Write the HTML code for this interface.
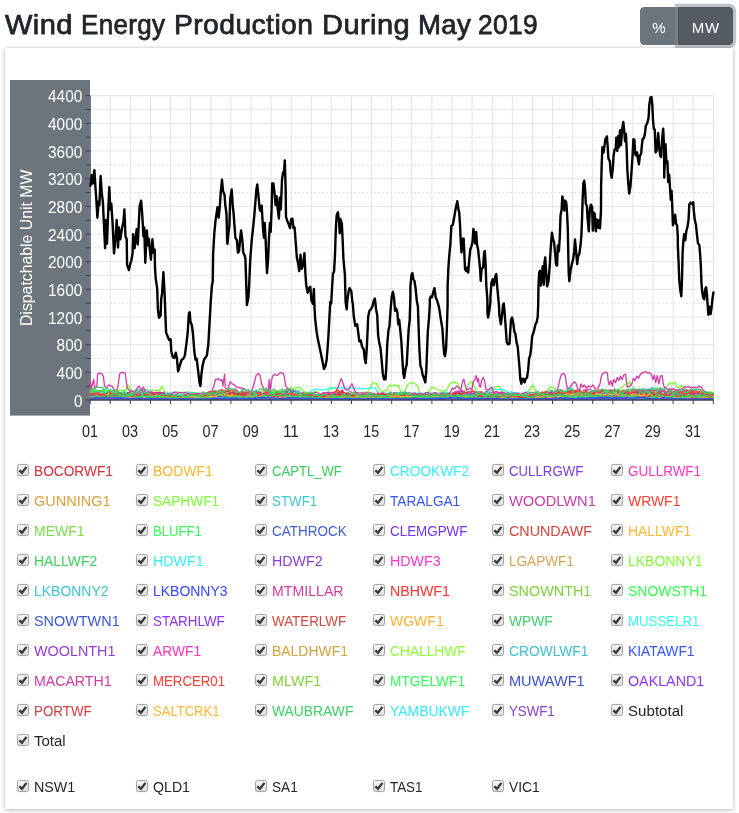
<!DOCTYPE html>
<html lang="en"><head><meta charset="utf-8"><title>Wind Energy Production During May 2019</title>
<style>
html,body{margin:0;padding:0;background:#fff;}
body{width:739px;height:813px;overflow:hidden;position:relative;font-family:"Liberation Sans",sans-serif;color:#212529;}
h3{position:absolute;left:0;top:7px;margin:0;width:600px;height:36px;font-size:27.8px;line-height:36px;font-weight:400;white-space:nowrap;letter-spacing:0.4px;-webkit-text-stroke:0.75px #212529;}
h3 span{position:absolute;top:0;transform-origin:0 0;display:block;}
.btns{position:absolute;left:640px;top:7px;height:38px;display:flex;}
.btn{box-sizing:border-box;height:38px;line-height:39px;color:#fff;font-size:15px;text-align:center;border:1px solid #6c757d;background:#6c757d;}
.b1{width:38px;border-radius:4px 0 0 4px;}
.b2{width:55px;letter-spacing:.8px;text-indent:.8px;border-radius:0 4px 4px 0;background:#545b62;border-color:#4e555b;box-shadow:0 0 0 3.2px rgba(130,138,145,.5);}
.card{position:absolute;left:5px;top:48px;width:728px;height:761px;background:#fff;box-shadow:0 1px 5px rgba(0,0,0,.25),0 0 2px rgba(0,0,0,.12);}
.legend{position:absolute;left:10.2px;top:408px;width:712.2px;display:flex;flex-wrap:wrap;}
.regions{position:absolute;left:10.2px;top:724px;width:712.2px;display:flex;flex-wrap:wrap;}
.it{box-sizing:border-box;width:16.6666%;height:30px;display:flex;align-items:center;padding-left:2px;white-space:nowrap;}
.cb{box-sizing:border-box;display:inline-block;width:12px;height:11.4px;border:1px solid #a3a3a3;border-radius:2.5px;background:linear-gradient(#f6f6f6,#dedede);box-shadow:0 0 1px rgba(0,0,0,.25);margin-right:5px;flex:none;position:relative;top:-0.9px;}
.cb svg{position:absolute;left:-1px;top:-1px;}
.tx{position:relative;top:0.2px;font-size:15.3px;line-height:30px;display:inline-block;transform-origin:0 50%;}
</style></head><body>
<h3><span style="left:5.14px;transform:scaleX(1.0432)">Wind</span> <span style="left:80.50px;transform:scaleX(0.9322)">Energy</span> <span style="left:174.11px;transform:scaleX(1.0181)">Production</span> <span style="left:322.05px;transform:scaleX(1.0445)">During</span> <span style="left:418.17px;transform:scaleX(0.9922)">May</span> <span style="left:477.98px;transform:scaleX(0.9461)">2019</span></h3>
<div class="btns"><div class="btn b1">%</div><div class="btn b2">MW</div></div>
<div class="card">
<svg width="728" height="410" viewBox="5 48 728 410" style="position:absolute;left:0;top:0"><rect x="10" y="80" width="80" height="335.6" fill="#6c757d"/><g stroke="#e1e4e8" stroke-width="1" fill="none"><line x1="90.2" y1="95.7" x2="90.2" y2="400.0"/><line x1="110.3" y1="95.7" x2="110.3" y2="400.0"/><line x1="130.4" y1="95.7" x2="130.4" y2="400.0"/><line x1="150.5" y1="95.7" x2="150.5" y2="400.0"/><line x1="170.6" y1="95.7" x2="170.6" y2="400.0"/><line x1="190.7" y1="95.7" x2="190.7" y2="400.0"/><line x1="210.8" y1="95.7" x2="210.8" y2="400.0"/><line x1="230.9" y1="95.7" x2="230.9" y2="400.0"/><line x1="251.0" y1="95.7" x2="251.0" y2="400.0"/><line x1="271.1" y1="95.7" x2="271.1" y2="400.0"/><line x1="291.2" y1="95.7" x2="291.2" y2="400.0"/><line x1="311.3" y1="95.7" x2="311.3" y2="400.0"/><line x1="331.4" y1="95.7" x2="331.4" y2="400.0"/><line x1="351.5" y1="95.7" x2="351.5" y2="400.0"/><line x1="371.6" y1="95.7" x2="371.6" y2="400.0"/><line x1="391.7" y1="95.7" x2="391.7" y2="400.0"/><line x1="411.8" y1="95.7" x2="411.8" y2="400.0"/><line x1="431.9" y1="95.7" x2="431.9" y2="400.0"/><line x1="452.0" y1="95.7" x2="452.0" y2="400.0"/><line x1="472.1" y1="95.7" x2="472.1" y2="400.0"/><line x1="492.2" y1="95.7" x2="492.2" y2="400.0"/><line x1="512.3" y1="95.7" x2="512.3" y2="400.0"/><line x1="532.4" y1="95.7" x2="532.4" y2="400.0"/><line x1="552.5" y1="95.7" x2="552.5" y2="400.0"/><line x1="572.6" y1="95.7" x2="572.6" y2="400.0"/><line x1="592.7" y1="95.7" x2="592.7" y2="400.0"/><line x1="612.8" y1="95.7" x2="612.8" y2="400.0"/><line x1="632.9" y1="95.7" x2="632.9" y2="400.0"/><line x1="653.0" y1="95.7" x2="653.0" y2="400.0"/><line x1="673.1" y1="95.7" x2="673.1" y2="400.0"/><line x1="693.2" y1="95.7" x2="693.2" y2="400.0"/><line x1="713.3" y1="95.7" x2="713.3" y2="400.0"/><line x1="90.2" y1="400.0" x2="713.3" y2="400.0"/><line x1="90.2" y1="372.3" x2="713.3" y2="372.3"/><line x1="90.2" y1="344.7" x2="713.3" y2="344.7"/><line x1="90.2" y1="317.0" x2="713.3" y2="317.0"/><line x1="90.2" y1="289.3" x2="713.3" y2="289.3"/><line x1="90.2" y1="261.7" x2="713.3" y2="261.7"/><line x1="90.2" y1="234.0" x2="713.3" y2="234.0"/><line x1="90.2" y1="206.4" x2="713.3" y2="206.4"/><line x1="90.2" y1="178.7" x2="713.3" y2="178.7"/><line x1="90.2" y1="151.0" x2="713.3" y2="151.0"/><line x1="90.2" y1="123.4" x2="713.3" y2="123.4"/><line x1="90.2" y1="95.7" x2="713.3" y2="95.7"/></g><g stroke="#dadde1" stroke-width="1" stroke-dasharray="2,2" fill="none"><line x1="90.2" y1="386.2" x2="713.3" y2="386.2"/><line x1="90.2" y1="358.5" x2="713.3" y2="358.5"/><line x1="90.2" y1="330.8" x2="713.3" y2="330.8"/><line x1="90.2" y1="303.2" x2="713.3" y2="303.2"/><line x1="90.2" y1="275.5" x2="713.3" y2="275.5"/><line x1="90.2" y1="247.8" x2="713.3" y2="247.8"/><line x1="90.2" y1="220.2" x2="713.3" y2="220.2"/><line x1="90.2" y1="192.5" x2="713.3" y2="192.5"/><line x1="90.2" y1="164.9" x2="713.3" y2="164.9"/><line x1="90.2" y1="137.2" x2="713.3" y2="137.2"/><line x1="90.2" y1="109.5" x2="713.3" y2="109.5"/></g><g stroke="#3a3f44" stroke-width="1" fill="none"><line x1="85.7" y1="400.0" x2="90.2" y2="400.0"/><line x1="85.7" y1="386.2" x2="90.2" y2="386.2"/><line x1="85.7" y1="372.3" x2="90.2" y2="372.3"/><line x1="85.7" y1="358.5" x2="90.2" y2="358.5"/><line x1="85.7" y1="344.7" x2="90.2" y2="344.7"/><line x1="85.7" y1="330.8" x2="90.2" y2="330.8"/><line x1="85.7" y1="317.0" x2="90.2" y2="317.0"/><line x1="85.7" y1="303.2" x2="90.2" y2="303.2"/><line x1="85.7" y1="289.3" x2="90.2" y2="289.3"/><line x1="85.7" y1="275.5" x2="90.2" y2="275.5"/><line x1="85.7" y1="261.7" x2="90.2" y2="261.7"/><line x1="85.7" y1="247.8" x2="90.2" y2="247.8"/><line x1="85.7" y1="234.0" x2="90.2" y2="234.0"/><line x1="85.7" y1="220.2" x2="90.2" y2="220.2"/><line x1="85.7" y1="206.4" x2="90.2" y2="206.4"/><line x1="85.7" y1="192.5" x2="90.2" y2="192.5"/><line x1="85.7" y1="178.7" x2="90.2" y2="178.7"/><line x1="85.7" y1="164.9" x2="90.2" y2="164.9"/><line x1="85.7" y1="151.0" x2="90.2" y2="151.0"/><line x1="85.7" y1="137.2" x2="90.2" y2="137.2"/><line x1="85.7" y1="123.4" x2="90.2" y2="123.4"/><line x1="85.7" y1="109.5" x2="90.2" y2="109.5"/><line x1="85.7" y1="95.7" x2="90.2" y2="95.7"/><line x1="90.2" y1="400.0" x2="90.2" y2="404.0"/><line x1="110.3" y1="400.0" x2="110.3" y2="404.0"/><line x1="130.4" y1="400.0" x2="130.4" y2="404.0"/><line x1="150.5" y1="400.0" x2="150.5" y2="404.0"/><line x1="170.6" y1="400.0" x2="170.6" y2="404.0"/><line x1="190.7" y1="400.0" x2="190.7" y2="404.0"/><line x1="210.8" y1="400.0" x2="210.8" y2="404.0"/><line x1="230.9" y1="400.0" x2="230.9" y2="404.0"/><line x1="251.0" y1="400.0" x2="251.0" y2="404.0"/><line x1="271.1" y1="400.0" x2="271.1" y2="404.0"/><line x1="291.2" y1="400.0" x2="291.2" y2="404.0"/><line x1="311.3" y1="400.0" x2="311.3" y2="404.0"/><line x1="331.4" y1="400.0" x2="331.4" y2="404.0"/><line x1="351.5" y1="400.0" x2="351.5" y2="404.0"/><line x1="371.6" y1="400.0" x2="371.6" y2="404.0"/><line x1="391.7" y1="400.0" x2="391.7" y2="404.0"/><line x1="411.8" y1="400.0" x2="411.8" y2="404.0"/><line x1="431.9" y1="400.0" x2="431.9" y2="404.0"/><line x1="452.0" y1="400.0" x2="452.0" y2="404.0"/><line x1="472.1" y1="400.0" x2="472.1" y2="404.0"/><line x1="492.2" y1="400.0" x2="492.2" y2="404.0"/><line x1="512.3" y1="400.0" x2="512.3" y2="404.0"/><line x1="532.4" y1="400.0" x2="532.4" y2="404.0"/><line x1="552.5" y1="400.0" x2="552.5" y2="404.0"/><line x1="572.6" y1="400.0" x2="572.6" y2="404.0"/><line x1="592.7" y1="400.0" x2="592.7" y2="404.0"/><line x1="612.8" y1="400.0" x2="612.8" y2="404.0"/><line x1="632.9" y1="400.0" x2="632.9" y2="404.0"/><line x1="653.0" y1="400.0" x2="653.0" y2="404.0"/><line x1="673.1" y1="400.0" x2="673.1" y2="404.0"/><line x1="693.2" y1="400.0" x2="693.2" y2="404.0"/><line x1="713.3" y1="400.0" x2="713.3" y2="404.0"/><line x1="90.2" y1="95.7" x2="90.2" y2="400.5"/></g><g fill="#fff" font-family="'Liberation Sans',sans-serif" font-size="15.6" text-anchor="end"><text x="82.3" y="406.6" textLength="8.4" lengthAdjust="spacingAndGlyphs">0</text><text x="82.3" y="378.9" textLength="25.7" lengthAdjust="spacingAndGlyphs">400</text><text x="82.3" y="351.3" textLength="25.7" lengthAdjust="spacingAndGlyphs">800</text><text x="82.3" y="323.6" textLength="34.3" lengthAdjust="spacingAndGlyphs">1200</text><text x="82.3" y="295.9" textLength="34.3" lengthAdjust="spacingAndGlyphs">1600</text><text x="82.3" y="268.3" textLength="34.3" lengthAdjust="spacingAndGlyphs">2000</text><text x="82.3" y="240.6" textLength="34.3" lengthAdjust="spacingAndGlyphs">2400</text><text x="82.3" y="213.0" textLength="34.3" lengthAdjust="spacingAndGlyphs">2800</text><text x="82.3" y="185.3" textLength="34.3" lengthAdjust="spacingAndGlyphs">3200</text><text x="82.3" y="157.6" textLength="34.3" lengthAdjust="spacingAndGlyphs">3600</text><text x="82.3" y="130.0" textLength="34.3" lengthAdjust="spacingAndGlyphs">4000</text><text x="82.3" y="102.3" textLength="34.3" lengthAdjust="spacingAndGlyphs">4400</text></g><text transform="translate(31.9,247.8) rotate(-90)" fill="#fff" font-family="'Liberation Sans',sans-serif" font-size="15.6" text-anchor="middle" textLength="156.5" lengthAdjust="spacingAndGlyphs">Dispatchable Unit MW</text><g fill="#212529" font-family="'Liberation Sans',sans-serif" font-size="15.6" text-anchor="middle"><text x="89.9" y="436.8" textLength="16" lengthAdjust="spacingAndGlyphs">01</text><text x="130.1" y="436.8" textLength="16" lengthAdjust="spacingAndGlyphs">03</text><text x="170.3" y="436.8" textLength="16" lengthAdjust="spacingAndGlyphs">05</text><text x="210.5" y="436.8" textLength="16" lengthAdjust="spacingAndGlyphs">07</text><text x="250.7" y="436.8" textLength="16" lengthAdjust="spacingAndGlyphs">09</text><text x="290.9" y="436.8" textLength="16" lengthAdjust="spacingAndGlyphs">11</text><text x="331.1" y="436.8" textLength="16" lengthAdjust="spacingAndGlyphs">13</text><text x="371.3" y="436.8" textLength="16" lengthAdjust="spacingAndGlyphs">15</text><text x="411.5" y="436.8" textLength="16" lengthAdjust="spacingAndGlyphs">17</text><text x="451.7" y="436.8" textLength="16" lengthAdjust="spacingAndGlyphs">19</text><text x="491.9" y="436.8" textLength="16" lengthAdjust="spacingAndGlyphs">21</text><text x="532.1" y="436.8" textLength="16" lengthAdjust="spacingAndGlyphs">23</text><text x="572.3" y="436.8" textLength="16" lengthAdjust="spacingAndGlyphs">25</text><text x="612.5" y="436.8" textLength="16" lengthAdjust="spacingAndGlyphs">27</text><text x="652.7" y="436.8" textLength="16" lengthAdjust="spacingAndGlyphs">29</text><text x="692.9" y="436.8" textLength="16" lengthAdjust="spacingAndGlyphs">31</text></g><g fill="none" stroke-width="1.3" stroke-linejoin="round"><path d="M90.2,393.1l2,.8l2,1.1l2,-1.9l2,.9l2,-1.6l2,0l2,2.1l2,.8l2,-1l2,1.9l2,.2l2,.3l2,.2l2,0l2,-.4l2,2.4l2,-2.6l2,.7l2,-1.5l2,.2l2,2.1l2,-1.2l2,1.5l2,.1l2,-1.6l2,-1.3l2,.8l2,1.8l2,-1.2l2,.3l2,1.9l2,-.9l2,-.9l2,-.8l2,1.8l2,-.8l2,-.8l2,.5l2,-.6l2,-.5l2,.4l2,.5l2,-.2l2,.3l2,.3l2,-.9l2,.5l2,-.2l2,-.4l2,.2l2,.3l2,.4l2,.5l2,-1.1l2,-.3l2,.1l2,-.3l2,.2l2,-.2l2,-.6l2,.5l2,-1.8l2,-.7l2,2.5l2,-1l2,1l2,2.4l2,.3l2,-2l2,1.1l2,-.1l2,-.6l2,.2l2,-.3l2,.2l2,.1l2,.4l2,-.4l2,.1l2,-.5l2,-.1l2,1.6l2,-.8l2,-2l2,1.7l2,-.7l2,.6l2,.1l2,.3l2,-1l2,-1.5l2,.8l2,-2.7l2,-.3l2,2.8l2,-.6l2,-.6l2,0l2,-.4l2,-1.2l2,2.3l2,1l2,-2l2,1.7l2,-.6l2,-.1l2,.3l2,0l2,.9l2,-.6l2,.7l2,.1l2,-.3l2,-.3l2,-.5l2,1l2,-.3l2,1.3l2,.2l2,-1.1l2,1.1l2,-1.9l2,2.1l2,.9l2,.2l2,-.3l2,-2.2l2,-.5l2,.9l2,1l2,.8l2,0l2,-.4l2,-.8l2,-.1l2,-.4l2,.3l2,1.2l2,-.3l2,.5l2,-.7l2,.6l2,-1.7l2,1.6l2,-1.1l2,.5l2,-1l2,.7l2,-1.8l2,1l2,-1.6l2,.2l2,.7l2,.9l2,-.2l2,-.2l2,.2l2,.1l2,-1.1l2,.8l2,.8l2,-.8l2,-.3l2,.6l2,-1.1l2,.1l2,1l2,0l2,-.9l2,.3l2,.5l2,-.4l2,.2l2,.1l2,.3l2,2.1l2,.2l2,-1.1l2,.7l2,-.5l2,.2l2,.2l2,-1.5l2,1.4l2,-2l2,-1.7l2,2.1l2,-1.6l2,1l2,1.8l2,-1.9l2,.6l2,.7l2,-1.6l2,2.2l2,-1.6l2,.2l2,1.8l2,-2.4l2,-.4l2,-.9l2,1.1l2,-1.1l2,.1l2,1.1l2,.6l2,-.1l2,-1.1l2,0l2,1.2l2,-.4l2,1.5l2,-.4l2,-.1l2,.3l2,.1l2,-1.1l2,.1l2,.4l2,.6l2,-1.2l2,-1.4l2,-.2l2,0l2,1.7l2,-.7l2,1.3l2,-1.7l2,2.7l2,-.6l2,-1.7l2,2.5l2,0l2,.4l2,-1.8l2,.1l2,-1.3l2,1.6l2,.1l2,-.5l2,-.8l2,.5l2,-1.1l2,.3l2,1.6l2,-.6l2,.9l2,.4l2,-1l2,.6l2,-1.6l2,1.5l2,-3.5l2,2.1l2,-2.2l2,-.5l2,2.2l2,-2.8l2,-.6l2,.8l2,-.8l2,0l2,.8l2,1.2l2,.1l2,-.6l2,0l2,-.1l2,-1.4l2,0l2,2.8l2,.6l2,-1.7l2,-1.7l2,.7l2,-.7l2,1.8l2,-.5l2,1.1l2,-1.8l2,1l2,-1.3l2,2l2,1.7l2,2.6l2,-2.5l2,2.9l2,-2.1l2,-2.2l2,.7l2,1.7l2,-1.5l2,2.1l2,-1.3l2,-.5l2,-.9l2,1.1l2,0l2,.8l2,-1.3l2,.7l2,1l2,-1.5l2,.3l2,1.2l2,-.4l2,1.1l2,-.5l2,-.3l2,-.7l2,-1.7l1.1,-.7" stroke="#d92b38"/><path d="M90.2,398.3l2,.1l2,.2l2,-1.3l2,1l2,-3.6l2,2.1l2,-.8l2,.4l2,-2.1l2,1l2,-1l2,-.2l2,-1.2l2,1.1l2,1.3l2,-.3l2,.2l2,.3l2,-2.2l2,.8l2,.7l2,-.3l2,1.2l2,-.5l2,-.6l2,0l2,-.4l2,2.4l2,-1.4l2,-.5l2,.4l2,1l2,-1.1l2,2.5l2,-.8l2,1.1l2,.3l2,-.1l2,.7l2,.5l2,-.6l2,0l2,.3l2,-.5l2,.2l2,.1l2,-.5l2,.6l2,-1.4l2,-.1l2,-.2l2,1.2l2,-.1l2,.1l2,-.7l2,-1.2l2,-.2l2,-.2l2,1.4l2,-1.4l2,-.7l2,-.9l2,-.5l2,1.9l2,.2l2,-1.8l2,-.3l2,-1.2l2,.8l2,-1.1l2,2.5l2,-2.1l2,.2l2,1.3l2,.6l2,-1.1l2,.3l2,1.7l2,1.3l2,-.5l2,-1.7l2,2.4l2,-1.9l2,3l2,.8l2,.2l2,-3.2l2,-.1l2,1.9l2,1l2,-1.5l2,-1.2l2,1.9l2,-2.9l2,-1.1l2,1.6l2,0l2,-.7l2,1.3l2,-.6l2,-1.2l2,.9l2,.7l2,.9l2,-1.9l2,1.3l2,-1.2l2,-.4l2,1.6l2,1l2,-.6l2,-.1l2,-.5l2,.1l2,-.1l2,.1l2,-.2l2,-.8l2,-.6l2,-.4l2,.9l2,-.3l2,.7l2,1.2l2,-1.2l2,.8l2,-.3l2,.7l2,1.8l2,-.4l2,-.3l2,.1l2,.6l2,.2l2,-1.5l2,.3l2,.2l2,-.9l2,.6l2,-.6l2,-.1l2,.4l2,.5l2,-1.1l2,.1l2,1.7l2,-.3l2,.1l2,.1l2,-1.1l2,.5l2,-1.3l2,-.1l2,1.6l2,-1.5l2,.3l2,-1.3l2,-.4l2,-.5l2,.5l2,.9l2,-1l2,.9l2,-.9l2,1l2,.9l2,.5l2,.1l2,-1.2l2,1.2l2,.1l2,.5l2,.4l2,-1.2l2,-.1l2,-.5l2,-.7l2,1.3l2,1.2l2,-.5l2,-1.5l2,-1.1l2,-.8l2,1.7l2,1.6l2,-.7l2,-1.2l2,1.5l2,-1.8l2,.5l2,1.5l2,.5l2,.7l2,-.7l2,-.4l2,-1.6l2,-.2l2,-.6l2,.5l2,-1.6l2,.8l2,.5l2,.3l2,-.2l2,-.4l2,-1l2,1.2l2,.3l2,-.4l2,1.2l2,.2l2,.9l2,-1.1l2,-.1l2,.6l2,.1l2,1l2,.4l2,-.7l2,-1.3l2,.4l2,.6l2,.3l2,-.1l2,-.9l2,-1.6l2,0l2,.7l2,.7l2,2l2,-1.7l2,1.3l2,-1l2,1.8l2,-2l2,2.3l2,-1.4l2,-1l2,-.7l2,-.4l2,1l2,-1.3l2,-.9l2,0l2,-2.1l2,-.1l2,2.5l2,-1.6l2,1.9l2,-2.2l2,.5l2,-1.2l2,2.6l2,-2.3l2,3.5l2,-.2l2,-.3l2,-.9l2,-2.4l2,.3l2,.1l2,2.5l2,-2.6l2,-.3l2,0l2,1.8l2,-1.8l2,1.1l2,0l2,1.3l2,-.1l2,-.4l2,2.1l2,.9l2,-1.6l2,1.6l2,-1.8l2,3.7l2,-1.2l2,-.3l2,1.7l2,-3.2l2,.7l2,-1.8l2,.2l2,2l2,-3.5l2,1.7l2,-.5l2,-1.2l2,1.7l2,.5l2,-1.7l2,1.8l2,-1.7l2,-1.2l2,1.6l2,-.5l2,.3l2,1.7l2,-.4l2,-2.5l2,-.1l2,.5l2,.9l2,.5l2,-1.4l2,.3l2,.1l2,.2l2,2.4l1.1,-1.3" stroke="#ffb52e"/><path d="M90.2,395.4l2,.7l2,-1.1l2,-1.3l2,0l2,2.1l2,.4l2,0l2,-1.3l2,2l2,-.6l2,.1l2,-.2l2,-1l2,1l2,-.2l2,-.5l2,.2l2,.7l2,-1.1l2,.1l2,-1l2,1.2l2,-.4l2,-.4l2,-.6l2,1.1l2,.7l2,.7l2,0l2,.2l2,-1.5l2,.5l2,.4l2,1.2l2,.2l2,1.2l2,0l2,.5l2,-.4l2,.1l2,.1l2,-1l2,1l2,-.8l2,.1l2,.7l2,-.6l2,-.9l2,-.3l2,.3l2,-.5l2,0l2,.5l2,-.1l2,0l2,.3l2,-.7l2,.2l2,-.9l2,.7l2,-1.1l2,.6l2,-1.3l2,-.5l2,1l2,-.1l2,-.3l2,.8l2,-.8l2,-.8l2,-.3l2,.7l2,0l2,.6l2,-.2l2,-.1l2,.8l2,-1l2,-.6l2,.6l2,-1l2,1.9l2,-.9l2,2.3l2,.1l2,-.8l2,2.2l2,-1.5l2,-.7l2,-.2l2,.8l2,1.1l2,.3l2,-.6l2,1.2l2,0l2,-2.4l2,.1l2,.7l2,-1l2,.1l2,-1.3l2,1.5l2,-.9l2,0l2,.8l2,0l2,-.8l2,.2l2,-.3l2,.7l2,-.4l2,1l2,.7l2,-.8l2,-.2l2,.1l2,-.1l2,-1l2,-.5l2,1.5l2,-1.1l2,1l2,-.7l2,.1l2,-.7l2,-.7l2,-.4l2,1.3l2,.8l2,-1.3l2,.9l2,.8l2,1l2,.3l2,-1.2l2,.6l2,-.5l2,.2l2,.3l2,.2l2,1.1l2,.2l2,-.1l2,-.5l2,-.2l2,-.2l2,0l2,0l2,.3l2,-.7l2,0l2,.2l2,-.4l2,-.6l2,-.1l2,.9l2,-.5l2,-.6l2,-.1l2,.8l2,-.8l2,.9l2,-.4l2,.9l2,-.4l2,.2l2,-1.2l2,.4l2,-.7l2,.5l2,.5l2,-.1l2,-.2l2,0l2,-.2l2,-1.4l2,.3l2,-.4l2,-.6l2,1.1l2,-.3l2,.3l2,.1l2,-.8l2,1.4l2,-.6l2,1l2,-.8l2,1.5l2,-.9l2,1.5l2,-.2l2,.3l2,-.7l2,.1l2,0l2,1.3l2,-.2l2,-1l2,.7l2,-1l2,.4l2,-.6l2,-.2l2,-.6l2,.3l2,-.4l2,1l2,.4l2,.4l2,-.1l2,-.8l2,.3l2,.6l2,0l2,-.5l2,0l2,.2l2,.4l2,-.3l2,-1.1l2,-.2l2,-.6l2,.5l2,-1.2l2,.6l2,-.3l2,-1.4l2,1.7l2,-.2l2,.1l2,-1.8l2,.1l2,.1l2,-.5l2,1.3l2,-.6l2,.9l2,1.7l2,.6l2,-.4l2,.3l2,-.9l2,.3l2,-.1l2,.5l2,1.2l2,-.9l2,-.5l2,.9l2,-.5l2,.8l2,-.3l2,-1.4l2,-.7l2,-.5l2,.7l2,-.1l2,1.4l2,-.1l2,-.5l2,-1l2,-.2l2,.2l2,-.6l2,.3l2,-1.1l2,0l2,0l2,.7l2,1.9l2,-1.2l2,-2.3l2,0l2,0l2,1.3l2,-.1l2,.5l2,-1.5l2,.2l2,-.4l2,.2l2,.1l2,-.3l2,0l2,0l2,.5l2,2.1l2,-.6l2,.6l2,-.5l2,.7l2,-.7l2,1.6l2,-.6l2,2.2l2,.1l2,-1.3l2,-.1l2,1.2l2,-.1l2,-2.1l2,.7l2,1.1l2,-1.8l2,1l2,.6l2,-.4l2,.1l2,-.6l1.1,.1" stroke="#33f3ff"/><path d="M90.2,395.8l2,3.6l2,-1.1l2,-4.2l2,4l2,-2l2,2l2,-1.9l2,-2.1l2,.4l2,.7l2,.9l2,-.9l2,-.2l2,.3l2,-.8l2,-.1l2,2.1l2,1.2l2,-1.3l2,1.5l2,-2.6l2,-.8l2,.5l2,3.2l2,-.7l2,-3l2,1.4l2,-3.3l2,3.6l2,-2.3l2,3.1l2,-3.2l2,-1.5l2,.6l2,.1l2,-.1l2,.3l2,2.2l2,-1.3l2,1.3l2,-.2l2,1.4l2,.3l2,-1l2,.8l2,-.4l2,.5l2,-1.4l2,1.5l2,.2l2,-1.6l2,-.6l2,.3l2,.5l2,.3l2,-.7l2,.1l2,-2.4l2,-.3l2,-.8l2,-.3l2,-.4l2,.3l2,-.6l2,-.7l2,1.8l2,3.9l2,-3.7l2,3.2l2,-1.5l2,.6l2,2.7l2,-1.2l2,.1l2,-1.4l2,.2l2,1l2,-.6l2,-1.3l2,1.2l2,-1.6l2,2.6l2,-3.3l2,2.7l2,1.2l2,-.4l2,.4l2,0l2,-.5l2,.8l2,1.2l2,-1.9l2,3l2,-1.2l2,.4l2,-1.7l2,2.1l2,-1.2l2,.6l2,-1.1l2,-2.1l2,1.8l2,-3.1l2,1.4l2,.1l2,-1.5l2,-2l2,1.9l2,1.1l2,1.2l2,-.5l2,-1.3l2,.5l2,1.3l2,-.8l2,2.3l2,-.6l2,-1.7l2,-1.3l2,.9l2,1.6l2,-2l2,-.1l2,.5l2,-2.3l2,-2.6l2,3.7l2,.1l2,.1l2,-2.4l2,1.5l2,-.8l2,.8l2,2.6l2,-.7l2,.7l2,-2l2,.9l2,.8l2,-.4l2,.3l2,1.9l2,-.3l2,-.6l2,.4l2,.2l2,.1l2,-1.7l2,0l2,-1.1l2,.9l2,1.4l2,-.6l2,1l2,-1.5l2,1.1l2,-1.8l2,2.3l2,-1.1l2,2l2,-.2l2,-.1l2,-1.1l2,.8l2,.8l2,.4l2,.7l2,-.5l2,.5l2,-2.1l2,2.4l2,-2.1l2,1.4l2,-1.6l2,-1.2l2,1.5l2,.6l2,-3.1l2,1.3l2,.3l2,-2.9l2,-.7l2,2.5l2,2.5l2,-2.1l2,-1.3l2,1.6l2,0l2,-.6l2,.4l2,-1.4l2,-1.4l2,1.1l2,-1.7l2,3.8l2,-1.7l2,-1.4l2,-1.8l2,1.1l2,.3l2,-.9l2,1.7l2,1l2,-1.8l2,.6l2,-.5l2,.4l2,2.8l2,-.7l2,-1.7l2,.5l2,.7l2,1.6l2,-.9l2,.3l2,-.2l2,.3l2,-.2l2,1.1l2,.2l2,-.5l2,-1l2,-2.2l2,-1.7l2,1.5l2,-.4l2,-.2l2,-1.3l2,2.2l2,-.4l2,-.7l2,3.4l2,-1.2l2,.9l2,.9l2,.2l2,.3l2,2.3l2,-3.5l2,1.6l2,-.3l2,-2.6l2,3.7l2,-2.7l2,1.1l2,.7l2,-2.4l2,-3.1l2,4.9l2,-.3l2,.9l2,-2.3l2,1.2l2,-3.3l2,3.3l2,-1.8l2,4.9l2,-.9l2,.3l2,-.5l2,-.3l2,-1.4l2,.3l2,-2l2,1.2l2,-3.2l2,-2.4l2,4.1l2,.4l2,-.7l2,-5l2,0l2,.8l2,.7l2,2.8l2,-1.2l2,-3.1l2,1.4l2,-1l2,-.4l2,4.6l2,-1.7l2,-2.5l2,-.4l2,0l2,.1l2,2.6l2,1.5l2,-2.5l2,-1.7l2,2.3l2,.2l2,1.1l2,-3l2,2.6l2,-1l2,-2l2,.2l2,2.3l2,-1.1l2,-.1l2,1.3l2,1.9l2,-1.4l2,1.7l2,-.4l2,1l2,2l2,-.5l2,.2l2,-.7l1.1,1.5" stroke="#7a3ddb"/><path d="M90.2,396.1l2,.2l2,-.7l2,-1.6l2,2.7l2,-3.6l2,.3l2,.6l2,-.6l2,1l2,-.3l2,-2.4l2,-1l2,3.1l2,-2.6l2,2.6l2,-1.4l2,-.2l2,.5l2,.9l2,-2.3l2,0l2,1.2l2,1.1l2,-4l2,0l2,.1l2,.1l2,-.1l2,.6l2,1.4l2,.3l2,1.4l2,.1l2,1.1l2,-.5l2,1.3l2,.7l2,0l2,1.3l2,-.2l2,.5l2,1.2l2,-.4l2,.6l2,.2l2,0l2,-.6l2,-1.4l2,-.8l2,0l2,-.2l2,.5l2,.6l2,-.6l2,.4l2,-1.4l2,1.1l2,-1.7l2,-.3l2,-1.2l2,-1.1l2,.9l2,2.4l2,-3.2l2,.2l2,-3.6l2,3.7l2,.9l2,-3.1l2,1.6l2,.6l2,-3.5l2,0l2,2.7l2,1.8l2,-3.1l2,1.5l2,.5l2,1.6l2,-2.4l2,3.3l2,.4l2,-1.3l2,-1l2,0l2,4.9l2,-1.3l2,1.2l2,-3.2l2,1.9l2,-.2l2,-.2l2,1l2,-.9l2,.9l2,-1.2l2,-2.3l2,-.2l2,.2l2,1.3l2,-4.1l2,-.4l2,.6l2,1l2,.4l2,.7l2,-.4l2,1l2,-.6l2,1.8l2,-1.4l2,1.6l2,-.2l2,.9l2,0l2,-.9l2,-.4l2,-1.1l2,1.6l2,-2.4l2,.5l2,.7l2,-2.8l2,.2l2,1.2l2,-1.4l2,2.7l2,1l2,.3l2,0l2,1.8l2,-1.5l2,2.5l2,.2l2,.7l2,-1.3l2,1.1l2,.4l2,0l2,-1.8l2,0l2,-.9l2,1.2l2,-.9l2,-.5l2,-.2l2,0l2,.2l2,-1.2l2,-1.5l2,.3l2,.7l2,.3l2,-1l2,.2l2,.8l2,-.6l2,.9l2,.8l2,-2.2l2,.2l2,2.1l2,-.7l2,-1.1l2,.5l2,-.4l2,.5l2,.5l2,-1.2l2,1.7l2,-1.1l2,.5l2,-1.1l2,.4l2,.5l2,-.7l2,1.9l2,0l2,-.2l2,1.1l2,-1.4l2,3l2,-1.6l2,-2.7l2,2.8l2,.5l2,.6l2,-.1l2,-1.2l2,-3.1l2,3l2,0l2,-3.1l2,-.5l2,0l2,-.9l2,.1l2,1.3l2,-.3l2,0l2,-1.3l2,.8l2,-.3l2,2.6l2,-2.4l2,3l2,-1.6l2,.3l2,1.2l2,-1.5l2,1.8l2,.6l2,-.6l2,.2l2,-.4l2,-.4l2,.3l2,1.1l2,-1.4l2,-.1l2,-.4l2,1.9l2,.5l2,-.4l2,-3l2,3l2,.8l2,-.6l2,1.9l2,-.6l2,-3.6l2,3l2,-1.9l2,.2l2,1.5l2,-1l2,-.2l2,-1.2l2,-.8l2,-.1l2,-.4l2,-.5l2,-3.5l2,1.1l2,.6l2,-.2l2,-2l2,.1l2,-.8l2,0l2,2.5l2,-.8l2,3.1l2,-2.5l2,-.4l2,.7l2,2.3l2,-2.5l2,2.3l2,-1.4l2,.8l2,-4l2,1l2,4.6l2,-1.5l2,-.4l2,-.1l2,-3l2,2.5l2,-.6l2,1.3l2,1.4l2,-2.6l2,4.6l2,-1.2l2,1.5l2,2.4l2,-2l2,-1.8l2,2.9l2,1.2l2,-2.9l2,-3.1l2,.6l2,-3.4l2,2.8l2,2.3l2,-.6l2,-2.8l2,-3.2l2,0l2,0l2,1.9l2,-.5l2,.3l2,.9l2,-1.7l2,1.9l2,-1.3l2,.4l2,2.4l2,.2l2,-.3l2,2.2l2,.5l2,-2.4l2,0l2,1.4l2,-1.4l2,2.9l2,-2l1.1,1.5" stroke="#ff33c4"/><path d="M90.2,396.5l2,.2l2,1.1l2,-1.1l2,.9l2,-.2l2,-.4l2,0l2,0l2,.7l2,-.1l2,.5l2,-.2l2,-.3l2,.5l2,-.3l2,-.4l2,1l2,0l2,.8l2,-.6l2,.8l2,0l2,-.7l2,.2l2,-.4l2,-.3l2,0l2,0l2,.4l2,0l2,0l2,-.1l2,-.1l2,-.7l2,.7l2,.1l2,0l2,.2l2,-.4l2,0l2,.1l2,-.1l2,.1l2,-.1l2,-.1l2,-.3l2,.2l2,-.2l2,.2l2,0l2,0l2,.2l2,.4l2,-.2l2,-.1l2,.2l2,.3l2,0l2,-.3l2,-.3l2,.2l2,-.5l2,0l2,-.6l2,.7l2,-.8l2,.2l2,1.2l2,.2l2,.2l2,-.5l2,.2l2,.6l2,-.9l2,.3l2,-.8l2,.6l2,.1l2,-.4l2,-.2l2,-.2l2,-.3l2,.3l2,-.4l2,.2l2,-1.2l2,.7l2,.5l2,.3l2,-.4l2,.8l2,-.4l2,-1l2,-.1l2,-.4l2,0l2,.3l2,-.3l2,0l2,.2l2,.6l2,-.1l2,1l2,-.1l2,-.3l2,.3l2,.2l2,.4l2,.6l2,-.2l2,.1l2,-.5l2,.3l2,-.5l2,.1l2,.1l2,-.2l2,-.1l2,.5l2,.3l2,-.8l2,.6l2,-.8l2,.3l2,0l2,-.5l2,.7l2,-.8l2,.6l2,-.5l2,-.2l2,-.1l2,.3l2,-.5l2,.3l2,.2l2,0l2,.4l2,-.3l2,.2l2,0l2,-.3l2,.3l2,.3l2,-.5l2,.4l2,-.3l2,0l2,.1l2,-.1l2,.4l2,-.2l2,.1l2,.1l2,.2l2,0l2,-.3l2,.1l2,.4l2,0l2,.4l2,-.2l2,-.5l2,-.2l2,.5l2,-.7l2,0l2,.6l2,-.2l2,-.4l2,.4l2,.1l2,-.5l2,0l2,-.2l2,.5l2,-.3l2,.3l2,-.8l2,-.2l2,-.4l2,.6l2,-.5l2,-.8l2,.1l2,-.1l2,.2l2,1l2,.1l2,-.5l2,.7l2,-.1l2,-.3l2,.7l2,0l2,-.3l2,.7l2,-.3l2,.1l2,.2l2,0l2,-.7l2,0l2,.2l2,.2l2,-.2l2,.6l2,.4l2,-.1l2,.1l2,0l2,0l2,-.2l2,.2l2,-.4l2,-.2l2,.1l2,-.1l2,-.2l2,.2l2,-.2l2,-.4l2,.2l2,-.2l2,-.2l2,.5l2,-.8l2,0l2,.5l2,-.2l2,.1l2,-.4l2,.1l2,-.6l2,.1l2,-.2l2,-.2l2,0l2,1.1l2,.1l2,-.4l2,-.3l2,.5l2,.2l2,-.3l2,1l2,.5l2,-.5l2,-.1l2,.5l2,-.9l2,-.2l2,-.5l2,.6l2,.4l2,-.1l2,.2l2,.1l2,-.3l2,.7l2,-1.2l2,1.1l2,-1.3l2,.8l2,-1.2l2,1l2,-.6l2,.4l2,-1l2,-.1l2,-.4l2,0l2,.2l2,-.2l2,0l2,0l2,.7l2,.5l2,-.6l2,-.5l2,.1l2,-.2l2,.8l2,-.7l2,.2l2,.3l2,-.6l2,0l2,.9l2,-.8l2,1.2l2,-.7l2,.7l2,.3l2,-.4l2,.5l2,.4l2,.2l2,.1l2,-.4l2,0l2,.1l2,-.5l2,.1l2,.3l2,.2l2,-.7l2,.6l2,-.1l2,.4l2,-.4l1.1,-.4" stroke="#d9a03d"/><path d="M90.2,393l.2,-2.7l1.6,.5l1.7,.6l2.1,.1l2.2,-.1l2.2,-.6l2.1,-.2l2.2,.3l2.1,-.2l2.2,.5l2.2,-.2l2.1,-.2l2.2,-.1l2.2,.1l2.1,-.6l2.2,.2l2.2,-.4l2.1,.3l1.1,-5.4l2.2,2.2l2.1,3.2l2.2,.4l2.2,-.8l2.1,.7l2.2,-.7l2.2,.6l2.1,-.4l2.2,.1l2.2,.5l2.1,-.9l2.2,.1l2.2,.8l2.1,-.4l2.2,0l2.2,-4.3l1.5,3.2l1.7,3.3l2,-.6l2,2.5l2,-.1l2,-2.4l2,.9l2,-.8l2,.5l2,.8l2,-1.2l2,1.5l2,-1.9l2,.4l2,1.8l2,-1.2l2,.1l2,.5l2,-.4l2,-.2l2,-1l2,1.9l2,.7l2,0l2,-.8l2,-.9l2,0l2,.9l2,0l2,-1.6l2,.4l2,.3l2,.4l2,.9l2,-.9l2,-1.3l2,2.2l2,-1.1l2,.3l2,-.9l2,.6l2,-.1l2,1.1l2,-1.9l2,1.2l2,-1l2,1.4l2,-1.8l2,.7l2,.2l2,.8l2,-1.7l2,1.2l2,-.7l2,.2l2,.5l2,1.4l2,-1.4l2,1.4l2,-2.2l2,2.1l2,-1.6l2,-.5l1.6,-1.8l2.2,-3.2l1.6,.8l1.6,.2l2.2,-.1l2.2,-.9l2.1,1.1l2.2,2.1l2.1,2.2l2,-.1l2,1.4l2,-1.2l2,-.3l2,-.7l2,.1l2,1.6l2,1.1l2,0l2,-1.4l2.8,-.5l2.1,-5.4l2.2,2.1l1.6,-1l1.7,-.1l2.1,2.2l2.2,2.2l2,0l2,1.3l2,.1l2,-.5l2,-1.2l2,.9l2,-.2l2,.5l2,-1.1l2,2l2,-.2l2,-2l2,.3l2.1,.1l2.2,-5.4l1.6,-1.8l1.6,-2.6l1.7,.1l1.6,.6l2.2,4.7l2.1,2.1l2.2,1.2l2.2,-.5l2.1,-.6l2.2,-5.4l2.1,1.1l1.7,-.4l1.6,-.7l1.6,1l1.6,.5l.1,-.4l0,-1.1l1.2,2.2l1.8,5.4l1.8,-.3l1.8,.3l2.2,-6.5l2.2,-2.6l1.6,-.6l1.6,-.1l1.6,.5l1.7,1l2.1,1.3l1.1,4.8l2.2,4.3l2,-1.1l2,0l2.5,1.1l2.1,-4.3l2.2,-3.2l2.2,1l1.6,.2l1.6,.9l1.6,1l1.7,.1l1.6,.5l1.6,.6l1.6,-.8l1.7,-.3l2.1,-5.4l2.2,-2.2l1.6,-.4l1.6,-.2l1.7,1.1l1.6,.2l1.7,3.7l1.5,3.2l1.7,.6l1.6,.5l1.6,-2.6l1.6,-2.8l2.2,-3.3l2.2,-1.1l2.1,4.4l2.2,4.3l2,3.9l2,.1l2,-.6l2,-.9l2,.4l2,.9l2,-.3l1.1,-3.5l2.2,-2.2l2.2,-1l1.6,-.5l1.6,-.6l2.2,4.3l2,2.3l2,0l2,1.1l2,-.5l2,-1.6l2,2l2,.5l2,-.3l2,.3l2,0l2,-1l2,.7l2,-1.1l2.1,-2.4l2.2,-3.2l1.7,-2.2l1.5,4.3l1.7,1.2l1.6,2.1l2,.1l2,-.1l2,1.7l2,-.7l1.7,-3.2l2.2,-3.2l2.2,0l2.1,1l.9,1.1l1.6,.6l1.6,.5l1.7,.7l1.6,.4l2,.5l2,1.2l2,.5l2,-.9l2,-.4l2,.4l2,-.2l2,1l2,-1.5l2,-.1l2,.6l2,1l2,.2l2,-.3l2,.8l2,-1.6l2,-.9l2,1.3l2,-.2l2,-.7l2,1.4l2,-.9l2,-.3l2,.2l2,1.7l2,-2.6l2,1l2,-.2l2.4,-3.2l2.2,-2.1l2.2,-2.2l1.6,-.8l1.6,-.3l2.2,-2.2l2.2,4.4l2.1,3.2l2,3.6l2,-.6l2,2l2,-1.2l2,.6l2,-1.5l2,.8l2,.4l2,.7l2,-1.7l2,.6l2,1.1l2,-.1l2,-1.7l2,.9l1.4,-5l2.2,-2.1l2.1,-3.3l1.7,.8l1.6,.3l2.2,-1.7l1.5,5l1.4,.4l1.4,.6l2.2,-3.2l2.1,2.2l2.2,3.2l2,3.2l2,0l2,.8l2,-1.1l2,.3l2,-.9l2,1.1l2,-1.2l2,.5l2,-.4l2,-.1l2,-.5l2,.2l1.3,.8" stroke="#7bff33"/><path d="M90.2,396.2l2,-.6l2,-.1l2,-1.7l2,2.2l2,.4l2,-1.6l2,.3l2,2l2,-1l2,-2l2,1.2l2,-.7l2,-.1l2,.3l2,1.6l2,-1.6l2,-.5l2,.5l2,0l2,-1l2,-.1l2,.1l2,2.2l2,-.9l2,.9l2,-1.1l2,0l2,1.3l2,-.8l2,.6l2,2.3l2,-.2l2,-.8l2,1.5l2,-.6l2,-.5l2,.4l2,-.7l2,1l2,-.4l2,.3l2,.7l2,-1l2,-.1l2,-.2l2,.6l2,-.4l2,.7l2,-.5l2,.4l2,-.3l2,1l2,-.2l2,.1l2,-1l2,.3l2,.7l2,-.8l2,.3l2,-.1l2,-1.3l2,-.6l2,-.2l2,-.1l2,-.5l2,-.1l2,.5l2,0l2,-1.2l2,-1.3l2,.7l2,.3l2,1l2,-1.8l2,2l2,.5l2,-.7l2,-.4l2,1.5l2,-.2l2,-.5l2,-1.9l2,1.3l2,1.2l2,-1.2l2,.3l2,.7l2,-.4l2,-1.2l2,-1.2l2,.8l2,-.8l2,1.3l2,.4l2,.8l2,-1.3l2,1.1l2,-2l2,1.1l2,2.1l2,-.8l2,1.1l2,0l2,.3l2,1.1l2,-.9l2,-.4l2,1.1l2,-1.3l2,.6l2,1.1l2,.2l2,-.7l2,-.5l2,-.2l2,.5l2,-.7l2,0l2,.7l2,-.5l2,-.3l2,-.4l2,1.1l2,-.2l2,-1.4l2,-.4l2,1.2l2,-.3l2,1.3l2,.5l2,-1.1l2,.4l2,-1.1l2,0l2,1l2,-.4l2,-.7l2,1l2,-.5l2,-.1l2,-1.3l2,-.6l2,.3l2,0l2,1.2l2,-.6l2,-.2l2,.2l2,.8l2,-.3l2,-1l2,.4l2,.7l2,.5l2,.6l2,-1l2,.1l2,.5l2,-.3l2,-1.5l2,.1l2,1.5l2,0l2,-.9l2,.6l2,-.6l2,.4l2,0l2,-.8l2,1l2,-.7l2,.5l2,1.4l2,-1.1l2,-.1l2,1.4l2,-.8l2,.1l2,.7l2,-.7l2,-.2l2,.1l2,0l2,.6l2,-1.1l2,-.8l2,1.1l2,-1l2,.9l2,-1l2,1.2l2,-.6l2,-.2l2,.4l2,-.8l2,-.4l2,.6l2,-.2l2,.5l2,1.5l2,-.8l2,-.1l2,.6l2,-1.8l2,.6l2,.7l2,-.4l2,0l2,-.3l2,-.4l2,.3l2,-.1l2,-.1l2,.5l2,.4l2,-.6l2,0l2,.6l2,-.4l2,-.2l2,-.1l2,-1l2,.5l2,.3l2,-.5l2,-.1l2,1l2,-.8l2,.4l2,-.1l2,0l2,.1l2,.5l2,.5l2,-2.2l2,.8l2,.2l2,-.9l2,-1.1l2,2.1l2,-1.4l2,1.7l2,1l2,-2.1l2,1.6l2,-1.7l2,2l2,.1l2,-1l2,1.9l2,-1.1l2,1.3l2,-1.4l2,1.1l2,-1l2,.5l2,-.2l2,-.6l2,.8l2,-.9l2,.6l2,-1.1l2,.5l2,-1.2l2,-.5l2,-.5l2,-1.4l2,.3l2,1.9l2,-.5l2,-.5l2,-.5l2,.5l2,1.2l2,-1.4l2,1.1l2,1.2l2,.1l2,-2l2,1.1l2,-.8l2,-1l2,-.1l2,-.6l2,1l2,.3l2,-1.3l2,1.5l2,-1.5l2,0l2,.7l2,-.7l2,0l2,1.8l2,-1.3l2,1.7l2,.9l2,0l2,-.7l2,0l2,-.6l2,.7l2,0l2,.9l2,.8l2,.5l2,-1.8l2,.9l2,-1.2l2,1.6l2,-.2l1.1,-1" stroke="#3dc9d1"/><path d="M90.2,394l2,.5l2,0l2,1.7l2,.3l2,-2.4l2,1.8l2,-1.8l2,.5l2,.8l2,-.5l2,.9l2,-.1l2,-1.1l2,.5l2,.2l2,1.2l2,-1.3l2,.1l2,1.1l2,.7l2,.3l2,.1l2,1.3l2,.6l2,-2.3l2,1l2,-.6l2,-.2l2,-1l2,.4l2,.1l2,-.8l2,.6l2,.2l2,.2l2,.4l2,1l2,-.8l2,.3l2,.4l2,-.2l2,.1l2,.4l2,0l2,-.2l2,.1l2,.2l2,-.5l2,-.6l2,.3l2,-.1l2,-.5l2,.2l2,-.4l2,.6l2,-.6l2,.1l2,-.4l2,-.1l2,.4l2,0l2,.1l2,-1.7l2,-.2l2,-1.1l2,0l2,2.4l2,0l2,-2.7l2,.3l2,-1.1l2,1.5l2,.5l2,-2.4l2,0l2,.1l2,.8l2,-.3l2,-.1l2,1.8l2,0l2,.8l2,-1.3l2,.8l2,-1.1l2,1.5l2,.1l2,-1.5l2,.8l2,.8l2,-.7l2,-2.3l2,.1l2,2.5l2,-2.8l2,1.8l2,-.9l2,0l2,.3l2,.2l2,2.4l2,-.6l2,1l2,1.1l2,-1l2,1.2l2,-.9l2,-.5l2,.3l2,.9l2,-.5l2,-.3l2,.7l2,.2l2,-.9l2,1.1l2,-1.4l2,1.1l2,-.4l2,-.4l2,1.2l2,-2l2,.5l2,-.4l2,1.2l2,.1l2,1.6l2,-.8l2,.1l2,-.1l2,.8l2,-.1l2,-1.2l2,-1.2l2,.5l2,.2l2,-.4l2,.2l2,-.5l2,-.1l2,.5l2,1l2,.1l2,-1.4l2,.6l2,-.3l2,1.6l2,-.7l2,-1l2,1.1l2,-1.8l2,1.3l2,-.3l2,-.6l2,-.4l2,.2l2,-1l2,1.1l2,.3l2,-.4l2,-2l2,1.6l2,.3l2,-.2l2,0l2,.2l2,-.4l2,.6l2,1l2,-1.3l2,-.5l2,-.4l2,.2l2,1.6l2,-.3l2,-2.4l2,.7l2,-1.7l2,0l2,.2l2,-.2l2,1.1l2,-2.1l2,2l2,-.5l2,-.1l2,2.2l2,-.7l2,1l2,1l2,-1.9l2,.3l2,-.1l2,-.4l2,1.1l2,1.4l2,-1.7l2,-.8l2,-.1l2,.2l2,1.7l2,-.7l2,-.6l2,.7l2,-.5l2,2l2,-.1l2,.1l2,-.9l2,.4l2,.7l2,.3l2,0l2,-.5l2,.5l2,.5l2,-.3l2,-.9l2,.7l2,-1l2,.6l2,.4l2,-1.3l2,-.4l2,.5l2,-.6l2,.6l2,.5l2,-.7l2,-.6l2,0l2,.9l2,-.6l2,-.5l2,-.2l2,.8l2,.3l2,-1.2l2,-.6l2,-1.3l2,-.5l2,1.4l2,1.2l2,-1.4l2,-.1l2,-1l2,1.3l2,-.7l2,.6l2,1.9l2,-.7l2,-1.4l2,-.4l2,0l2,2l2,-3.5l2,1.6l2,-1.9l2,1.7l2,-1.7l2,0l2,0l2,0l2,0l2,0l2,0l2,.7l2,-.7l2,0l2,2l2,-1.6l2,1.1l2,-1.5l2,0l2,3.6l2,-.4l2,-2l2,1.1l2,-.7l2,-1.4l2,-.2l2,2.2l2,-.7l2,-1.5l2,.6l2,1.1l2,0l2,-1.5l2,1.1l2,1.3l2,1.1l2,-.4l2,.8l2,0l2,.9l2,-1l2,2.4l2,-.9l2,0l2,-.7l2,.2l2,.3l2,-1.5l2,1.6l2,-1.5l2,1l2,.6l2,-.2l2,.1l2,-1.4l2,1.1l1.1,-.9" stroke="#3355ff"/><path d="M90.2,397.2l2,.8l2,-.3l2,.5l2,.8l2,-.8l2,0l2,1l2,-.7l2,0l2,.1l2,-.1l2,0l2,.6l2,-.2l2,-.4l2,-.9l2,-.1l2,.1l2,.5l2,-.4l2,.1l2,.2l2,.8l2,-.3l2,.1l2,-.3l2,-.3l2,.6l2,.4l2,.2l2,-.1l2,-1l2,-.4l2,0l2,.8l2,-.2l2,.2l2,-.2l2,.1l2,-.3l2,0l2,0l2,.1l2,.1l2,.4l2,-.5l2,.3l2,-.3l2,.3l2,.1l2,-.6l2,.4l2,.2l2,-.4l2,0l2,.4l2,-.8l2,.3l2,-.3l2,-.1l2,-.8l2,.2l2,0l2,-.2l2,.4l2,.2l2,.1l2,0l2,-.1l2,1l2,.3l2,-.2l2,.1l2,-.2l2,-.2l2,.1l2,-.2l2,-.5l2,.2l2,.7l2,-.2l2,-.5l2,-.3l2,.1l2,.1l2,.1l2,.4l2,.7l2,0l2,-1l2,.5l2,-.5l2,.1l2,.4l2,.3l2,-.2l2,.4l2,-.2l2,-.5l2,.1l2,0l2,.2l2,0l2,.2l2,-.2l2,-.7l2,.7l2,-.7l2,.1l2,.8l2,-.1l2,0l2,-.2l2,.2l2,.2l2,-.1l2,-.1l2,0l2,-.7l2,-.2l2,.5l2,-1l2,-.6l2,.6l2,-.4l2,.4l2,0l2,-.1l2,.8l2,-.2l2,-.1l2,-.1l2,0l2,.2l2,.6l2,.1l2,-.4l2,-.1l2,-.1l2,0l2,-.4l2,.6l2,.1l2,-.3l2,.4l2,-.2l2,-.1l2,0l2,.2l2,-.4l2,.4l2,.7l2,-.1l2,-.1l2,-.2l2,.1l2,-.3l2,.5l2,.3l2,-.3l2,-.3l2,.3l2,-.4l2,-.1l2,-.1l2,.3l2,.4l2,-.3l2,.5l2,-.2l2,.1l2,-.1l2,-.2l2,-.1l2,-.1l2,.2l2,.1l2,.6l2,-.4l2,0l2,-.4l2,.2l2,-.6l2,-.6l2,.1l2,0l2,.8l2,-1.1l2,.3l2,0l2,-.1l2,.4l2,.2l2,-.5l2,.4l2,.1l2,-.2l2,.4l2,0l2,.1l2,-.2l2,-.5l2,.8l2,-.5l2,-.7l2,.5l2,-.4l2,-.2l2,.2l2,.5l2,.2l2,0l2,0l2,-.4l2,.4l2,.2l2,-.1l2,.4l2,.1l2,-.2l2,.1l2,-.8l2,.5l2,-.4l2,.3l2,-.1l2,-.7l2,.6l2,-.8l2,-.1l2,.6l2,-1l2,1.3l2,-.8l2,.2l2,.9l2,0l2,0l2,-.4l2,.2l2,.8l2,.2l2,.1l2,.1l2,-.1l2,-.8l2,.2l2,-.9l2,.5l2,-.8l2,1.3l2,-.7l2,.2l2,-.6l2,.9l2,-.2l2,-1l2,1l2,.4l2,.6l2,-.8l2,-.8l2,.3l2,-.8l2,.4l2,1l2,-.9l2,0l2,-.9l2,0l2,-.3l2,.6l2,-.5l2,-.3l2,.3l2,.1l2,.9l2,-.8l2,.6l2,0l2,-1.1l2,.6l2,.6l2,-.3l2,.7l2,-1l2,-.6l2,0l2,0l2,0l2,0l2,.6l2,.4l2,-.1l2,.1l2,-.3l2,.1l2,.1l2,-.5l2,.7l2,.4l2,.4l2,-.8l2,.6l2,-.7l2,1l2,.2l2,-.7l2,.5l2,-.4l2,0l1.1,0" stroke="#cc3daa"/><path d="M90.2,398.4l2,.1l2,-.3l2,-.1l2,-.6l2,.1l2,.4l2,.3l2,.2l2,-.3l2,-.2l2,.8l2,0l2,.3l2,-.1l2,.2l2,0l2,-.5l2,.4l2,-.2l2,-.3l2,0l2,-.4l2,.1l2,.7l2,0l2,-.3l2,0l2,.3l2,-.5l2,.3l2,.3l2,-.2l2,.1l2,-.4l2,.2l2,-.3l2,-.1l2,.3l2,-.1l2,-.2l2,0l2,.4l2,0l2,0l2,.1l2,0l2,-.3l2,.1l2,.1l2,0l2,.1l2,-.3l2,0l2,.1l2,.2l2,0l2,-.3l2,-.2l2,0l2,0l2,.4l2,0l2,0l2,-.2l2,0l2,-.1l2,.8l2,-.6l2,-.3l2,-.2l2,.3l2,.5l2,-.1l2,-.2l2,-.2l2,.4l2,.1l2,.1l2,.3l2,-.6l2,.3l2,-.3l2,-.4l2,.1l2,.4l2,-.8l2,-.2l2,0l2,.1l2,-.2l2,0l2,.2l2,.1l2,-.5l2,.3l2,0l2,.2l2,0l2,-.4l2,.2l2,-.1l2,0l2,.3l2,.1l2,-.6l2,.2l2,.2l2,.2l2,.3l2,-.2l2,.4l2,.1l2,-.1l2,.3l2,.1l2,.1l2,-.3l2,-.1l2,-.1l2,0l2,.2l2,0l2,-.1l2,-.3l2,-.1l2,.4l2,0l2,.5l2,-.1l2,-.3l2,.3l2,.1l2,-.3l2,.3l2,-.6l2,.3l2,-.2l2,0l2,0l2,-.1l2,.1l2,0l2,-.1l2,0l2,.5l2,-.1l2,-.5l2,.3l2,0l2,-.2l2,0l2,-.3l2,0l2,-.2l2,.4l2,0l2,0l2,-.3l2,-.1l2,.3l2,.2l2,.3l2,0l2,-.4l2,-.1l2,0l2,.4l2,.1l2,-.4l2,0l2,-.2l2,-.1l2,.1l2,.7l2,-.4l2,.2l2,-.3l2,.5l2,0l2,.3l2,-.4l2,0l2,-.4l2,.1l2,-.2l2,.4l2,.2l2,-.2l2,-.1l2,0l2,-.4l2,.2l2,-.1l2,.1l2,.3l2,0l2,-.1l2,.1l2,.1l2,-.6l2,-.2l2,.1l2,-.1l2,.1l2,0l2,-.1l2,0l2,-.1l2,.5l2,.3l2,0l2,-.2l2,0l2,-.1l2,.2l2,0l2,0l2,0l2,0l2,-.3l2,.1l2,.2l2,.1l2,-.5l2,-.1l2,.2l2,.6l2,.2l2,-.3l2,.1l2,-.6l2,.3l2,-.1l2,.6l2,-.1l2,-.7l2,-.1l2,-.2l2,.5l2,.1l2,.1l2,-.3l2,.1l2,-.2l2,.7l2,-.3l2,.2l2,-.6l2,0l2,.1l2,.1l2,-.4l2,.1l2,-.8l2,-.1l2,.2l2,-.2l2,.3l2,.1l2,.3l2,-.7l2,.4l2,.4l2,-.6l2,-.2l2,0l2,0l2,0l2,0l2,.1l2,-.1l2,0l2,.1l2,-.1l2,.5l2,.1l2,.6l2,-.1l2,-.3l2,.4l2,-.4l2,.7l2,-.2l2,-.9l2,-.1l2,-.1l2,.4l2,.6l2,.1l2,-.5l2,.3l2,-.2l2,.3l2,.5l2,.2l2,-.7l2,-.1l2,.2l2,-.1l2,-.1l2,0l2,-.1l2,-.2l2,-.4l2,.2l2,.1l2,.1l2,.2l2,.1l2,-.3l2,.7l1.1,-.5" stroke="#7cd94a"/><path d="M90.2,397.2l2,.1l2,.7l2,-.7l2,-.1l2,.3l2,-.1l2,.3l2,.3l2,-.5l2,.6l2,1l2,-.5l2,-.9l2,.4l2,.4l2,.2l2,.1l2,.6l2,-.4l2,-.2l2,-.2l2,-.8l2,.8l2,-.1l2,-.7l2,-.1l2,.8l2,-.8l2,-.1l2,1l2,-.9l2,1.2l2,-.1l2,.6l2,0l2,-.6l2,-.3l2,.5l2,-.3l2,-.3l2,.1l2,.4l2,-.4l2,.3l2,-.7l2,0l2,-.1l2,-.2l2,.6l2,.2l2,-.2l2,-.1l2,0l2,0l2,.1l2,.1l2,-.3l2,0l2,-.4l2,-.1l2,0l2,-.7l2,.1l2,-.5l2,-.5l2,0l2,.9l2,0l2,-.2l2,-.2l2,.3l2,0l2,-.7l2,1l2,.3l2,-.4l2,.9l2,-.4l2,.2l2,-1.2l2,-.2l2,.6l2,-.5l2,.6l2,-.8l2,.5l2,.2l2,-.9l2,.5l2,0l2,-.3l2,1.3l2,.1l2,-.5l2,.9l2,-.8l2,.2l2,-.6l2,.6l2,-.3l2,.8l2,.4l2,-.2l2,-.4l2,-.3l2,.1l2,.2l2,.3l2,0l2,.1l2,.3l2,.7l2,-.2l2,-.3l2,.2l2,.2l2,-.1l2,.4l2,-.3l2,-.5l2,.4l2,-.1l2,-.9l2,-.1l2,.4l2,.2l2,.5l2,-.1l2,-.8l2,.4l2,-.4l2,0l2,.3l2,.6l2,.3l2,-.5l2,.6l2,-.1l2,-.5l2,0l2,-.1l2,.1l2,.1l2,0l2,-.8l2,.6l2,-.4l2,-.3l2,0l2,-.3l2,.1l2,.4l2,.3l2,-.1l2,.1l2,.1l2,-.3l2,-.1l2,.2l2,-.1l2,0l2,.2l2,-1l2,.3l2,-.2l2,.3l2,-.1l2,.3l2,-.6l2,.2l2,0l2,-.2l2,.1l2,0l2,-.4l2,1l2,-.5l2,.3l2,.2l2,-.2l2,-.8l2,.3l2,-1.3l2,.6l2,.2l2,0l2,.1l2,-.1l2,.1l2,-.1l2,.2l2,-.4l2,.5l2,.6l2,.4l2,.1l2,-.8l2,.3l2,-.4l2,.1l2,.3l2,.2l2,.4l2,-.3l2,.4l2,-.5l2,-.3l2,.2l2,.2l2,0l2,.3l2,.2l2,.1l2,.2l2,-.1l2,.4l2,-.4l2,.3l2,-.2l2,.4l2,-.3l2,.1l2,-.4l2,-.7l2,0l2,-.3l2,.4l2,-.3l2,-.1l2,.1l2,.7l2,.1l2,-.4l2,-.2l2,.7l2,-.8l2,.9l2,-.6l2,1l2,-.1l2,-.9l2,-.6l2,.6l2,-1l2,1.2l2,-1.3l2,-.3l2,.1l2,-.2l2,-.1l2,.6l2,.6l2,-.7l2,0l2,.7l2,-.1l2,.3l2,-.2l2,-1.4l2,.7l2,-.5l2,-.3l2,1.4l2,-.3l2,-1.4l2,.2l2,-.2l2,0l2,0l2,0l2,0l2,0l2,.9l2,-.9l2,.3l2,-.3l2,0l2,0l2,.7l2,.6l2,-1.2l2,-.1l2,0l2,0l2,0l2,0l2,0l2,0l2,.7l2,-.4l2,.1l2,.4l2,-.3l2,.3l2,0l2,.9l2,-.1l2,-.2l2,0l2,-.1l2,.2l2,.7l2,.1l2,-.4l2,.1l2,.5l2,-.7l2,.4l2,-.3l2,0l2,.2l1.1,.4" stroke="#33ff58"/><path d="M90.2,395.3l2,.6l2,.8l2,.7l2,-1.3l2,.1l2,1.1l2,.3l2,-1.9l2,-.2l2,.7l2,.7l2,-1l2,0l2,1.6l2,.2l2,-.6l2,.2l2,-.2l2,.5l2,.8l2,-1l2,.5l2,.1l2,1l2,-.1l2,-1.5l2,-.3l2,1.2l2,-.1l2,0l2,-.6l2,.9l2,.3l2,-.4l2,-.6l2,.7l2,.5l2,0l2,0l2,.1l2,.2l2,.1l2,-.3l2,0l2,-.2l2,-.2l2,-.6l2,-.2l2,.3l2,.3l2,-.2l2,.3l2,-.1l2,-.2l2,-.5l2,.7l2,-.4l2,.5l2,-.4l2,-.8l2,-.1l2,.1l2,-.2l2,-.5l2,-.9l2,-.1l2,.3l2,.6l2,-1.3l2,0l2,0l2,.4l2,.2l2,.6l2,-1.1l2,1.4l2,.9l2,-1.2l2,.6l2,-.3l2,.1l2,.3l2,-1.3l2,0l2,.5l2,-.7l2,1.5l2,-1.5l2,.7l2,.7l2,-1.4l2,0l2,.3l2,1.1l2,.2l2,.5l2,.1l2,.6l2,.4l2,-.6l2,-.1l2,.5l2,-.1l2,-.7l2,.3l2,.5l2,-1.1l2,1l2,-.1l2,-.8l2,-.2l2,.4l2,.6l2,.5l2,.3l2,-.7l2,.2l2,.3l2,-.9l2,0l2,-.5l2,.8l2,-.2l2,-.4l2,.2l2,-.3l2,-1.3l2,.1l2,0l2,.5l2,.4l2,1l2,-.7l2,.8l2,-.5l2,-.1l2,.3l2,-.6l2,.6l2,0l2,-.7l2,.4l2,-.3l2,-.3l2,-.1l2,-.4l2,-.1l2,.6l2,.3l2,-.2l2,-.4l2,.8l2,-.6l2,.4l2,-.5l2,.9l2,0l2,-.6l2,-.1l2,0l2,0l2,.5l2,-.5l2,.5l2,-.5l2,0l2,.6l2,.1l2,-.5l2,.4l2,-.2l2,-.2l2,-.1l2,.1l2,1l2,-.3l2,.9l2,-.2l2,-.2l2,.2l2,-.4l2,-1.2l2,-.6l2,.8l2,.5l2,-.6l2,1.1l2,-1.1l2,1.5l2,-.4l2,-1.1l2,.4l2,.8l2,.6l2,-.6l2,.4l2,.3l2,-1.3l2,.9l2,-1.3l2,.2l2,-.3l2,.7l2,-.9l2,-.1l2,1.3l2,-.5l2,-.4l2,.1l2,-.3l2,.5l2,.4l2,-.4l2,.8l2,-.3l2,.2l2,.1l2,-.6l2,-.1l2,.1l2,-1l2,0l2,-.3l2,.1l2,-.3l2,.2l2,-.6l2,-.3l2,.3l2,.2l2,.5l2,.6l2,.1l2,-.2l2,-1.5l2,1.2l2,-.5l2,.4l2,-.5l2,-.5l2,.9l2,-1.1l2,.8l2,.3l2,-1.4l2,.9l2,-.1l2,-.4l2,1.4l2,-.4l2,1.7l2,-.6l2,.4l2,-1.6l2,1l2,-1l2,.1l2,1.3l2,-1.5l2,.3l2,.6l2,.4l2,-2.3l2,.8l2,1.2l2,-.4l2,.8l2,.5l2,-.6l2,.3l2,0l2,-.8l2,1.3l2,-1.4l2,.5l2,.2l2,-1l2,.2l2,.4l2,.3l2,-2.3l2,-.3l2,-.2l2,0l2,.3l2,1.4l2,.1l2,0l2,0l2,-.4l2,1.2l2,-.8l2,.2l2,.2l2,.2l2,.1l2,-1.5l2,.2l2,-1.2l2,.6l2,-.6l2,.1l2,.3l2,.5l2,1.2l2,-.2l2,-.6l2,0l2,1l2,.1l2,-.5l1.1,-.3" stroke="#3d5fd1"/><path d="M90.2,395.9l2,0l2,.2l2,-.1l2,.2l2,-.1l2,1.1l2,.8l2,-1l2,.1l2,-.4l2,.5l2,.5l2,.8l2,-1.1l2,.2l2,-.8l2,.1l2,.2l2,.4l2,-.3l2,.3l2,-.4l2,.6l2,.4l2,-.3l2,.1l2,.1l2,.3l2,.8l2,-.6l2,.5l2,-.3l2,-.9l2,.5l2,0l2,.6l2,-.7l2,-.3l2,.3l2,.1l2,.5l2,0l2,.2l2,0l2,-.4l2,.3l2,-.1l2,.4l2,-.2l2,-.4l2,-.1l2,.5l2,0l2,-.6l2,.3l2,-.2l2,-.6l2,0l2,-.1l2,.4l2,-1.1l2,.7l2,-.4l2,.9l2,-1.2l2,.7l2,-.2l2,-.2l2,-.6l2,.8l2,-1.3l2,-.4l2,0l2,0l2,.6l2,.4l2,-.2l2,.3l2,-.3l2,.3l2,.4l2,-.7l2,-.2l2,.5l2,-.8l2,1l2,-.4l2,.3l2,-1.2l2,.8l2,.1l2,-.9l2,0l2,.3l2,-.3l2,.7l2,1.3l2,.3l2,-.8l2,-.4l2,.5l2,-.4l2,.3l2,1.2l2,-.4l2,-1l2,-.3l2,.7l2,0l2,.3l2,-.1l2,.6l2,-.4l2,.4l2,.2l2,-.1l2,.1l2,.5l2,-.3l2,.6l2,-.8l2,-.6l2,.5l2,.1l2,-.8l2,0l2,.8l2,-1l2,.1l2,1.1l2,-.2l2,-.2l2,.6l2,.2l2,.1l2,-.4l2,-.2l2,.6l2,-.7l2,-.2l2,0l2,-.1l2,.3l2,-.1l2,-.3l2,-.3l2,.2l2,.5l2,0l2,.1l2,-.8l2,.4l2,.5l2,-.6l2,.2l2,-.4l2,.1l2,.1l2,0l2,-.4l2,-.5l2,.3l2,-.3l2,.2l2,.1l2,0l2,.1l2,.5l2,-.6l2,.4l2,-.3l2,0l2,-.2l2,-.4l2,.1l2,.7l2,-.9l2,.1l2,-.4l2,0l2,-.6l2,.5l2,0l2,0l2,-.6l2,.8l2,.4l2,1.3l2,0l2,-.7l2,-.7l2,.2l2,.5l2,.3l2,-.6l2,-.7l2,.7l2,-.2l2,1l2,-.4l2,.3l2,-.9l2,.7l2,.2l2,.1l2,.5l2,-.1l2,-.1l2,0l2,.1l2,.3l2,-.2l2,.1l2,-.5l2,0l2,.3l2,.3l2,-.6l2,.2l2,-.2l2,.8l2,-.3l2,.4l2,-.6l2,.4l2,-.6l2,.5l2,-.6l2,.3l2,-.7l2,.3l2,0l2,0l2,-.7l2,.4l2,-1.4l2,.6l2,.4l2,.5l2,-.9l2,.3l2,.6l2,0l2,.6l2,-.8l2,.4l2,-.9l2,-.8l2,.5l2,.1l2,-.9l2,.2l2,0l2,-.6l2,0l2,1.2l2,-.1l2,-1.1l2,.1l2,1.4l2,.1l2,-1.3l2,1l2,-.6l2,-.7l2,.2l2,.6l2,-.3l2,-.2l2,-.3l2,0l2,.2l2,.9l2,-1.1l2,0l2,.8l2,-.6l2,.4l2,1.4l2,-1.5l2,.4l2,-.9l2,1.2l2,-.4l2,-.5l2,1l2,-1.3l2,1.5l2,0l2,-.2l2,.8l2,-1.2l2,1.5l2,0l2,.9l2,-.9l2,-.4l2,.4l2,.6l2,-.9l2,-.1l2,.2l2,-.7l2,.1l2,0l2,.2l2,.9l2,-.3l2,-.2l2,-.1l2,1.2l1.1,-.3" stroke="#7433ff"/><path d="M90.2,397.3l2,-.2l2,.1l2,-.2l2,0l2,0l2,.6l2,.1l2,0l2,-.6l2,.7l2,.5l2,-.7l2,-.2l2,-.7l2,.3l2,-.2l2,.5l2,-.1l2,.3l2,-.6l2,.2l2,0l2,.5l2,-.3l2,.4l2,-.2l2,0l2,-.1l2,.5l2,-.2l2,-.1l2,.2l2,-.4l2,.1l2,.8l2,-.3l2,.1l2,-.1l2,0l2,-.2l2,.5l2,.4l2,.2l2,-.4l2,.2l2,.3l2,0l2,.2l2,-.7l2,.4l2,-.2l2,.3l2,-.5l2,.3l2,.2l2,-.4l2,-.3l2,.2l2,0l2,-.2l2,.4l2,-.3l2,-.4l2,.4l2,.5l2,.4l2,-.5l2,-.4l2,-.2l2,.7l2,0l2,-.3l2,.4l2,-1.1l2,.4l2,.1l2,.2l2,.2l2,-.7l2,.4l2,.3l2,-.7l2,.3l2,1l2,-.1l2,-.1l2,-.8l2,-.3l2,.6l2,-.7l2,.6l2,-.6l2,-.5l2,-.1l2,0l2,.2l2,.5l2,0l2,-.5l2,.2l2,.2l2,.8l2,-1l2,.7l2,-.2l2,-.3l2,0l2,.5l2,-.8l2,.1l2,-.3l2,.3l2,.1l2,.2l2,.1l2,-.1l2,-.3l2,0l2,.1l2,.5l2,-.1l2,-.5l2,.1l2,-.2l2,-.2l2,-.1l2,.8l2,-.4l2,-.3l2,.3l2,-.4l2,.1l2,.2l2,0l2,.3l2,.1l2,.4l2,-.1l2,.1l2,.1l2,-.5l2,.4l2,-.1l2,0l2,.6l2,-.5l2,-.3l2,0l2,.3l2,0l2,.1l2,-.1l2,-.1l2,.2l2,-.2l2,.6l2,-.3l2,-.1l2,-.2l2,.1l2,.5l2,.1l2,-.2l2,.1l2,0l2,.1l2,0l2,-.1l2,-.3l2,.1l2,-.1l2,-.3l2,.6l2,-.1l2,-.4l2,.6l2,-.4l2,.2l2,.3l2,.2l2,0l2,0l2,-.7l2,-.2l2,-.1l2,.3l2,-.2l2,-.5l2,-.2l2,-.1l2,.8l2,-.7l2,.4l2,-.4l2,0l2,.8l2,-.5l2,1l2,-.6l2,-.2l2,.5l2,-.6l2,.4l2,-.5l2,.1l2,-.4l2,.4l2,-.2l2,0l2,.5l2,-.2l2,.1l2,-.1l2,.2l2,.1l2,-.1l2,.3l2,-.1l2,-.1l2,-.4l2,0l2,.4l2,-.2l2,-.2l2,-.3l2,-1.1l2,.8l2,-.3l2,0l2,.1l2,-.1l2,0l2,.2l2,.2l2,-.2l2,-.1l2,.4l2,-.1l2,.4l2,.1l2,-.1l2,-.5l2,.4l2,-.3l2,-.1l2,-.6l2,0l2,.4l2,-.6l2,.9l2,-.6l2,1.2l2,.4l2,-.2l2,-.9l2,-.3l2,1.4l2,-.7l2,1.1l2,-.3l2,-.6l2,-1.2l2,.4l2,0l2,.7l2,-.6l2,.6l2,-1.2l2,1.5l2,.2l2,.2l2,.4l2,-.4l2,-.3l2,.1l2,-.3l2,.3l2,.6l2,0l2,-1.7l2,.1l2,.7l2,0l2,-.2l2,-.3l2,.3l2,.1l2,.2l2,-.5l2,.8l2,-1l2,.8l2,.3l2,-.3l2,.7l2,-.4l2,-.5l2,-.5l2,.6l2,-.6l2,-.2l2,.2l2,-.7l2,-.2l2,.8l2,-.3l2,.6l2,.5l2,-.6l2,.2l2,-.3l1.1,.7" stroke="#d1463d"/><path d="M90.2,394.1l2,-.1l2,.9l2,-.9l2,2.7l2,-2.2l2,1.7l2,.7l2,-.9l2,-.5l2,.7l2,-1.9l2,.1l2,.3l2,.2l2,-.3l2,1.2l2,-.2l2,-1l2,.1l2,1.9l2,.4l2,-1.4l2,1.3l2,2l2,-.1l2,-.3l2,-.3l2,.1l2,-.3l2,-.6l2,-.7l2,.7l2,-.4l2,2l2,-.6l2,-1.3l2,.4l2,.3l2,.2l2,-.7l2,.1l2,.9l2,.1l2,.1l2,0l2,.3l2,-.6l2,.1l2,-.4l2,.1l2,1l2,-.3l2,.1l2,.2l2,-.5l2,-1.1l2,.3l2,0l2,-.8l2,-.6l2,-.5l2,.9l2,-.9l2,.6l2,-2.2l2,1.1l2,-1l2,-.1l2,.9l2,1.1l2,-.3l2,.4l2,-.5l2,-1.1l2,1.1l2,-.2l2,-.1l2,-.5l2,-1l2,1.2l2,-.5l2,-1.2l2,1.3l2,0l2,0l2,-1.3l2,1.6l2,-.2l2,-.2l2,1l2,.1l2,-.3l2,1.4l2,-1.9l2,-.3l2,-.8l2,1.7l2,.1l2,1.4l2,-.9l2,.8l2,-1.5l2,.7l2,-1.5l2,1.4l2,.5l2,0l2,-.4l2,1.3l2,-.8l2,.7l2,1l2,-.8l2,1.1l2,-.7l2,.5l2,.1l2,-.4l2,.5l2,0l2,-.2l2,-1.1l2,-.8l2,.5l2,-.3l2,-.1l2,.7l2,1.2l2,-1.1l2,1l2,-.5l2,-.4l2,.4l2,-.4l2,1.2l2,-.1l2,-.3l2,.3l2,.2l2,-1.1l2,-.4l2,.2l2,-.6l2,.1l2,.9l2,.4l2,-.3l2,-1.3l2,0l2,.7l2,-1.4l2,-.2l2,.4l2,.2l2,.3l2,1.1l2,-.6l2,.7l2,-1.2l2,-.1l2,-.3l2,0l2,-.1l2,1.5l2,-1l2,-.2l2,.4l2,-.3l2,0l2,-.5l2,0l2,-.8l2,.8l2,.5l2,-1.3l2,1.6l2,-1.2l2,1l2,-1.3l2,.7l2,.8l2,.2l2,.3l2,-1l2,-.2l2,.2l2,-.9l2,0l2,.3l2,1l2,-1.1l2,-.5l2,.2l2,1.4l2,-.6l2,-.7l2,1.7l2,-.3l2,.5l2,-.3l2,1.5l2,.6l2,-1.1l2,1l2,-.6l2,-.1l2,-.3l2,.4l2,.1l2,-.8l2,.8l2,.2l2,-.1l2,-.8l2,.2l2,0l2,-.4l2,.8l2,-.7l2,.5l2,.6l2,-1l2,.8l2,.2l2,-.9l2,.3l2,-.7l2,-.3l2,.4l2,-.9l2,1.6l2,-1.5l2,.4l2,-.6l2,-.2l2,-.2l2,-.3l2,-.5l2,-.6l2,.5l2,-.4l2,-.2l2,1l2,-.8l2,-.8l2,.2l2,.4l2,.6l2,.1l2,.9l2,-1.6l2,.2l2,-.3l2,-.8l2,.4l2,-.9l2,0l2,.4l2,.3l2,-.7l2,.1l2,.3l2,-.4l2,0l2,.7l2,-.7l2,2.4l2,0l2,-.3l2,-1.3l2,1.1l2,-.2l2,1.2l2,-1.8l2,-.2l2,1.9l2,-1l2,-.3l2,1.5l2,0l2,-3l2,1.6l2,-.5l2,-.7l2,.3l2,1.4l2,.8l2,.1l2,.1l2,.1l2,-.8l2,.9l2,-.1l2,2.3l2,-.7l2,.2l2,-.9l2,1.1l2,-1.4l2,.4l2,0l2,-1.6l2,-.2l2,1l2,-.6l2,.4l2,.1l2,1.5l2,-.7l2,.4l2,-1.1l1.1,0" stroke="#ffb833"/><path d="M90.2,396.3l2,1.5l2,-.2l2,-.7l2,.3l2,2l2,-2.2l2,1.3l2,-1.2l2,.6l2,.4l2,-.9l2,-1.5l2,-.5l2,.6l2,.9l2,.9l2,-1.9l2,1.2l2,-.2l2,-.2l2,.7l2,-.2l2,-1.8l2,1.3l2,-1.1l2,-1.9l2,.1l2,.9l2,.6l2,.3l2,.5l2,-.1l2,0l2,-.1l2,.2l2,.8l2,.6l2,-.2l2,.3l2,-1.4l2,1.1l2,-.4l2,.6l2,-.1l2,.7l2,-1.6l2,0l2,1.4l2,.1l2,-.4l2,.6l2,.3l2,-.4l2,.8l2,-.7l2,.8l2,-.1l2,-1.2l2,.5l2,-1l2,-.7l2,.5l2,-.5l2,.1l2,1.4l2,.5l2,-1.6l2,1.6l2,.9l2,-2.1l2,1.9l2,0l2,-2.6l2,1l2,-2.1l2,-.1l2,1.8l2,-1.5l2,.3l2,.7l2,0l2,.2l2,-.5l2,-.8l2,1.2l2,-.5l2,-.6l2,-1.4l2,-.3l2,1.1l2,.2l2,.1l2,-2.1l2,0l2,.9l2,-.9l2,.7l2,2.8l2,-1.7l2,1.7l2,-1.4l2,-1.1l2,1.1l2,1.5l2,.2l2,-2.2l2,1.8l2,-.7l2,.5l2,.4l2,.5l2,-.3l2,1l2,0l2,-.4l2,.8l2,.8l2,-1l2,0l2,.7l2,-1.5l2,-1.5l2,2.1l2,-1.5l2,.1l2,1l2,-1.1l2,.1l2,1l2,-.1l2,1.6l2,-.1l2,.5l2,-1.3l2,-.1l2,.2l2,-.7l2,.5l2,-.6l2,.3l2,-1l2,.5l2,-.4l2,.3l2,.5l2,-.1l2,-.7l2,.6l2,-1l2,-.1l2,.8l2,.3l2,-1.5l2,-.6l2,.2l2,.8l2,-.6l2,.5l2,.4l2,0l2,-.1l2,-.4l2,.1l2,1.7l2,-.2l2,-.3l2,-.4l2,-.6l2,.3l2,-.5l2,1.4l2,-1.5l2,.2l2,.8l2,-.6l2,1.2l2,.2l2,.1l2,-.1l2,-.3l2,.1l2,-.1l2,-1l2,-.3l2,.5l2,1.3l2,-2.2l2,-.3l2,1.3l2,-1.4l2,2.8l2,-1.6l2,2.5l2,-.8l2,-1.4l2,1.2l2,.5l2,-.1l2,-2l2,1.4l2,-2.3l2,.3l2,-.6l2,.5l2,.9l2,.2l2,.3l2,-.5l2,-.9l2,.7l2,1l2,.2l2,0l2,-.7l2,-.4l2,-.3l2,1l2,0l2,-.3l2,-.3l2,-.1l2,-1.2l2,.7l2,-.8l2,1.3l2,.8l2,.5l2,-1.2l2,-.1l2,-1.2l2,.1l2,.8l2,-.2l2,-1.5l2,2l2,-.1l2,-1.7l2,2.1l2,-.2l2,.1l2,2.3l2,-2.4l2,.2l2,.6l2,-.5l2,2.1l2,-.6l2,-1.5l2,-1.7l2,.3l2,-.5l2,.3l2,.9l2,.4l2,-.1l2,.6l2,-2.3l2,2.5l2,-.3l2,.5l2,-2.6l2,1.2l2,-3l2,2l2,-1.5l2,1.3l2,-2l2,.4l2,0l2,-.4l2,.7l2,1.4l2,-1.9l2,1.4l2,-1.6l2,.8l2,-.8l2,1.7l2,-1.2l2,-.5l2,.2l2,-.2l2,0l2,0l2,0l2,.4l2,1.2l2,1.3l2,-.4l2,-1.8l2,3l2,-1.6l2,1.7l2,-.2l2,.9l2,-2.9l2,1.2l2,1l2,-1.4l2,2.3l2,.4l2,-1.6l2,-.4l2,1.4l2,1.5l2,.3l2,0l2,-.8l2,.3l2,-1.6l2,-.2l1.1,.6" stroke="#33f0ff"/><path d="M90.2,396.4l2,-1.7l2,2l2,-.5l2,-.9l2,-1.4l2,0l2,1.4l2,1.3l2,.2l2,-.4l2,.9l2,.2l2,.5l2,.9l2,-.4l2,-1.5l2,1l2,1.4l2,-1.8l2,.3l2,-.3l2,-1l2,.4l2,.4l2,-.7l2,-1.1l2,-.8l2,.8l2,1.9l2,0l2,-1.2l2,.3l2,-.6l2,1l2,1l2,-.9l2,-.4l2,.4l2,.6l2,-.7l2,.3l2,-1.2l2,.8l2,0l2,-.4l2,.3l2,-1.1l2,.4l2,.3l2,.8l2,.1l2,-.3l2,-.4l2,1.3l2,-.5l2,.1l2,1l2,-1.3l2,.4l2,.4l2,-1.8l2,1.2l2,-1.2l2,-1.3l2,.4l2,-.3l2,0l2,1.3l2,.8l2,-1.7l2,2.9l2,.2l2,.4l2,-1.9l2,1.6l2,-1l2,1.1l2,-.3l2,-1.1l2,.3l2,.3l2,-1.4l2,.1l2,-.2l2,-.2l2,-.2l2,-.5l2,-.3l2,1l2,.3l2,-1.5l2,1l2,-.9l2,.2l2,.1l2,.7l2,-1.8l2,1.1l2,-.7l2,-.6l2,1.1l2,-.7l2,-.5l2,1.6l2,-.1l2,-1.7l2,1.5l2,0l2,1.1l2,-1l2,.6l2,0l2,.3l2,1.7l2,-.5l2,.8l2,-.3l2,.2l2,-.2l2,0l2,-1.1l2,.1l2,-.1l2,-.8l2,1.2l2,-.9l2,1.1l2,.1l2,-.3l2,.3l2,.6l2,.9l2,-.7l2,-.3l2,.9l2,.1l2,-.1l2,-1l2,.5l2,-.4l2,-1.1l2,.7l2,.6l2,-1.3l2,-1l2,.9l2,-.2l2,-.1l2,.8l2,-1.4l2,1.4l2,.3l2,-.7l2,.4l2,-.9l2,.4l2,-.1l2,.1l2,-.5l2,-.8l2,-.6l2,1l2,-.7l2,1.8l2,-1.3l2,0l2,1l2,.1l2,-.2l2,1.1l2,-.8l2,-.5l2,1.3l2,0l2,1.2l2,-.5l2,-.2l2,-.9l2,.5l2,-.8l2,-.3l2,-.9l2,1.6l2,-.9l2,-.8l2,1.3l2,-.6l2,-.6l2,2.1l2,-1.4l2,2l2,-.5l2,-1.6l2,2.3l2,-1.2l2,1.7l2,-1.9l2,.4l2,-1.5l2,.5l2,-.2l2,-.6l2,-.2l2,-.6l2,1.1l2,-.6l2,.5l2,.8l2,-.7l2,.1l2,.6l2,.1l2,1l2,-1.2l2,-.2l2,1.3l2,.2l2,-.5l2,-.3l2,-.6l2,-.4l2,.2l2,-.3l2,-.2l2,-.4l2,-1.2l2,.8l2,-.3l2,.6l2,-.1l2,1.3l2,-.7l2,1.4l2,1.5l2,-.5l2,.1l2,-1.2l2,-.2l2,1.8l2,-1.7l2,.3l2,-.1l2,.3l2,-1.1l2,1.2l2,-1l2,-.2l2,-.7l2,.7l2,.2l2,.3l2,.2l2,-.3l2,.7l2,1.1l2,-.7l2,-2l2,-.4l2,-2.4l2,.2l2,1.7l2,-2.2l2,0l2,0l2,0l2,1.9l2,-1l2,-.9l2,0l2,0l2,0l2,.2l2,0l2,.1l2,.4l2,.8l2,.3l2,.3l2,-1.6l2,-.5l2,.2l2,1.2l2,-1.4l2,.5l2,-.5l2,1.9l2,-.5l2,1.6l2,-1.6l2,2.7l2,-.1l2,-.4l2,1.6l2,-.3l2,-1.4l2,.7l2,1.4l2,.1l2,-1.5l2,1.1l2,-2.6l2,1.4l2,.6l2,-1.6l2,.9l2,.5l2,-1.4l2,.7l2,.2l2,.2l2,.6l1.1,-1" stroke="#8a3dd1"/><path d="M90.2,393.7l2,.5l2,-.5l2,0l2,0l2,0l2,.8l2,.9l2,-.4l2,2l2,-.8l2,-.5l2,.8l2,1.1l2,.5l2,-.7l2,-.5l2,.6l2,-1.8l2,1l2,.5l2,.8l2,-.6l2,-.4l2,.8l2,0l2,.6l2,-.6l2,-.4l2,1.8l2,-.6l2,-1.6l2,2l2,-.5l2,-.7l2,-.4l2,.1l2,-1.2l2,.1l2,1.1l2,-.8l2,.6l2,-.1l2,-.2l2,-.2l2,-.1l2,1l2,.2l2,.1l2,-.1l2,-.9l2,-.1l2,.7l2,-.2l2,0l2,0l2,-.2l2,-.1l2,-.7l2,.5l2,-.4l2,.8l2,-.2l2,-.1l2,-.4l2,1.4l2,-.5l2,.6l2,-.6l2,.7l2,1.1l2,-1l2,-1.2l2,1.8l2,-1.8l2,1.9l2,-1.8l2,-.4l2,-1.4l2,1l2,.2l2,.6l2,-.1l2,-.3l2,-1l2,.5l2,.3l2,-1.5l2,2.4l2,-2.2l2,1.4l2,-1.9l2,-.6l2,-.5l2,0l2,2.2l2,-2.1l2,-.1l2,0l2,0l2,1.4l2,.9l2,.2l2,-.6l2,1.5l2,-.8l2,-.2l2,.9l2,.3l2,.3l2,.3l2,1.1l2,-1.3l2,.1l2,-.3l2,1l2,.3l2,.1l2,-.9l2,.1l2,-1.2l2,.4l2,.7l2,.4l2,.6l2,-.3l2,-2l2,1.5l2,-.6l2,.2l2,-.3l2,.8l2,-.8l2,-.1l2,-.1l2,-.4l2,-.1l2,.2l2,-.3l2,-.5l2,.6l2,-1.2l2,1.7l2,-.2l2,-.1l2,1.1l2,-.3l2,.1l2,-.1l2,-.4l2,-.1l2,-.4l2,.5l2,-.8l2,.5l2,0l2,-.4l2,1.6l2,-1.2l2,.9l2,-.3l2,-.7l2,1.1l2,-.3l2,.8l2,.8l2,-1.2l2,1.2l2,-1.1l2,.5l2,-1l2,1.1l2,-.2l2,-.6l2,-1.2l2,.1l2,-.5l2,-.5l2,.4l2,-.5l2,.7l2,0l2,-1.2l2,1l2,-.9l2,.8l2,-.2l2,.5l2,-.9l2,-1.2l2,.6l2,.9l2,-.5l2,-.2l2,-1.2l2,.4l2,1.3l2,.5l2,.4l2,-.7l2,1l2,.8l2,-1l2,.7l2,.9l2,.8l2,-.9l2,.3l2,-.9l2,.9l2,-.2l2,-.5l2,.3l2,.6l2,-.2l2,-.7l2,.3l2,.5l2,-.3l2,-.4l2,.4l2,0l2,-.3l2,.2l2,-1.3l2,1.4l2,-.5l2,-.4l2,-.3l2,-.2l2,-.5l2,-2.1l2,-.2l2,.8l2,-1.3l2,0l2,0l2,1.1l2,.3l2,1.1l2,-1l2,1.9l2,-2.1l2,.5l2,-.4l2,1.3l2,-.5l2,1.2l2,.2l2,-2l2,1.8l2,-2l2,.9l2,-.5l2,.1l2,2.1l2,-1.1l2,-.4l2,0l2,2.2l2,-1.6l2,2.6l2,0l2,-2.8l2,.8l2,-1.3l2,1.9l2,-1.9l2,-.2l2,1.7l2,-1.6l2,0l2,-1.8l2,1.6l2,-2l2,1.4l2,-1.5l2,0l2,.2l2,.6l2,-.8l2,1.3l2,-.8l2,.7l2,-1.2l2,1.4l2,-1.4l2,2.1l2,-2.1l2,2.3l2,-1.9l2,1.3l2,.2l2,-1.6l2,.4l2,2.8l2,-.5l2,0l2,.8l2,-.6l2,.8l2,.6l2,-.2l2,.7l2,.6l2,-1.7l2,.9l2,-.4l2,-.3l2,1.2l2,-1.9l2,-.5l1.1,.6" stroke="#ff33cf"/><path d="M90.2,395.2l2,-.4l2,.8l2,.5l2,1.9l2,-.6l2,-1l2,2.1l2,.3l2,-1.9l2,1l2,-.8l2,-1.5l2,1l2,-.4l2,-2.9l2,1l2,.4l2,1.8l2,-1.3l2,.1l2,.2l2,-2.5l2,1.4l2,.8l2,-1l2,1l2,-3l2,.4l2,1l2,.3l2,-1.4l2,.7l2,1.3l2,-2.3l2,1.9l2,1.3l2,.4l2,.9l2,-.9l2,.4l2,1l2,.7l2,.6l2,-.7l2,-.6l2,1.2l2,-.9l2,-.1l2,-.4l2,.1l2,-.6l2,.5l2,0l2,.7l2,1l2,-.9l2,-.1l2,0l2,.9l2,-1.4l2,.2l2,-.8l2,.6l2,-.5l2,-.2l2,-.9l2,-.5l2,-2.6l2,.2l2,-1.4l2,2.8l2,-.5l2,-1.4l2,1l2,-.6l2,-.1l2,1.4l2,2.2l2,.4l2,-3.6l2,1.2l2,-.6l2,1.7l2,-1l2,.3l2,0l2,-2.5l2,.2l2,1.2l2,.1l2,0l2,.3l2,2.9l2,-1.1l2,.7l2,.2l2,1.6l2,-.2l2,0l2,.2l2,-1.8l2,3l2,-2.9l2,-1.7l2,2.3l2,-.4l2,.2l2,-1.2l2,0l2,-.5l2,.8l2,.6l2,.7l2,.2l2,-.4l2,.4l2,-1.7l2,1.2l2,-2l2,.8l2,.3l2,-1.4l2,-2.6l2,-.7l2,3l2,.7l2,-.9l2,-1.3l2,2.1l2,.4l2,1.4l2,1.3l2,-.1l2,-.7l2,-.6l2,.1l2,.4l2,-.4l2,.3l2,-.6l2,-.4l2,1.2l2,-.9l2,2.1l2,-1.5l2,.7l2,.5l2,.2l2,.1l2,1l2,0l2,-.7l2,-1.8l2,.5l2,1l2,-1l2,.4l2,-.6l2,-1.3l2,.2l2,-1.1l2,1.9l2,-1.8l2,1.2l2,-1.7l2,.9l2,.1l2,.8l2,.8l2,-2.3l2,-.3l2,.6l2,.1l2,.1l2,0l2,-.3l2,-.3l2,-.7l2,1.1l2,-1l2,.8l2,.4l2,-2.3l2,1.9l2,1.5l2,.1l2,-.9l2,1.1l2,.9l2,-1.6l2,3.3l2,-1.4l2,-1.3l2,.5l2,-.4l2,-1.7l2,.6l2,2.1l2,-2.2l2,-.7l2,1.2l2,0l2,2.3l2,-.3l2,.1l2,-1.4l2,-.5l2,1.1l2,.1l2,-1.2l2,-.8l2,-.3l2,.6l2,1l2,-.4l2,.6l2,-1.3l2,.9l2,-1.1l2,1.6l2,-.4l2,-.5l2,-.4l2,.2l2,1l2,-.5l2,-.6l2,.3l2,-2.3l2,.5l2,.6l2,1.8l2,.1l2,-.6l2,-2.5l2,0l2,2.3l2,1.8l2,1l2,-1l2,-.5l2,.8l2,-1.3l2,1.6l2,.7l2,-.5l2,-3.2l2,-1.1l2,-1.1l2,2.3l2,.1l2,-2.9l2,1.2l2,-.9l2,-.9l2,3l2,-.4l2,.6l2,-4.1l2,.7l2,-.7l2,3.1l2,-1.9l2,-.5l2,-.7l2,0l2,.5l2,-.5l2,0l2,1.6l2,-1.5l2,.3l2,1.2l2,-1.3l2,4.9l2,-1.9l2,-.9l2,-1.2l2,3.5l2,2.7l2,-2.2l2,-.1l2,1.1l2,-.6l2,-1.1l2,.2l2,-2.1l2,3.1l2,-.7l2,-.3l2,-.8l2,1l2,2.1l2,-.3l2,-2.9l2,2.9l2,-1.5l2,-.2l2,1.1l2,-3.2l2,-.8l2,-.1l2,2.1l2,-.5l2,-.8l2,-1.2l2,-.7l2,2.6l2,-.7l2,0l2,.8l1.1,-.7" stroke="#d1a45a"/><path d="M90.2,397.8l2,.2l2,-1.7l2,1.3l2,-.7l2,.1l2,.5l2,1l2,-.4l2,1.3l2,-.9l2,.9l2,-.3l2,-.6l2,-1.4l2,1.5l2,-.3l2,-1.4l2,1.6l2,-1.9l2,.6l2,.5l2,-1.3l2,-.1l2,.9l2,-.9l2,1.5l2,-.6l2,.5l2,-.4l2,1l2,-.4l2,-1l2,0l2,-.6l2,-.1l2,0l2,0l2,.8l2,.1l2,.6l2,.5l2,-.6l2,.6l2,-.7l2,-.2l2,.2l2,.5l2,-.2l2,-.1l2,.3l2,-.6l2,-.2l2,.1l2,.1l2,.1l2,-.5l2,.7l2,-.3l2,.2l2,-.4l2,-.5l2,-.6l2,0l2,-1.3l2,-.3l2,.4l2,.8l2,-.4l2,.9l2,-1.7l2,1.5l2,-.6l2,1.6l2,0l2,.1l2,.3l2,.2l2,.5l2,-.1l2,.1l2,.6l2,-.3l2,-1l2,.1l2,-1l2,.9l2,-1.1l2,1.5l2,-.9l2,1.1l2,-1l2,1.8l2,-.5l2,-.8l2,.9l2,-.1l2,-.6l2,-.8l2,.3l2,1l2,-.8l2,-.1l2,.3l2,.1l2,.3l2,-1.3l2,1.8l2,-.4l2,.3l2,1l2,-.8l2,-.4l2,0l2,.3l2,.1l2,-1.3l2,.4l2,-.2l2,-.4l2,.5l2,.4l2,-.3l2,-1.1l2,.5l2,-1.1l2,.3l2,-.2l2,.8l2,.9l2,-.7l2,1.1l2,-.9l2,-.7l2,.3l2,.3l2,-.6l2,0l2,.3l2,-.5l2,1l2,.3l2,-.2l2,.4l2,-.2l2,-.2l2,-.7l2,.9l2,-.1l2,-.1l2,-1.1l2,.1l2,.7l2,-.5l2,.6l2,-.3l2,.1l2,-.1l2,-.3l2,.5l2,.6l2,-.2l2,.4l2,-.5l2,-.2l2,.5l2,-.9l2,.3l2,.2l2,.2l2,.3l2,-.2l2,.6l2,-.6l2,-.3l2,.2l2,.3l2,.2l2,-.2l2,1.1l2,.2l2,-1.6l2,.7l2,-1l2,.1l2,-.2l2,-.9l2,1l2,-.5l2,.3l2,1.8l2,-1.2l2,1.7l2,-.4l2,-.4l2,-.8l2,1l2,-.9l2,.3l2,-1l2,1.3l2,-.2l2,-1l2,.7l2,-1.1l2,1.4l2,-.5l2,.6l2,-.4l2,-.3l2,1l2,-.3l2,.5l2,-.4l2,-.4l2,.1l2,-.5l2,0l2,-.4l2,.6l2,-.8l2,.8l2,.2l2,-1l2,-.3l2,.2l2,.6l2,-1.9l2,1.5l2,-1.4l2,-.1l2,1.2l2,-1.6l2,.3l2,-1.2l2,0l2,0l2,.7l2,-.4l2,-.3l2,1.9l2,.3l2,-.3l2,1.3l2,-.6l2,-.2l2,-.9l2,-.3l2,-.6l2,.2l2,.9l2,.4l2,-1l2,-.6l2,-.5l2,.2l2,1.4l2,-1.2l2,1.4l2,.9l2,1l2,-.7l2,-.2l2,.5l2,-.2l2,-2.6l2,1.9l2,-2.4l2,1.3l2,-.7l2,2.4l2,-.6l2,0l2,1.2l2,.3l2,-.4l2,.7l2,-.1l2,-.1l2,.6l2,-2.5l2,2.4l2,-2.6l2,2.3l2,-2.2l2,0l2,1.2l2,-2.3l2,.9l2,.1l2,1.7l2,.9l2,.5l2,0l2,-1.3l2,-.7l2,.8l2,-.1l2,-1l2,.3l2,-.2l2,.1l2,-.9l2,.6l2,-.3l2,.4l2,-1l2,1l2,.9l2,.1l2,-.8l2,-.2l1.1,1.2" stroke="#82ff33"/><path d="M90.2,395.5l2,-.6l2,-3.5l2,.5l2,2.6l2,-3.6l2,-.5l2,1.1l2,1.2l2,-1l2,.2l2,-.8l2,-1.6l2,1.9l2,1.5l2,.4l2,1.2l2,-3.3l2,2.2l2,.7l2,-.2l2,3.9l2,-2.3l2,0l2,-1.1l2,1.4l2,1.3l2,1l2,-2.6l2,-1.7l2,-.3l2,2.7l2,.2l2,-1.2l2,.8l2,0l2,-.5l2,.5l2,.9l2,-.5l2,1.6l2,-1l2,1.4l2,-1.5l2,1.5l2,-1.1l2,-1.1l2,0l2,-.1l2,.1l2,-.5l2,-.6l2,-.8l2,.4l2,.5l2,1l2,.3l2,-1.1l2,-2.4l2,.8l2,1.3l2,-.5l2,-1l2,-.9l2,1.5l2,-.7l2,3.6l2,-2.7l2,2l2,.6l2,-1l2,-2.5l2,.5l2,3.4l2,-3.5l2,2.3l2,.2l2,.5l2,.3l2,-1.7l2,.3l2,-2.1l2,2.7l2,.8l2,-2.1l2,2.1l2,-.6l2,-2.2l2,2.8l2,0l2,.1l2,-1.5l2,-.2l2,-3.7l2,-.5l2,.3l2,.8l2,-1.2l2,-1.8l2,0l2,0l2,3.1l2,-1.4l2,0l2,-.8l2,1.6l2,2l2,.6l2,-.7l2,3.1l2,-1.4l2,.4l2,.7l2,1.4l2,-.6l2,-.4l2,-1l2,-.7l2,1.5l2,.4l2,.5l2,-1.6l2,-1.8l2,.1l2,1.3l2,-1l2,.6l2,0l2,1.7l2,-1.2l2,2.8l2,-1.2l2,1.1l2,-1.2l2,-1.9l2,1.5l2,.1l2,-1l2,1l2,-1.3l2,-2.3l2,1.5l2,-1.5l2,1.3l2,.1l2,-1.5l2,.9l2,1l2,-.6l2,.9l2,-.8l2,.4l2,-.8l2,.5l2,1l2,.2l2,.4l2,.9l2,-.4l2,.3l2,-.7l2,-.9l2,1.6l2,-.1l2,-.4l2,-.7l2,0l2,.3l2,1.9l2,-.5l2,-.9l2,.5l2,-.6l2,1.7l2,-1.6l2,-.7l2,-.2l2,2.8l2,-1.8l2,.5l2,-3.2l2,-1.4l2,2.3l2,-.3l2,-1.4l2,-.8l2,.4l2,-.5l2,-.5l2,0l2,1.6l2,-1.3l2,-.1l2,-.4l2,-.3l2,2.3l2,2.1l2,-1.3l2,-1.4l2,0l2,1.1l2,.3l2,0l2,2.1l2,-1.7l2,.1l2,-.2l2,-.1l2,2.8l2,-2.5l2,1.1l2,1.2l2,-.3l2,.2l2,.3l2,-.6l2,.6l2,-.2l2,1.4l2,.5l2,-.6l2,-.1l2,-1.5l2,-.5l2,.4l2,-.8l2,-.9l2,-1l2,.4l2,-1.2l2,-.6l2,-.9l2,1.2l2,-2.5l2,.9l2,-2l2,.5l2,2.2l2,1.9l2,-1.3l2,-2.9l2,2.2l2,1.1l2,-.7l2,1.3l2,-1.2l2,-1.4l2,1.6l2,.1l2,3l2,-4l2,-1.3l2,3.4l2,1.1l2,-1.9l2,2.1l2,-1.3l2,-.4l2,2.6l2,-.1l2,-2l2,3l2,-.8l2,-2.8l2,4.3l2,-.6l2,.7l2,-2.3l2,.2l2,-4l2,-.3l2,0l2,3.2l2,-2l2,.5l2,-3.9l2,1.3l2,-1.3l2,0l2,0l2,.6l2,0l2,-.6l2,3.2l2,.7l2,.4l2,-4.3l2,.8l2,1.6l2,2.3l2,.6l2,-1.9l2,-.5l2,.7l2,1.5l2,-.3l2,.4l2,-.8l2,-.5l2,1.1l2,-1.4l2,1.9l2,2.7l2,-1.8l2,.5l2,-1.4l2,3.3l2,-1.3l2,.3l2,1.6l2,-2.7l2,1.4l1.1,-1.5" stroke="#3dc4d1"/><path d="M90.2,397.2l2,.2l2,.9l2,-.6l2,.7l2,-.4l2,-.3l2,.4l2,.1l2,.8l2,0l2,.3l2,-.5l2,.2l2,-1l2,.6l2,-.3l2,.2l2,.2l2,-.5l2,.1l2,-.2l2,.6l2,.1l2,.4l2,-.5l2,.3l2,.4l2,-.4l2,-.3l2,0l2,-.2l2,-.3l2,.6l2,-.3l2,-.2l2,-.2l2,.2l2,0l2,0l2,.2l2,.1l2,.2l2,.1l2,-.2l2,0l2,-.1l2,.1l2,0l2,-.2l2,.2l2,-.1l2,0l2,-.3l2,.2l2,-.2l2,.3l2,-.1l2,-.2l2,-.5l2,.3l2,-.3l2,0l2,0l2,-.2l2,.4l2,.4l2,-.4l2,-.2l2,-.7l2,-.1l2,.6l2,0l2,.4l2,-.4l2,.4l2,-.3l2,.5l2,-.1l2,0l2,.2l2,.2l2,.5l2,-.5l2,0l2,-.1l2,-.2l2,-.1l2,.8l2,-.5l2,-.6l2,.3l2,0l2,.4l2,.4l2,-.3l2,.6l2,-.6l2,-.1l2,.3l2,.3l2,-.7l2,.6l2,-.1l2,.1l2,-.3l2,-.3l2,-.4l2,.3l2,-.1l2,-.1l2,.8l2,-.1l2,-.5l2,.4l2,.1l2,-.4l2,.1l2,.6l2,-.6l2,.1l2,-.1l2,-.6l2,-.4l2,.1l2,.1l2,.4l2,-.4l2,.3l2,-.2l2,-.4l2,.1l2,.3l2,.6l2,.1l2,-.2l2,.3l2,0l2,-.3l2,0l2,-.3l2,.4l2,.3l2,-.2l2,-.3l2,-.1l2,.1l2,.3l2,-.1l2,.4l2,.2l2,0l2,-.2l2,-.3l2,0l2,.6l2,-.4l2,.2l2,.1l2,-.2l2,.1l2,-.1l2,-.4l2,-.1l2,.6l2,-.1l2,.1l2,.3l2,-.6l2,0l2,.2l2,.5l2,-.3l2,.4l2,0l2,-.5l2,.2l2,-.2l2,-.2l2,-.6l2,.4l2,0l2,-.5l2,-.1l2,0l2,0l2,.2l2,.1l2,.5l2,0l2,.3l2,-.6l2,-.4l2,.6l2,-.1l2,-.8l2,.3l2,.4l2,-.8l2,.4l2,-.7l2,.5l2,.1l2,0l2,.4l2,-.3l2,.1l2,-.1l2,.5l2,.1l2,-.4l2,.6l2,-.4l2,.2l2,-.1l2,.1l2,0l2,-.4l2,.2l2,0l2,.3l2,0l2,-.2l2,-.2l2,-.2l2,.5l2,-.1l2,.3l2,-.3l2,.4l2,-.8l2,.6l2,-.8l2,-.2l2,.2l2,0l2,1l2,-.2l2,-.1l2,-.6l2,.1l2,.2l2,1.1l2,-.2l2,-.1l2,-.3l2,.5l2,-.1l2,-.9l2,.5l2,.4l2,-.9l2,-.1l2,0l2,-.5l2,.3l2,-.4l2,.2l2,.4l2,.4l2,.1l2,-1.1l2,1l2,-.9l2,.9l2,-.6l2,-.2l2,-.2l2,-.4l2,-.2l2,.4l2,-.4l2,0l2,0l2,.7l2,-.1l2,-.6l2,0l2,.3l2,-.3l2,.8l2,-.2l2,.3l2,-.6l2,-.3l2,.2l2,-.2l2,.4l2,-.4l2,.2l2,.5l2,-.7l2,.4l2,-.2l2,0l2,.5l2,.1l2,.3l2,.3l2,-.5l2,.3l2,-.1l2,-.4l2,.1l2,.9l2,-.6l2,0l2,.4l2,-.2l2,.3l2,-.4l2,.4l1.1,-.1" stroke="#3347ff"/><path d="M90.2,398.9l2,-.3l2,-1.5l2,.9l2,-1.3l2,.6l2,.6l2,-.7l2,.7l2,-.3l2,-.8l2,.8l2,.3l2,1.4l2,-1l2,.5l2,-.1l2,-1.1l2,.3l2,.4l2,-.3l2,.2l2,-.7l2,-1.2l2,.8l2,-1.9l2,.5l2,.1l2,1l2,-1l2,1l2,-.9l2,.4l2,-.5l2,1.8l2,-.3l2,.1l2,-.5l2,.7l2,.1l2,0l2,0l2,.3l2,.3l2,-.5l2,0l2,-.3l2,.2l2,.5l2,.1l2,-.7l2,.9l2,-.5l2,-.1l2,.6l2,-.1l2,.5l2,-.3l2,-.1l2,.7l2,-1l2,.6l2,-.5l2,-.1l2,.1l2,-.8l2,.3l2,-.4l2,-1.1l2,.5l2,.5l2,-.7l2,.5l2,-.7l2,1l2,0l2,.1l2,-.6l2,.1l2,.6l2,-.6l2,-.4l2,.2l2,-.4l2,.7l2,-.4l2,-1l2,-.5l2,.8l2,-.9l2,0l2,-.1l2,.9l2,-.8l2,-.1l2,0l2,1.1l2,.6l2,.4l2,.7l2,0l2,-1.2l2,-.4l2,1.3l2,.6l2,-1.1l2,.6l2,.2l2,.2l2,-.2l2,-.7l2,.1l2,1.2l2,.2l2,.1l2,.1l2,-.9l2,.4l2,0l2,-.2l2,.9l2,-.4l2,.8l2,-.9l2,.4l2,-1.3l2,.5l2,.8l2,-.7l2,.5l2,-.6l2,-.7l2,.7l2,-.2l2,-.1l2,.5l2,-1l2,.6l2,-1.2l2,.7l2,0l2,.7l2,.3l2,-.3l2,-.1l2,-.4l2,.3l2,-.3l2,.7l2,-.4l2,-.2l2,-.9l2,-.1l2,.3l2,0l2,.1l2,.8l2,-.6l2,.3l2,-.3l2,.6l2,-.1l2,.7l2,0l2,0l2,.3l2,-.1l2,-.4l2,0l2,.4l2,.2l2,-.6l2,.6l2,-.6l2,.4l2,-.8l2,.8l2,-.6l2,-.3l2,.6l2,-.4l2,-.8l2,.5l2,.8l2,-.9l2,.2l2,-.3l2,-.1l2,-.3l2,1.3l2,.1l2,-.9l2,.1l2,-.5l2,.2l2,-.3l2,-.6l2,.4l2,0l2,-.6l2,-.1l2,.5l2,-.6l2,.8l2,-.5l2,1.5l2,-.7l2,0l2,-.2l2,1.1l2,-.7l2,0l2,.4l2,.2l2,.1l2,0l2,-.1l2,-.4l2,.3l2,-.1l2,.5l2,.2l2,-.9l2,-.3l2,.8l2,-.3l2,.3l2,.7l2,.6l2,-.2l2,0l2,0l2,0l2,-1.2l2,.5l2,-.6l2,.2l2,0l2,-1.7l2,.6l2,.3l2,.2l2,.3l2,-.1l2,-.6l2,.2l2,.3l2,-.6l2,-.1l2,-.4l2,.1l2,.6l2,-.9l2,.4l2,-.4l2,.3l2,0l2,-1.3l2,-.3l2,.5l2,-.5l2,.1l2,.2l2,-.3l2,0l2,0l2,0l2,.5l2,.4l2,-.1l2,.4l2,.7l2,.3l2,-.6l2,-.3l2,-.4l2,.4l2,2.1l2,-.8l2,-1l2,-.2l2,-.4l2,1.8l2,-1.5l2,-.2l2,1.8l2,-1.9l2,1.3l2,0l2,1.1l2,.1l2,-.2l2,-.3l2,-.2l2,.4l2,.1l2,-.3l2,.7l2,-.2l2,.2l2,-.6l2,-1.9l2,-.3l2,1l2,-.5l2,1.2l2,-1.5l2,.1l2,.7l2,-.3l2,.5l2,-.2l1.1,.6" stroke="#d13da0"/><path d="M90.2,392.4l2,2.2l2,-1.6l2,-.2l2,.5l2,2l2,.1l2,-.1l2,.6l2,-1.2l2,1.5l2,1.4l2,1.1l2,-1.2l2,-2.2l2,.4l2,2.2l2,.5l2,.3l2,-1l2,-.7l2,1.9l2,-2l2,1.4l2,-2.6l2,1.8l2,-1.8l2,1.4l2,-1.8l2,1.4l2,-1.6l2,.3l2,.4l2,-1.6l2,1.6l2,1.2l2,.9l2,-.7l2,.7l2,-.2l2,-1.2l2,.1l2,-.2l2,1.1l2,-.6l2,1l2,-.5l2,.3l2,-.8l2,-.7l2,.9l2,-1l2,-.6l2,.8l2,.8l2,-1l2,.2l2,-.6l2,.2l2,-.9l2,-.7l2,-2.1l2,-1.6l2,.3l2,1.9l2,-.2l2,.9l2,-.2l2,-2.9l2,.3l2,2.1l2,.9l2,-1l2,-.1l2,1.4l2,.6l2,-.3l2,-1.4l2,.4l2,1.5l2,1l2,-3l2,3.5l2,-1.7l2,-.5l2,-1.6l2,-.3l2,1l2,-1.9l2,3.4l2,-2l2,-.6l2,.7l2,.5l2,.7l2,-1.3l2,.1l2,-.1l2,.5l2,1.7l2,2.9l2,-.7l2,.1l2,1.9l2,-3.4l2,2l2,-1.2l2,2.1l2,-1.1l2,1.9l2,0l2,0l2,-.7l2,-.1l2,-.2l2,-1.9l2,1l2,.3l2,.5l2,-.1l2,-.5l2,-2.2l2,-.6l2,-1.3l2,.8l2,.3l2,1.2l2,-.9l2,1.6l2,-1l2,1l2,-.8l2,1l2,-1.5l2,1l2,.1l2,1.9l2,-.3l2,-1.3l2,-.1l2,1l2,-1.1l2,-1.8l2,.5l2,.1l2,.7l2,-1l2,.9l2,0l2,-.4l2,-.7l2,-.6l2,-.2l2,.8l2,0l2,.6l2,-.2l2,-.5l2,.4l2,0l2,-1.4l2,.5l2,1.8l2,0l2,.5l2,.7l2,0l2,-.8l2,-1.2l2,.5l2,-.2l2,.1l2,-.3l2,.4l2,1.1l2,-1.3l2,0l2,-.6l2,-.6l2,.8l2,-2.1l2,.2l2,3.2l2,-.7l2,-.1l2,-.8l2,-1l2,-.9l2,.2l2,2.6l2,.5l2,.9l2,-.6l2,-.6l2,2.6l2,-.5l2,-1.7l2,-.3l2,1l2,.1l2,1l2,.1l2,.2l2,-1.5l2,.5l2,-.8l2,.6l2,.7l2,-.3l2,0l2,.6l2,-1.3l2,.9l2,-1.1l2,0l2,-.6l2,1.4l2,.2l2,-.7l2,-.1l2,1l2,-.5l2,-.1l2,-1.2l2,.1l2,-1.5l2,.6l2,.6l2,1.1l2,-.2l2,-2.7l2,-.6l2,.5l2,.4l2,-2.6l2,.7l2,.2l2,1.2l2,-.2l2,-2.3l2,.3l2,-1.3l2,1.2l2,1.4l2,-2.6l2,.2l2,1.9l2,-.3l2,-1.8l2,0l2,2.2l2,-.2l2,-.6l2,-.8l2,3.1l2,-2.2l2,1.7l2,.9l2,-1.4l2,-1.5l2,.4l2,-.4l2,1.3l2,.1l2,1.7l2,1l2,-1.3l2,.9l2,-.5l2,-2.8l2,-1.5l2,5l2,-3.9l2,1.2l2,-.3l2,.5l2,2.5l2,-.2l2,-1.9l2,-.4l2,1l2,-1.2l2,2.3l2,2.2l2,.1l2,-.7l2,1.9l2,-2.8l2,1.8l2,.2l2,-.9l2,2.5l2,0l2,-1.4l2,-.9l2,1.5l2,-3.8l2,3.1l2,0l2,-1l2,-1.4l2,.7l2,-2l2,1.1l2,-2.3l2,1.7l2,.9l2,-2l2,1.5l2,.9l2,-.2l2,-1.2l1.1,2.4" stroke="#7fd13d"/><path d="M90.2,394.3l2,1.6l2,-1.2l2,2.8l2,-2.2l2,1.3l2,-1.9l2,1.7l2,-.4l2,1.6l2,-3l2,-.6l2,2.4l2,0l2,-.8l2,-1.7l2,-2.1l2,2.2l2,-2.1l2,1.7l2,.2l2,-.1l2,.9l2,-.2l2,2l2,-2l2,.4l2,.6l2,-.5l2,0l2,-.8l2,1.7l2,-1.5l2,1.5l2,-1.2l2,2.5l2,-.7l2,-.2l2,.4l2,1.7l2,-.5l2,1l2,-1l2,.9l2,.2l2,-.3l2,-.1l2,-.3l2,-1l2,-.2l2,1.6l2,-.3l2,-.5l2,-1.3l2,.8l2,1.2l2,-.6l2,.5l2,-.6l2,-2.1l2,1.2l2,.4l2,-.7l2,-2.5l2,-1.5l2,.2l2,.6l2,-.6l2,-1.2l2,.4l2,.8l2,1.3l2,1.7l2,-1l2,-.9l2,0l2,2.3l2,-.1l2,-1.5l2,.5l2,.2l2,.4l2,-1.8l2,.8l2,1.4l2,-2.2l2,2.3l2,0l2,.6l2,.8l2,-.7l2,1.8l2,.5l2,.2l2,-1.8l2,0l2,-2l2,0l2,-.1l2,-.7l2,.5l2,-.1l2,.3l2,-.6l2,2.2l2,-2.3l2,-.3l2,.7l2,-.4l2,1.7l2,-1.1l2,.2l2,-.2l2,.5l2,-.9l2,1.2l2,-.1l2,-.7l2,.4l2,-1l2,1.2l2,-.1l2,-.1l2,-1.4l2,1l2,.3l2,2.1l2,-3.3l2,2.4l2,-1.7l2,.3l2,.5l2,.5l2,-.5l2,-.4l2,1.8l2,.6l2,-.2l2,.4l2,.4l2,-1.3l2,1.9l2,-.8l2,.4l2,-.7l2,-.9l2,.6l2,-.3l2,-.6l2,.2l2,-.1l2,-.2l2,.4l2,.6l2,-.9l2,-.7l2,.3l2,1.2l2,-.6l2,-.2l2,-1l2,1l2,-1.8l2,1.5l2,-1.9l2,.4l2,.7l2,-.4l2,.6l2,-1.1l2,1.3l2,-.5l2,-.8l2,1l2,2.1l2,-1.9l2,1l2,-1l2,1.7l2,.2l2,-2.4l2,-.6l2,-1.4l2,2l2,-.8l2,1.8l2,-1.3l2,.6l2,1.9l2,.4l2,-1.1l2,1l2,-1.3l2,.1l2,.9l2,.8l2,-.4l2,-1.9l2,.6l2,-.6l2,-.3l2,1.1l2,-1.5l2,-.7l2,.4l2,1.5l2,-.2l2,0l2,-1.2l2,1.1l2,-.7l2,1.1l2,-1l2,-.3l2,.2l2,.9l2,.1l2,-.8l2,.7l2,.2l2,-.1l2,-1l2,1.5l2,-.7l2,.2l2,-.1l2,-.6l2,1l2,-.6l2,.5l2,-.6l2,-1.2l2,1.3l2,1.1l2,-2.3l2,-1.1l2,2.9l2,.7l2,1.3l2,-2l2,1.5l2,-2.2l2,.9l2,2l2,-2l2,-1l2,-1.2l2,-.5l2,1l2,-.9l2,.3l2,-1.1l2,-1.3l2,2.4l2,-2.5l2,2.1l2,-1.4l2,-.9l2,-.7l2,2.4l2,.6l2,-1.2l2,-1.8l2,.7l2,-.7l2,0l2,1l2,-1l2,.6l2,.1l2,2.2l2,-1.3l2,.9l2,.3l2,1.2l2,-1.2l2,2.6l2,-1.9l2,-.3l2,2.4l2,-1.2l2,.9l2,-2.2l2,-.5l2,2.1l2,.4l2,.9l2,.4l2,-3l2,1.9l2,.1l2,0l2,2.4l2,-2l2,-1.8l2,1.9l2,-1.8l2,-.3l2,-1.9l2,1.1l2,-2.1l2,2.2l2,0l2,-.1l2,-1.9l2,.9l2,1l2,2.3l2,-1l2,0l2,0l2,-.3l1.1,.5" stroke="#33ff4d"/><path d="M90.2,396.5l2,-.2l2,-1.9l2,1.1l2,.5l2,0l2,2.1l2,-1l2,.7l2,1.6l2,-.1l2,-.3l2,-1.8l2,1l2,.3l2,-2.5l2,-.4l2,1.2l2,-.9l2,-.6l2,1.4l2,-.8l2,.2l2,-.3l2,-.2l2,-.9l2,-.2l2,.2l2,2.3l2,-1.6l2,2l2,-.2l2,-.3l2,-.3l2,-1.1l2,.5l2,-.7l2,-.5l2,1.2l2,.9l2,-.7l2,.7l2,.8l2,-.1l2,.2l2,-.4l2,-.4l2,1.2l2,-.2l2,.5l2,-.3l2,-.3l2,.8l2,0l2,-.4l2,-.4l2,0l2,-.3l2,.5l2,-.4l2,.9l2,-.7l2,.7l2,-1.3l2,.6l2,1l2,-1.7l2,.7l2,-.4l2,1.1l2,-1.6l2,.9l2,.1l2,-1.6l2,.1l2,-1.2l2,.4l2,-.3l2,.2l2,0l2,-1.4l2,2.1l2,-.4l2,-.6l2,1l2,-.3l2,-.5l2,-1.8l2,0l2,.7l2,1.7l2,-.3l2,-1.6l2,1l2,.1l2,-.9l2,-1.2l2,1.7l2,-1.3l2,2.9l2,-.8l2,.5l2,2.6l2,-.8l2,-1l2,0l2,.7l2,.8l2,-.5l2,.3l2,-.6l2,.9l2,-.9l2,.1l2,.3l2,0l2,-.9l2,.8l2,-.5l2,.8l2,.2l2,-.7l2,.7l2,-.1l2,-.3l2,0l2,-1.3l2,-.1l2,-1.7l2,.1l2,.9l2,.8l2,-1.3l2,1.1l2,.5l2,-1.2l2,.8l2,-1.3l2,.9l2,.8l2,-.9l2,1l2,.7l2,.3l2,-.6l2,.6l2,-.3l2,-.4l2,-.4l2,0l2,-.4l2,-.2l2,.1l2,1.2l2,-.5l2,-.1l2,.7l2,-.2l2,-.1l2,.5l2,.2l2,-.5l2,1.3l2,.3l2,-.1l2,.1l2,-1.2l2,0l2,-.5l2,-.6l2,-.3l2,.9l2,-1.3l2,-.1l2,1.5l2,.1l2,-.4l2,-1l2,.2l2,-1.4l2,.8l2,.5l2,.3l2,-1.1l2,1.1l2,-1.5l2,.3l2,-1.6l2,.1l2,-.2l2,-.7l2,1.8l2,-.5l2,.6l2,-.7l2,1.3l2,.7l2,-.3l2,.9l2,-.9l2,-.2l2,1.1l2,-.3l2,1.8l2,-1.3l2,.1l2,.7l2,-1.2l2,.5l2,-.4l2,-.1l2,1.2l2,.3l2,-.5l2,.7l2,.6l2,-.7l2,.5l2,0l2,-.6l2,.4l2,-.7l2,-.1l2,-.2l2,-.2l2,-.4l2,0l2,-.3l2,-.9l2,-.2l2,-.2l2,-.9l2,1.1l2,-1l2,-.9l2,.7l2,1.3l2,-.7l2,-.4l2,-.8l2,.8l2,-.9l2,2l2,-1l2,1.4l2,-1.8l2,.1l2,-.5l2,1.2l2,.1l2,-2.2l2,.7l2,1.3l2,1l2,-.3l2,1.8l2,.1l2,1.6l2,-1l2,-1.7l2,1.6l2,-1.7l2,.2l2,.6l2,-.5l2,-.1l2,1.6l2,-2.7l2,1.5l2,-.5l2,-1.3l2,.6l2,-1.8l2,1.7l2,-.7l2,.6l2,0l2,2.3l2,-2.7l2,.7l2,-2.3l2,-.6l2,.9l2,-.9l2,.4l2,-.4l2,0l2,1.3l2,-1.3l2,.1l2,-.1l2,1l2,.3l2,1.1l2,-.4l2,1.2l2,1l2,-.1l2,.1l2,-1.6l2,.2l2,.4l2,-.7l2,-.9l2,1.2l2,1.2l2,-.9l2,1l2,-.6l2,1.8l2,-1.2l2,-.1l1.1,.6" stroke="#3d55d1"/><path d="M90.2,396.3l2,.3l2,2.1l2,-.3l2,-2l2,.8l2,.2l2,1.5l2,-.4l2,.2l2,-.5l2,.7l2,0l2,-1l2,-1.1l2,-1.1l2,.1l2,-.1l2,.6l2,1.8l2,-3l2,.8l2,.5l2,1.7l2,.1l2,0l2,-.6l2,-1.9l2,1.7l2,-.7l2,-.7l2,.4l2,.6l2,.1l2,-1.6l2,1.1l2,0l2,-1.6l2,1.4l2,-1l2,1.8l2,-.6l2,.1l2,-1l2,.9l2,.2l2,-.2l2,.1l2,-.6l2,.1l2,1.5l2,.2l2,-.3l2,-.2l2,-.8l2,1.1l2,-1l2,.1l2,-.4l2,-.1l2,-1.7l2,0l2,-.4l2,1.2l2,-2l2,1.3l2,-.4l2,1.9l2,.3l2,-2l2,-.3l2,2.8l2,-.6l2,2.7l2,-.8l2,-.5l2,.2l2,.6l2,-1.2l2,-.5l2,1.5l2,-1.3l2,-1.4l2,.3l2,.4l2,1.1l2,-2.4l2,-.1l2,.2l2,1.3l2,1.9l2,-2.4l2,.7l2,.1l2,0l2,.4l2,2.1l2,-.6l2,-1.2l2,.6l2,-1.4l2,1.8l2,-1.9l2,-.9l2,-.8l2,0l2,1l2,.9l2,-2.2l2,.3l2,.4l2,-.1l2,.7l2,.5l2,.3l2,.3l2,.6l2,.3l2,.1l2,-1.6l2,.4l2,-1.6l2,1.1l2,.2l2,-2.3l2,.7l2,.2l2,-1.2l2,.5l2,-.3l2,.3l2,.8l2,-.1l2,1.3l2,.3l2,-.1l2,.3l2,-1l2,.4l2,1.2l2,-.5l2,.7l2,.2l2,-.1l2,.6l2,-.6l2,.5l2,.1l2,-.3l2,-.7l2,-.4l2,1.1l2,-1.3l2,-.3l2,1.3l2,.1l2,-.6l2,.3l2,0l2,1l2,-.1l2,-.3l2,1.2l2,-.1l2,-.1l2,-.8l2,.8l2,-.8l2,1l2,-1.5l2,-.9l2,1.1l2,-.2l2,-.8l2,.7l2,-1.1l2,.4l2,-.3l2,-.1l2,1l2,-2.7l2,.7l2,1.1l2,.5l2,-.1l2,.4l2,-2.4l2,1.3l2,-.5l2,.4l2,.5l2,-1.8l2,.1l2,-1.1l2,.6l2,0l2,-1.2l2,0l2,-.2l2,.3l2,.7l2,1l2,.1l2,-1.5l2,1.7l2,.5l2,.8l2,.5l2,-1l2,.6l2,.5l2,-.7l2,1.2l2,-.5l2,-.9l2,.1l2,.4l2,.4l2,.3l2,-.4l2,-.9l2,.5l2,-.5l2,1l2,-1.1l2,-.9l2,1.2l2,1.7l2,-.1l2,.3l2,-1.5l2,.8l2,.3l2,.7l2,-1.1l2,.3l2,.8l2,-.6l2,.3l2,-1.2l2,.8l2,-1.1l2,-1.9l2,.9l2,-.2l2,1.1l2,-.6l2,.7l2,-.1l2,-.4l2,-.1l2,2.1l2,-.9l2,-1.8l2,1.5l2,.2l2,-.9l2,-1l2,1.1l2,-.6l2,-1.2l2,.9l2,-.3l2,-1.9l2,-1l2,0l2,0l2,0l2,0l2,0l2,.6l2,.3l2,1l2,-1.9l2,0l2,0l2,2.1l2,.2l2,-1.1l2,.5l2,-.9l2,-.8l2,2.4l2,-.7l2,-1.2l2,-.5l2,0l2,1.2l2,.7l2,.2l2,.4l2,-2.5l2,.2l2,3.3l2,-1.1l2,2.2l2,.2l2,-.9l2,1.2l2,-1.6l2,2.1l2,-1.8l2,1l2,-1.9l2,1l2,0l2,.9l2,0l2,-1.6l2,1.2l2,1.2l2,.2l1.1,-1.1" stroke="#8533ff"/><path d="M90.2,391.3l2,0l2,1l2,-1l2,1.5l2,-1.1l2,2.7l2,-1.6l2,.8l2,-.1l2,1l2,.7l2,0l2,-.5l2,1l2,1.1l2,-.1l2,.7l2,-1.2l2,.7l2,-2l2,.6l2,2.6l2,-2.3l2,-.1l2,-.7l2,-.5l2,1l2,.4l2,-1l2,1.9l2,.3l2,-.1l2,.4l2,.8l2,-.2l2,-1.5l2,-.7l2,.6l2,.9l2,-1l2,.2l2,-.2l2,.9l2,-.3l2,-.2l2,.1l2,-1.1l2,-.6l2,1.1l2,.1l2,-.7l2,.5l2,-.5l2,1.2l2,.5l2,-.5l2,0l2,.9l2,-1.4l2,-.2l2,.6l2,.3l2,-.6l2,.7l2,-1.1l2,1.7l2,-.5l2,-.9l2,-1.2l2,-.3l2,.1l2,2.6l2,-2.4l2,1.6l2,-2.2l2,2.3l2,-1.4l2,1l2,-1.3l2,.2l2,.2l2,-1l2,1.3l2,-1.2l2,2.7l2,-3.6l2,-.9l2,2l2,-1.3l2,-.2l2,-.2l2,-1.8l2,.1l2,.1l2,-.2l2,.9l2,-.9l2,0l2,1.4l2,.4l2,-.2l2,1.8l2,-1.6l2,1l2,-.6l2,2.6l2,1.7l2,-1l2,1.3l2,-1.6l2,1.4l2,.7l2,.6l2,-.9l2,-.9l2,-.2l2,-.1l2,.9l2,-.7l2,-.4l2,.6l2,-1.5l2,-.3l2,2.2l2,-.4l2,-3.2l2,.5l2,1.7l2,1l2,-1.4l2,.5l2,.1l2,-.6l2,-.1l2,2.1l2,-.4l2,-.5l2,-2.2l2,1.4l2,.2l2,-1.8l2,1.3l2,-.1l2,-2.1l2,.8l2,1.1l2,-.6l2,-.3l2,1.5l2,-1.1l2,-.1l2,.5l2,.6l2,.3l2,-.1l2,.8l2,-.3l2,2.1l2,-.7l2,.5l2,-1.8l2,.1l2,.9l2,.1l2,-1.2l2,.6l2,-.6l2,-.2l2,1.7l2,-.5l2,-.8l2,-1.1l2,.6l2,1.3l2,-.1l2,-1l2,-.5l2,-1.7l2,0l2,2.7l2,-2.1l2,1.7l2,-.8l2,-3.1l2,.1l2,.5l2,-.8l2,1.9l2,-2.4l2,1.4l2,.6l2,-2l2,1.8l2,-1.8l2,-.4l2,0l2,2.1l2,-.4l2,2.9l2,-.7l2,-.9l2,1.5l2,-.2l2,1l2,-.8l2,1.5l2,-1.4l2,1.9l2,.3l2,-1l2,.8l2,-1.4l2,1.5l2,-1l2,.6l2,.3l2,-.7l2,-1.1l2,.9l2,0l2,.7l2,-1.9l2,.8l2,0l2,-.7l2,.3l2,.1l2,-1.8l2,1l2,-2.4l2,.6l2,.8l2,0l2,-3.4l2,1l2,-.5l2,1.9l2,.4l2,-2l2,-.9l2,1.4l2,.2l2,1.3l2,-2l2,2l2,-1.9l2,1.4l2,2.1l2,1.1l2,-3.1l2,1.5l2,-.5l2,.9l2,-.5l2,.7l2,.8l2,-2.6l2,.7l2,-.4l2,.7l2,.2l2,-.9l2,.7l2,-1l2,1.7l2,-1.7l2,0l2,-1l2,-.2l2,1.3l2,2.1l2,-2l2,-.4l2,.3l2,-.9l2,2.1l2,-.7l2,-.6l2,.4l2,-1.5l2,-1.8l2,.4l2,-.5l2,-.1l2,-.1l2,0l2,0l2,1.7l2,.6l2,-2.3l2,.7l2,1.5l2,-.9l2,.2l2,.5l2,2.3l2,-.6l2,1.2l2,.1l2,1.9l2,-2.8l2,1.4l2,.2l2,1l2,.7l2,.3l2,-.7l2,-2.5l2,0l2,.6l2,1.1l1.1,.4" stroke="#d14a3d"/><path d="M90.2,392.6l2,0l2,0l2,2.1l2,.5l2,1.3l2,1.3l2,-.4l2,1.1l2,-1.4l2,1.8l2,-.2l2,.1l2,-.3l2,-3.4l2,1.3l2,-.8l2,-.6l2,2.2l2,-1.4l2,.9l2,-.4l2,-1.9l2,2.6l2,-2.5l2,2.6l2,-2.5l2,-.9l2,2.8l2,-1l2,.3l2,1.2l2,-.3l2,-1l2,-.8l2,.3l2,-.7l2,.6l2,.3l2,1l2,-2.1l2,1l2,.3l2,.7l2,.3l2,-.3l2,.3l2,-1.1l2,.8l2,.5l2,-.4l2,.7l2,.1l2,.2l2,.4l2,-.5l2,1.2l2,.3l2,.4l2,-1.6l2,-.9l2,.8l2,-2.3l2,1.5l2,-1.8l2,2.7l2,-.6l2,-.6l2,-1.1l2,-1.3l2,1.7l2,-.4l2,3.2l2,-2.1l2,1.6l2,-.5l2,-1.2l2,-1.2l2,.9l2,-.3l2,1.1l2,-3.7l2,-.8l2,.6l2,-.9l2,1.1l2,-1.3l2,.7l2,-1.3l2,.6l2,-.6l2,.6l2,-.4l2,-.2l2,0l2,.5l2,.2l2,3.1l2,1.5l2,.3l2,-1.2l2,.7l2,-.3l2,.4l2,-.7l2,1.9l2,.1l2,.6l2,-3l2,1.3l2,-1.1l2,1.9l2,-.4l2,.4l2,.5l2,-.7l2,-.1l2,.9l2,-.1l2,1.1l2,-1.9l2,1.7l2,-.2l2,-2.1l2,.5l2,1l2,.3l2,-2.5l2,.3l2,-.7l2,0l2,-1.1l2,2.3l2,-.5l2,-.2l2,-.4l2,-1.1l2,-.5l2,.6l2,1.4l2,.4l2,-.9l2,-.4l2,.3l2,.7l2,.1l2,.9l2,.8l2,-.2l2,-.6l2,-.1l2,.2l2,-1l2,1.8l2,.3l2,-1.5l2,-.5l2,.5l2,.1l2,.5l2,.3l2,.4l2,-1.9l2,.9l2,0l2,1.2l2,-.7l2,1.9l2,0l2,-.6l2,-.8l2,-.3l2,.6l2,.7l2,-1.9l2,.5l2,-.9l2,-1.5l2,.4l2,.7l2,-.8l2,.2l2,-3.3l2,1.6l2,-.6l2,-.5l2,-.5l2,2.2l2,-1.1l2,.3l2,-1.3l2,1.8l2,.9l2,1l2,-1.5l2,-.7l2,2.5l2,-.9l2,-.2l2,-.2l2,1.2l2,-.4l2,-.6l2,1.2l2,-1.6l2,.7l2,1.5l2,.4l2,-.3l2,.4l2,-1.5l2,1.7l2,-1l2,1.7l2,-.6l2,1.3l2,-.8l2,0l2,-.4l2,1l2,0l2,-1l2,.6l2,-1.9l2,.3l2,-1.8l2,1.6l2,-2.1l2,.8l2,.2l2,-2.2l2,-.7l2,-.1l2,2l2,-.2l2,-1.2l2,2.1l2,-2l2,-.1l2,1l2,-1l2,1.7l2,.2l2,-.5l2,-.6l2,-.8l2,.1l2,-1.3l2,3.1l2,-1.8l2,-.8l2,.2l2,-.1l2,1.3l2,.8l2,-1.2l2,2.5l2,-2.7l2,.1l2,2.8l2,-2.3l2,2.6l2,1l2,1.4l2,.2l2,-2.2l2,-2.2l2,4.2l2,-2.3l2,2.6l2,-1.9l2,0l2,-1.4l2,-1.2l2,-.9l2,2.5l2,-1.4l2,-.8l2,-.6l2,-2.4l2,-.1l2,0l2,.1l2,-.1l2,0l2,.5l2,2.5l2,-2.6l2,2.3l2,2.1l2,-1.3l2,-1.7l2,.1l2,-1.3l2,.8l2,.5l2,-.2l2,-1l2,.9l2,0l2,1.2l2,-2.6l2,1.2l2,1l2,1.3l2,1.3l2,-.7l2,.8l2,2.3l2,-1.3l2,1.7l2,-1.4l1.1,-.5" stroke="#ffb133"/><path d="M90.2,398.8l2,-.5l2,.5l2,0l2,.1l2,.1l2,-.2l2,.1l2,.4l2,0l2,0l2,-.2l2,-.1l2,.2l2,-.3l2,.1l2,0l2,.1l2,-.5l2,0l2,.3l2,-.1l2,-.2l2,-.1l2,.1l2,.1l2,.3l2,-.3l2,0l2,0l2,-.1l2,0l2,0l2,.1l2,0l2,-.1l2,.2l2,0l2,.1l2,0l2,.1l2,-.2l2,.3l2,0l2,0l2,.1l2,-.1l2,.1l2,-.1l2,.1l2,-.1l2,.1l2,0l2,-.1l2,0l2,.2l2,-.2l2,0l2,-.1l2,.2l2,-.1l2,.3l2,-.1l2,0l2,-.4l2,.1l2,.1l2,0l2,-.2l2,-.2l2,.1l2,0l2,-.3l2,.3l2,0l2,-.5l2,0l2,.4l2,-.1l2,.3l2,-.1l2,0l2,0l2,0l2,.2l2,-.4l2,0l2,0l2,-.2l2,.2l2,-.1l2,.2l2,-.3l2,-.1l2,.3l2,0l2,.5l2,-.1l2,-.3l2,.3l2,.2l2,.1l2,0l2,-.3l2,-.1l2,.1l2,.2l2,-.1l2,0l2,-.3l2,.2l2,.1l2,-.1l2,.1l2,.1l2,-.1l2,.1l2,-.1l2,-.1l2,.1l2,0l2,-.2l2,0l2,-.2l2,.3l2,-.2l2,-.5l2,0l2,.4l2,0l2,.2l2,0l2,-.1l2,0l2,.3l2,-.1l2,-.1l2,.1l2,.1l2,-.1l2,0l2,-.1l2,.2l2,-.2l2,0l2,.1l2,0l2,.1l2,.1l2,0l2,-.1l2,.2l2,.1l2,-.1l2,-.2l2,.3l2,-.2l2,0l2,.1l2,-.1l2,-.1l2,0l2,0l2,0l2,-.1l2,-.2l2,.1l2,0l2,.2l2,-.1l2,-.1l2,0l2,0l2,0l2,.1l2,0l2,-.1l2,0l2,-.3l2,-.1l2,.2l2,-.2l2,.2l2,-.1l2,-.3l2,.1l2,.5l2,.1l2,.1l2,-.3l2,0l2,.2l2,.1l2,0l2,-.2l2,.2l2,-.1l2,0l2,0l2,.2l2,-.2l2,.1l2,.1l2,-.1l2,.1l2,-.1l2,.1l2,-.1l2,0l2,.3l2,-.2l2,0l2,-.2l2,.1l2,.1l2,-.1l2,-.1l2,.1l2,-.2l2,.2l2,-.2l2,0l2,-.1l2,-.1l2,.1l2,.1l2,0l2,-.1l2,.1l2,-.4l2,.3l2,0l2,.1l2,-.3l2,.1l2,-.1l2,-.2l2,.5l2,0l2,0l2,.1l2,.1l2,.1l2,-.1l2,.2l2,-.1l2,0l2,-.3l2,0l2,0l2,.4l2,-.6l2,.1l2,-.1l2,.1l2,.2l2,-.2l2,-.4l2,.5l2,-.3l2,.4l2,-.3l2,0l2,.1l2,-.2l2,.1l2,.2l2,-.2l2,-.4l2,0l2,0l2,0l2,0l2,0l2,0l2,0l2,0l2,.4l2,.2l2,-.5l2,.3l2,-.4l2,.2l2,.2l2,.1l2,.2l2,-.6l2,0l2,0l2,.7l2,-.5l2,.1l2,.3l2,-.2l2,.3l2,0l2,-.1l2,0l2,.3l2,.1l2,-.1l2,0l2,-.5l2,.2l2,-.3l2,.2l2,-.1l2,0l2,.2l2,-.3l2,.1l2,-.1l1.1,.2" stroke="#3dd16a"/><path d="M90.2,393.5l2,-.7l2,1.2l2,0l2,.5l2,-1.9l2,.1l2,-.2l2,.2l2,1.5l2,-1.7l2,1.1l2,-.9l2,.2l2,.4l2,1.1l2,-.6l2,-1.7l2,.8l2,-.4l2,2l2.4,-2l2.2,-2.6l2.2,.1l2.1,-.3l2.2,-.5l2.2,.7l2.1,.3l2.2,.1l2.1,2.2l2,2.3l2,-.5l2,-1.5l2,1.7l2,-1l2,.7l2,-.5l2,-.4l2,-.2l2,.2l2,-.3l2,-.6l2,2l2,-.1l2,.6l2,-.9l2,-.3l2.9,.9l2.1,-2.1l1.6,.2l1.7,-.2l2.1,2.1l2,-2.1l2,1.5l2,-.7l2,-.7l2,.1l2,.9l2,-.8l2,.6l2,.4l2,-.6l2,-.7l2,1l2,-.7l2,0l2,-.2l2,.5l2,-.8l2,1.6l2,.9l2,-1.6l2,.9l2,.6l2,-2.5l2,.3l2,1.9l2,0l2,-.5l2,-1.4l2,.8l2,1.2l2,.1l2,-.3l2,-1.6l2,1.8l2,-1.4l2,1l2,-1.6l2,2.3l2,-1l2,.3l2,-1.4l2,1.1l2,-.1l2,.1l2,-.7l2,1l2,-1l2,-.2l2,-.3l2,1.4l2,-1.6l2,.3l2,-.4l2,1.6l2,-.2l2,-.1l3,-1.1l1.6,-1.6l1.6,-.6l1.7,-.6l1.6,-.5l2.1,.2l2.2,.1l2.2,.8l2.1,-1l2.2,-.1l2.2,0l2.1,-1.1l2.2,-.3l2.2,.1l2.1,0l2.2,.3l2.2,-.5l2.1,.4l2.2,-.1l2.1,.5l2.2,-.8l2.2,.3l2.1,.1l2.2,0l2.2,.8l2.1,-.1l2,-.1l2.1,-.1l2,.1l2,-.5l2,-.3l2,.3l2,-.1l1.6,2.6l1.7,1.8l2.1,3.2l2,-1.5l2,-1.4l2,1.2l2,.5l2,-1.7l2,.9l2,-.6l2,-.3l2,.1l2,-.2l2,.4l2,-.9l2,1l2,-.9l2,1.9l2,-.4l2,-1.7l2,2.2l2,-1.7l2,.8l2,.3l2,-.7l2,-.1l2,.4l2,-.8l2,2l2,-2.1l2,2l2,-1.7l2,.2l2,.3l2,-1l2,.3l2,.6l2,.2l2,1.3l2,.3l2,-2.7l2,1.4l2,-1.1l2,1.9l2,-1.4l2,1.6l2,-1l2,-1.1l2,-.4l2,.7l2,1.7l2,-2l2,.9l2,-.3l2,0l2,1.2l1.4,-1.8l2.2,-3.3l2.1,-.3l2.2,.5l2.2,0l2.1,.3l2.2,-.5l2.1,0l1.7,1.5l1.6,.7l1.6,.5l1.6,.6l2.2,0l2.2,.1l2.1,-.1l1.7,.9l1.6,.2l1.6,1.4l1.6,.7l2.2,-3.2l1.7,-1.1l1.3,1.2l1.3,2l2,-2.1l2,1.1l2,.8l2,-.8l2,-.7l2,1.9l2,-1.9l2,-.6l2,-.1l2,0l2,1.9l2,-1.7l2,1.7l2,.4l2,.4l2,-.5l2,-1.1l2.6,-3l2.2,-2.2l1.6,.2l1.6,-.2l2.2,3.3l2,3l2,-.3l2,-1.2l2,1.3l2,-1.8l2,.6l2,1.9l2.2,-2.4l2.2,-1.5l2.2,0l2.1,1.5l2,.9l2,-.6l2,1.5l2,-.9l2,-1.3l2,.1l2,.6l2,.2l2,1.7l2,-1.9l2,1.7l2,0l2,-1.2l2,1.6l2,-.7l2,-.7l2,-.7l2,.6l2,1.2l2,-1l2,-1l2,.6l2,.2l2,-.8l1.8,-2.3l2.2,-1l2.2,-1.2l2.1,.1l2.2,1l2.2,.9l2.1,.2l2.2,2.2l2,.1l2,-.2l2,1.3l2,-.7l2,1.6l2,-1.1l2,.1l2,.8l2,-1.7l2,1.5l2,-.3l2,-.6l2,1.5l2,-2.6l2,2.3l2,-2l2,2l2,-2l2,-.2l2,1.2l2,1.2l2,-1.9l2,.7l2,.3l2,-1l2.2,.7" stroke="#33fff0"/><path d="M90.2,396.3l2,2.9l2,-3.6l2,1.6l2,2.2l2,-.6l2,-4l2,-.2l2,-.1l2,.3l2,-1.7l2,.4l2,2.9l2,-2.5l2,1.8l2,-2.1l2,2.4l2,-3l2,2.1l2,-2.3l2,.1l2,2l2,1.3l2,-.3l2,-2.7l2,-.1l2,-1l2,-.8l2,1.8l2,-1.2l2,2.5l2,-1.2l2,.2l2,1.5l2,-1.5l2,-.2l2,1.5l2,.4l2,-.1l2,.3l2,2.4l2,.8l2,-1l2,.5l2,.6l2,-1.6l2,1.3l2,-.6l2,1l2,-1.3l2,1l2,.3l2,-1.4l2,.6l2,.1l2,-.5l2,-.9l2,1.5l2,-1.3l2,.7l2,-1.4l2,.9l2,-.1l2,-1.9l2,.4l2,1.9l2,-2.7l2,.2l2,-.3l2,-.5l2,1l2,.2l2,-3.3l2,.3l2,1.6l2,-1.3l2,1.8l2,-1.6l2,1.2l2,-2.2l2,0l2,1.6l2,-1.4l2,-1.2l2,2.7l2,-1.5l2,3.5l2,-1.9l2,.8l2,1l2,-2.5l2,-.1l2,1.3l2,-.9l2,1.4l2,.7l2,2l2,-4l2,2.8l2,-2.4l2,2.3l2,-2.1l2,.2l2,2.1l2,1.3l2,0l2,-1l2,1.4l2,-.8l2,-.3l2,.1l2,-.3l2,.9l2,1.7l2,-.4l2,-.7l2,-.7l2,-.2l2,-1.4l2,-.7l2,.1l2,-.2l2,.3l2,-2.6l2,2.3l2,-1.5l2,-1.2l2,.8l2,.7l2,-.8l2,3l2,-.2l2,.4l2,-.8l2,2.1l2,-2l2,.9l2,-1.8l2,1.5l2,-.8l2,1.4l2,-1.8l2,.1l2,1.3l2,-1.2l2,.9l2,.1l2,-.7l2,2.4l2,.5l2,-1.5l2,.5l2,.1l2,.2l2,1.7l2,-.7l2,.3l2,-1.3l2,.9l2,.8l2,-.2l2,-1.5l2,1l2,-.6l2,-1.8l2,.1l2,.3l2,-.3l2,1.4l2,.1l2,-1.9l2,-.4l2,.1l2,-.2l2,.3l2,-1.1l2,2.3l2,.3l2,-1.3l2,1l2,-.6l2,-1.7l2,-1.5l2,-.3l2,-.1l2,-.7l2,-.4l2,.3l2,2.7l2,-1.3l2,-1.5l2,2.1l2,.3l2,.3l2,.2l2,-.5l2,1.9l2,1.6l2,0l2,-1l2,1.2l2,.1l2,-1.8l2,2.2l2,-.1l2,.2l2,-.7l2,.9l2,-2.2l2,1.2l2,-1.6l2,.7l2,-.3l2,1.3l2,.1l2,.7l2,-.3l2,0l2,-.9l2,-.1l2,-.3l2,1.1l2,.2l2,-.1l2,-.2l2,-2.4l2,1.3l2,-1.4l2,-1.2l2,-.3l2,-1.2l2,-1.9l2,1.6l2,-.5l2,.7l2,1.3l2,-1.5l2,.6l2,.4l2,.9l2,-1.4l2,-.1l2,1.2l2,2.9l2,-.6l2,-1.2l2,-1.9l2,1.6l2,-.1l2,-1.7l2,.3l2,.3l2,3.4l2,-3.2l2,1.8l2,-1.7l2,-.6l2,1l2,-.1l2,.5l2,2.9l2,1.7l2,-3.5l2,1.9l2,-1.4l2,2.3l2,-.7l2,-1.5l2,-.6l2,1.3l2,.3l2,-3.5l2,0l2,1.1l2,-4.3l2,0l2,0l2,.4l2,.4l2,-.8l2,2.5l2,-2.5l2,0l2,0l2,1.2l2,-.9l2,-.3l2,.8l2,3.1l2,-1.4l2,.9l2,.2l2,-.8l2,-.4l2,-1.7l2,2.5l2,-.4l2,-.2l2,1.5l2,-1.8l2,.1l2,.8l2,-1.3l2,3.2l2,1.1l2,-1.7l2,1.7l2,-.3l2,1.3l2,.4l2,-.5l2,-.6l1.1,-.8" stroke="#953dd1"/><path d="M90.2,393l2,.9l2,-1.9l2,1.5l2,2.4l2,1.8l2,-1.8l2,-.7l2,2.6l2,.9l2,-3.4l2,3.1l2,-4l2,2.3l2,-2.3l2,.2l2,-.5l2,-.3l2,.7l2,.5l2,-1.4l2,1.5l2,-1.3l2,-1.5l2,.3l2,-1.7l2,-.6l2,2.3l2,.1l2,-1l2,2.5l2,-2l2,3.4l2,-.7l2,-.9l2,2.1l2,-2.2l2,.3l2,2.1l2,-1.4l2,-.3l2,1.5l2,-1.2l2,.1l2,1.5l2,-1.1l2,.5l2,-1.2l2,.4l2,1.2l2,-.9l2,.5l2,-.1l2,-.3l2,1.5l2,-.3l2,1.1l2,-1l2,1.2l2,-.2l2,-1.5l2,2l2,-2.2l2,-.4l2,-.9l2,-1.7l2,2.7l2,-1.9l2,-.5l2,2.7l2,-2.7l2,2.3l2,-.5l2,0l2,1.8l2,-1.7l2,1.4l2,.9l2,-1.7l2,2.9l2,-1.4l2,-.8l2,2.2l2,-2.7l2,.4l2,-.5l2,2.4l2,-2.1l2,-3.4l2,.9l2,3.4l2,-3.3l2,.6l2,.2l2,-.5l2,.1l2,-2.2l2,1.5l2,-.3l2,-1.1l2,.6l2,3.1l2,-2.5l2,3.4l2,-1.3l2,-2.6l2,3.1l2,-.9l2,-.8l2,1.5l2,-2.7l2,.9l2,.6l2,.2l2,.8l2,-.4l2,-2l2,.3l2,1.3l2,-1.1l2,.3l2,-1.5l2,.9l2,-.1l2,1l2,.8l2,-2.1l2,.8l2,1l2,1l2,.6l2,.3l2,-1.8l2,1.1l2,-.5l2,.1l2,.4l2,-.7l2,1.6l2,-1l2,.6l2,.4l2,-1.1l2,.3l2,.8l2,-.3l2,.5l2,-.3l2,2.5l2,-.3l2,.2l2,-.2l2,-.2l2,.6l2,-.9l2,.4l2,-.5l2,-.9l2,-.3l2,-.2l2,.1l2,0l2,-1.4l2,.4l2,.2l2,1.5l2,.1l2,-1.9l2,1.8l2,-.8l2,1.5l2,0l2,-1.8l2,1.2l2,-1.9l2,1.3l2,-1l2,.8l2,-.6l2,-1.5l2,-1.2l2,1.4l2,-3.1l2,-.4l2,-.7l2,-.1l2,-.8l2,2.1l2,1.7l2,-1.4l2,.1l2,-2.5l2,3l2,.1l2,1.5l2,-2.3l2,.7l2,.4l2,.3l2,1.1l2,.7l2,.2l2,-.2l2,-2.2l2,-.1l2,1.3l2,.2l2,-1.6l2,2l2,-1.1l2,2l2,-.2l2,-.3l2,0l2,1.4l2,-1l2,2l2,-.5l2,1.1l2,-1.1l2,.6l2,-.7l2,-.5l2,2.4l2,-3l2,.4l2,-1l2,.5l2,1.4l2,-2.4l2,-.7l2,-1l2,3.1l2,-2.6l2,4l2,-1.5l2,.7l2,-2.5l2,1.8l2,1.1l2,0l2,-1.1l2,2.1l2,-.7l2,.8l2,-.2l2,.3l2,-2.7l2,-.8l2,-2l2,2.9l2,1.3l2,-3.3l2,-2.2l2,-.2l2,-1l2,2.1l2,-.7l2,1.7l2,-3.8l2,.3l2,.5l2,2.5l2,1.2l2,-1.2l2,.2l2,-3.2l2,-.1l2,3.5l2,-1.8l2,2.1l2,-2.6l2,-1.4l2,0l2,0l2,0l2,0l2,.1l2,-.1l2,0l2,0l2,0l2,0l2,0l2,0l2,0l2,1l2,-.1l2,1.7l2,-2.3l2,4.3l2,1.5l2,-2.3l2,1.8l2,.1l2,.3l2,-.6l2,-2.3l2,2.1l2,.9l2,-4.7l2,-.2l2,3.3l2,-.6l2,0l2,2.7l2,-1.5l2,1.7l2,.2l2,.9l2,.9l2,-1.5l1.1,.3" stroke="#ff33b8"/><path d="M90.2,396.3l2,-.7l2,.1l2,-.7l2,0l2,0l2,0l2,.7l2,-.3l2,1.2l2,1l2,-.3l2,-1.5l2,1.3l2,-1.3l2,.5l2,.4l2,.2l2,-.1l2,-.4l2,.4l2,-1.7l2,1.2l2,.1l2,.1l2,.8l2,.3l2,-.3l2,.2l2,-.5l2,0l2,.2l2,.3l2,.9l2,-.8l2,.3l2,.4l2,.1l2,-.6l2,.2l2,.9l2,-.2l2,.6l2,0l2,-.4l2,.5l2,-.7l2,.2l2,.1l2,0l2,-.8l2,.6l2,-.3l2,-.2l2,-.1l2,.6l2,-.2l2,-.2l2,.3l2,.3l2,-.6l2,.2l2,-.8l2,.1l2,-1.1l2,.7l2,-.3l2,-.2l2,-.9l2,.1l2,.3l2,0l2,-1l2,.1l2,.7l2,.1l2,1.4l2,-.2l2,-.2l2,0l2,-1.4l2,.9l2,-.2l2,-.3l2,-.5l2,.1l2,-.2l2,-.6l2,-.1l2,.2l2,-.3l2,.7l2,1.5l2,-.8l2,.5l2,-1.2l2,.5l2,.7l2,-.6l2,-.3l2,-.5l2,1.3l2,-.1l2,-.8l2,.6l2,-.3l2,1l2,-.5l2,1.2l2,-.3l2,.1l2,.3l2,1l2,-.4l2,-.5l2,-.1l2,-.2l2,1l2,-.3l2,-.1l2,-.4l2,-.8l2,.8l2,-.6l2,.6l2,.7l2,-.2l2,.1l2,.8l2,0l2,-1.3l2,0l2,.4l2,.2l2,-.3l2,.5l2,-.6l2,-.4l2,.2l2,-.7l2,1.1l2,-.4l2,-.2l2,.2l2,.9l2,-.6l2,-.2l2,.6l2,-.5l2,-.3l2,-.3l2,.6l2,-.6l2,.3l2,-.1l2,-.3l2,-.8l2,.4l2,.7l2,-.2l2,-.2l2,-.1l2,1l2,-.2l2,-.2l2,-.5l2,-.4l2,.3l2,0l2,-.5l2,-.2l2,.6l2,-.6l2,-.3l2,.3l2,.8l2,-.7l2,.5l2,-.3l2,.2l2,-.7l2,.6l2,.2l2,-.8l2,-.5l2,1.4l2,-.7l2,-.5l2,.6l2,-.8l2,.9l2,.4l2,-.7l2,1.8l2,.4l2,.2l2,-1.1l2,.3l2,-.3l2,-.3l2,.3l2,.4l2,.1l2,-.6l2,.8l2,-.7l2,-.4l2,.6l2,.4l2,.2l2,.4l2,.1l2,-.2l2,-.3l2,.4l2,-.4l2,.2l2,-.4l2,.4l2,-.3l2,-.3l2,.2l2,-.9l2,0l2,-.2l2,.4l2,.9l2,-1.1l2,1l2,-.6l2,-.5l2,.4l2,-1.4l2,-.1l2,.3l2,-.1l2,1l2,-1.6l2,-.4l2,-.5l2,1.4l2,-.3l2,.9l2,-.9l2,.5l2,.3l2,.7l2,-1.9l2,-.2l2,1.3l2,-1.9l2,1.8l2,0l2,-.3l2,-1.5l2,.8l2,-.5l2,-.3l2,0l2,.2l2,-.2l2,1l2,1.5l2,-.5l2,-1.1l2,0l2,.3l2,-.4l2,.2l2,.1l2,-.7l2,1.3l2,-1.7l2,.5l2,.5l2,-.9l2,2.3l2,-.3l2,1.3l2,-.5l2,-1.3l2,.7l2,.2l2,.6l2,-.8l2,-.9l2,2.1l2,-1.5l2,1.3l2,-.4l2,-.5l2,-1.1l2,1.4l2,.4l2,1.3l2,-.9l2,.3l2,.5l2,-.9l2,.4l2,-1l2,-.6l2,.1l2,-.1l2,1.2l2,-1.5l2,.1l2,-.4l2,.2l2,.7l2,.7l2,.1l1.1,-.1" stroke="#d1a43d"/><path d="M90.2,397.5l2,-.2l2,-.5l2,-.7l2,.2l2,.9l2,-.8l2,1l2,-1.1l2,0l2,1.1l2,.4l2,.1l2,-.5l2,-.1l2,.2l2,-.3l2,-.8l2,.6l2,.5l2,-.3l2,-.3l2,-.8l2,.3l2,1.9l2,-.4l2,-.4l2,1l2,-.6l2,1l2,-.5l2,.2l2,-.4l2,.2l2,-.2l2,-.1l2,.5l2,0l2,-.1l2,.3l2,-.4l2,.1l2,.6l2,.1l2,-.1l2,.2l2,-.8l2,.2l2,-.4l2,.1l2,0l2,.2l2,-.3l2,-.4l2,.3l2,.3l2,-.1l2,-.1l2,0l2,-.3l2,-.5l2,-.3l2,.7l2,-.1l2,-1.2l2,-.1l2,-.4l2,0l2,.1l2,1.3l2,-.3l2,0l2,.1l2,-.2l2,1.1l2,-.2l2,.9l2,.1l2,-.4l2,-.8l2,.2l2,-.1l2,1.1l2,-.8l2,-.6l2,.2l2,.4l2,.1l2,.8l2,-1l2,-.3l2,.5l2,.6l2,.5l2,-.3l2,-1.3l2,0l2,.3l2,-.4l2,-.9l2,.5l2,-.4l2,-.2l2,.5l2,-.6l2,.9l2,.2l2,.2l2,0l2,.2l2,-.4l2,-.1l2,.1l2,0l2,.1l2,.1l2,-.3l2,-.1l2,.6l2,.1l2,-.7l2,.3l2,.3l2,.2l2,.4l2,-.6l2,.3l2,.1l2,-.6l2,.1l2,.9l2,-.3l2,0l2,.3l2,-.1l2,-.7l2,.5l2,.2l2,.1l2,.1l2,-.5l2,.1l2,.2l2,.3l2,-.1l2,0l2,-.5l2,-.6l2,-.3l2,.5l2,-.2l2,.3l2,-.1l2,.1l2,-.4l2,.4l2,-.4l2,.8l2,0l2,-.9l2,.3l2,.2l2,-.3l2,-.2l2,.6l2,-.4l2,-.3l2,-.1l2,.2l2,.2l2,.4l2,.2l2,-.1l2,-.4l2,.3l2,.2l2,0l2,.5l2,-.1l2,-1l2,.7l2,-.8l2,.2l2,.9l2,-.8l2,-.7l2,.3l2,.1l2,.3l2,.4l2,0l2,.5l2,-1.1l2,-.4l2,.7l2,-.4l2,.4l2,-.9l2,-.5l2,.8l2,-.2l2,.4l2,.4l2,-.8l2,.3l2,.3l2,-.6l2,.3l2,.5l2,-.4l2,.3l2,.1l2,-.1l2,.2l2,.2l2,-.5l2,.6l2,-.1l2,.1l2,.4l2,.1l2,.1l2,.1l2,-.5l2,.3l2,0l2,.1l2,-.3l2,-.3l2,-1l2,-.1l2,.3l2,.2l2,.5l2,0l2,-.2l2,.2l2,-.7l2,0l2,.8l2,-.6l2,.4l2,-.6l2,.2l2,-1.4l2,1l2,-.2l2,-.8l2,.3l2,-.8l2,.6l2,.8l2,.4l2,-.3l2,-.5l2,-.9l2,1l2,.4l2,.2l2,-1.3l2,0l2,.1l2,-.3l2,.6l2,-.5l2,-.3l2,1.1l2,.6l2,.1l2,-.8l2,1.2l2,.8l2,-1.1l2,.7l2,-.7l2,-1l2,.9l2,0l2,.3l2,-.2l2,-.3l2,-1.3l2,.2l2,.6l2,1.6l2,-1.5l2,.3l2,.3l2,-.4l2,.1l2,.3l2,-.2l2,-1l2,-.1l2,.1l2,-.5l2,1l2,-.4l2,-.7l2,1.2l2,-.5l2,-.2l2,.8l2,0l2,.3l2,.3l2,-.3l2,-.7l2,.6l2,.4l2,-.3l2,.3l1.1,-.8" stroke="#8dff33"/><path d="M90.2,396.5l2,-.2l2,-1l2,-.2l2,.8l2,-1.4l2,0l2,1.1l2,.5l2,-1.3l2,.2l2,-.5l2,1.4l2,-.9l2,.9l2,.3l2,-.4l2,0l2,1l2,-1.1l2,1.1l2,.2l2,.5l2,-.3l2,-.7l2,.6l2,1.2l2,1l2,-.1l2,-.1l2,-1l2,1l2,-.5l2,.8l2,-1.3l2,.4l2,-1l2,0l2,.3l2,0l2,.6l2,-.5l2,0l2,-.3l2,.7l2,-.2l2,-.2l2,-.1l2,-.5l2,.6l2,.3l2,.3l2,-.2l2,-.3l2,.1l2,-.5l2,.8l2,-.7l2,-.1l2,0l2,-.4l2,-.7l2,.5l2,-1.6l2,1.4l2,-.6l2,-1.4l2,-.3l2,.8l2,.8l2,.4l2,-1.6l2,-.4l2,1l2,.2l2,.7l2,0l2,.3l2,0l2,-.2l2,-.4l2,.7l2,0l2,.2l2,.6l2,.6l2,-.5l2,1.1l2,-1.2l2,.6l2,.5l2,-1l2,-.8l2,.4l2,.7l2,-.4l2,-.8l2,-.6l2,1.8l2,-.4l2,.8l2,-.5l2,-.6l2,-.6l2,.2l2,-.1l2,.5l2,.7l2,-.6l2,-.9l2,.8l2,0l2,0l2,.2l2,.5l2,-.8l2,1l2,-.7l2,.6l2,-.2l2,-.7l2,-1.3l2,.3l2,-.4l2,1.1l2,-1.4l2,1.2l2,-.5l2,0l2,.4l2,.3l2,-.1l2,-.7l2,.8l2,-.6l2,.3l2,.6l2,.9l2,-.5l2,-.6l2,.1l2,.5l2,.1l2,.7l2,-.2l2,0l2,-.4l2,.6l2,1l2,-.9l2,.5l2,-.7l2,0l2,-.3l2,.8l2,-.2l2,0l2,-.4l2,-.2l2,-.3l2,.6l2,.4l2,-.8l2,.5l2,-1.1l2,0l2,1l2,-.1l2,0l2,.3l2,-1.2l2,.3l2,-.2l2,.5l2,.4l2,-.3l2,-.3l2,-.3l2,.5l2,.2l2,-1.3l2,.3l2,-.6l2,.1l2,-1.2l2,.1l2,.6l2,-.7l2,-.1l2,-.8l2,.2l2,.4l2,1.5l2,-1.8l2,.2l2,1.2l2,0l2,.4l2,.5l2,-.6l2,.3l2,-.2l2,.2l2,1.6l2,.2l2,-1l2,1.1l2,-.8l2,.8l2,0l2,.4l2,-.5l2,.1l2,-.1l2,-.4l2,.2l2,.2l2,0l2,-.1l2,-.4l2,0l2,-.2l2,.3l2,-.9l2,.2l2,-.4l2,1.1l2,-.4l2,0l2,.7l2,-.5l2,-1.7l2,1.4l2,.5l2,-.9l2,-.4l2,0l2,-1l2,.3l2,.3l2,1l2,-1l2,-.8l2,.6l2,.3l2,-.9l2,-.4l2,-.8l2,.9l2,-.9l2,0l2,1.2l2,-.4l2,.2l2,-.6l2,.4l2,.4l2,-.1l2,-.9l2,1l2,-.2l2,-1l2,2.5l2,-1.8l2,1.9l2,1.1l2,-1.2l2,0l2,-.4l2,1.3l2,-1.1l2,2.1l2,-.3l2,-1.3l2,-.6l2,-.4l2,.7l2,1.7l2,-2.8l2,1.7l2,-.9l2,1l2,-.6l2,1.2l2,-.8l2,-2.1l2,1.4l2,1.2l2,-1.5l2,1.9l2,-1.2l2,-.4l2,-.4l2,1.3l2,-.2l2,1.1l2,-.3l2,-1.6l2,.8l2,-.5l2,-1.2l2,1l2,0l2,-.8l2,-1l2,.7l2,1.2l2,0l2,-.8l2,.2l2,.2l2,-.6l1.1,0" stroke="#3dbfd1"/><path d="M90.2,393.5l.2,-11.9l1.1,6.5l2.2,-8.6l1,8.6l2.2,-2.1l.7,-11.9l1.5,-1.1l1.6,.4l1.6,.7l1.1,2.1l1.1,9.8l2.1,2.1l2.2,-3.2l1.6,.7l1.7,.4l2.1,4.3l1.7,.3l1.6,-1.4l1.1,-7.6l1,-7.5l1.1,-1.5l2.2,.1l2.2,.3l1,6.5l1.1,8.6l2.2,2.2l1.8,.7l1.8,.9l1.8,.6l2.2,-3.9l2.1,-2.6l2.2,4.3l2.2,-3.2l2.1,5.4l2,1l2,.4l2,.4l2,-1.9l2,.5l2,-.5l2,2l2,-.4l2,-1.8l2,2.7l2,-.1l2,-.9l2,-.1l2,-1.3l2,-.4l2,1.5l2,-1.3l2,.3l2,.2l2,-.6l2,1.2l2,-.1l2,1.2l2,-.9l2,.3l2,-.4l2,.5l2,-.6l2,-.5l2,2l2.8,.8l1.6,-.6l1.7,-2.6l2.1,-6.5l1.7,-6.5l1.3,.1l1.3,-1.2l2.2,2.2l1.5,-1.1l1.1,6.5l1.7,-11.9l.7,14l1.3,1l1.3,.1l2.2,-7.6l2.1,2.2l2.2,1.1l2.1,2.2l1.7,.1l1.6,.9l1.7,-.1l1.6,.4l1.7,.8l2,3.1l1.9,.2l1.6,-.6l1.6,-1.6l2.2,-6.5l2.1,-8.6l2.2,-1.8l1.5,1.8l1.7,8.6l2.2,5.4l1.6,.4l1.7,.7l1,2.2l1.1,-13l1.1,13l1.1,-10.9l1.1,-5.4l2.1,-2.1l1.7,1.2l1.6,-.1l2.2,-2.6l1.6,.2l1.6,.6l1.1,3.9l1.1,7.6l1,2.2l1.7,2l1.6,.1l2.2,2.3l2.1,1l2,-.4l2,.6l2,1.9l2,-1.2l2,1.4l2,-1.6l2,-.9l2,1.6l2,.4l2,-1.4l2,-.6l2,.7l2,1.8l2,-.6l2,-1.8l2,.4l2,-.4l2,-.1l2,2l2,-1.7l1.2,-.1l1.6,-3.2l1.6,-3.3l1.5,-4.4l1.3,-3.2l1.5,4.3l2.2,6.5l1.6,.5l1.6,.6l2.2,-4.3l1.5,-2.2l1.8,4.3l2.1,4.4l2,.1l2,1.5l2,-1.6l2,1.4l2,-1.5l2,.9l2,-.6l2,.2l2,1.9l2,-.5l2,-1.3l2,1.6l2,-1.9l2,.5l2,1.3l2,-.6l2,-1.5l2,2.5l2,-2.2l2,.1l2,1.5l2,-1.3l2,-.1l2,-.6l2,.1l2,1.3l2,-.9l2,1l2,-.7l2,.3l2,1.4l2,-1.3l2,.2l2,.8l2,-1.9l2,-.1l2,2.1l2,-.2l2,-1.6l2,-.2l2,1.6l2,.5l2,-2l2,2.1l2,-.2l2.2,0l2.2,-2.1l2.2,-4.4l2.1,1.1l2.2,-3.2l2.2,2.1l2.1,1.1l1.5,-7.6l1.3,-2.5l1.6,6.9l1.5,4.3l1.4,-.9l1.4,-1.3l2.2,1.1l1.5,-7.6l1.3,-2.1l1.5,-3.9l1.1,6l1.1,-3.2l1,7.6l1.1,1.1l1.1,-6.5l1.7,-3.3l1.5,4.3l1.1,7.6l2.2,1.1l2.2,-2.2l1.7,-1l1.5,5.4l1.6,-.7l1.7,-.4l2.1,2.2l1.6,-1.4l1.7,.3l1.6,-.1l1.6,1.8l2.2,-1.7l2.1,2l2.2,.1l2,-1.8l2,1.3l2,-1.3l2,1.6l2,-.6l2,-.9l2,-.3l2,1.5l2,-1.8l2,.4l2,1l2,.8l2,-.7l2,-.9l2,1.8l2,-2l2,-.6l2,.8l2,.4l2,-1l2,.3l1.1,-.1l2.2,-2.2l1.7,-6.5l1.5,-6.5l1.5,-3.2l2.2,-.7l1.3,2.8l.9,7.6l1.3,5.4l1.3,-1.3l1.3,-.8l2.1,-3.3l2.2,-2.2l1.7,2.2l1.5,5.4l2.2,1.1l1.1,-6.5l1.7,3.3l1.5,-2.2l2.2,3.2l2.2,-2.1l2.1,1.1l2.2,-2.2l2.2,4.3l1.6,-.4l1.6,-.7l1.7,-4.3l1.1,-6.5l1.5,-3.9l2.2,-.8l1.3,-.6l1.3,1l.9,8.6l.8,3.3l1.8,-4.3l1.5,5.4l1.5,-6.5l1.7,3.2l1.8,-5.4l1.5,3.3l1.5,-4.4l1.7,3.3l1.7,-4.8l1.8,-.6l.8,7.5l1.1,5.5l2.2,-1.1l2.2,-2.2l1.5,-5.4l1.7,2.2l1.7,-4.4l1.6,2.2l2.1,-4.3l2.2,-1.5l1.6,-.6l1.6,-.1l1.7,1.1l1.6,-.4l2.1,1.5l1.6,5.4l1.3,-4.3l1.5,7.5l1.5,-7.1l1.7,8.2l1.5,-7.6l1.8,-.6l1,8.2l1.1,3.3l2.2,1l1.6,1.5l1.6,-.4l2.2,.3l2.2,-.3l2.1,1l2.2,.1l2.2,-.9l2.1,-1.3l2.2,-1.2l2.2,.2l2.1,-.4l2.2,1.4l2.2,-1.1l2.1,.7l1.6,0l1.7,-1.7l2.1,1.1l2.2,3.2l1.6,1.5l1.6,.7l2.2,1.4l2.2,-.3l1.2,-.5l1.2,1.5l0,-1.1" stroke="#d23aa8"/><path d="M90.2,392.9l2,-1l2,0l2,.9l2,-1.4l2,-.1l2,-.1l2,.1l2,3.6l2,-.8l2,2.6l2,-.1l2,1.1l2,-1.1l2,-1.2l2,-.4l2,.4l2,-.4l2,1.4l2,-.8l2,1.8l2,-.1l2,-.9l2,-1.6l2,2l2,-1.3l2,1.8l2,1.9l2,-.2l2,-.6l2,.9l2,-.4l2,-2.6l2,.4l2,0l2,-.4l2,.5l2,-.9l2,.8l2,-.1l2,.6l2,-.5l2,.7l2,-.2l2,-.7l2,.2l2,.1l2,.2l2,-.2l2,.8l2,-1.9l2,-.2l2,1.1l2,-.9l2,-.6l2,.2l2,1.5l2,-1l2,.6l2,.2l2,-.4l2,-1.1l2,-.6l2,.4l2,1.9l2,-.9l2,-1.4l2,3.7l2,-1.4l2,-.3l2,-1l2,.6l2,0l2,-1.4l2,1.3l2,1.4l2,.4l2,1.3l2,0l2,-.2l2,-2.4l2,.1l2,.7l2,1.3l2,-.9l2,.8l2,-1l2,0l2,-3l2,.1l2,.7l2,-3l2,1.4l2,.8l2,-.9l2,1.3l2,-1.1l2,1.1l2,1.1l2,-.4l2,-2.6l2,1.3l2,0l2,-1.6l2,.1l2,1.1l2,.2l2,-.9l2,-.9l2,.4l2,1l2,.8l2,1l2,.2l2,2l2,-1l2,.8l2,1l2,-1.7l2,-.2l2,.4l2,-1.2l2,-.5l2,.2l2,-.7l2,1.6l2,1.2l2,0l2,-1.7l2,0l2,1.6l2,.2l2,-.3l2,.9l2,.8l2,-.3l2,-.5l2,-.5l2,-.4l2,.6l2,-2.4l2,-.1l2,1.9l2,-1.5l2,.9l2,-.7l2,.3l2,.1l2,.9l2,-1.1l2,.7l2,-1.3l2,.5l2,-.3l2,-.3l2,1.5l2,-1.6l2,-.9l2,.9l2,-1.7l2,-.2l2,1.3l2,.7l2,-.6l2,.2l2,2l2,-1.2l2,.2l2,1.2l2,-1.2l2,.4l2,.8l2,-.2l2,.8l2,-1.7l2,0l2,1.1l2,-.8l2,-2l2,2l2,0l2,1.1l2,1.4l2,.3l2,-.6l2,0l2,-1.2l2,1l2,-1.3l2,-.3l2,1.1l2,-.2l2,-.1l2,-1l2,.2l2,-1.8l2,-.5l2,-.4l2,1.6l2,.4l2,-1.4l2,1.7l2,.1l2,-.5l2,.1l2,.7l2,-1.8l2,0l2,.9l2,0l2,-1.1l2,.8l2,-.1l2,-.4l2,1.1l2,-1l2,1.1l2,.4l2,.7l2,-.4l2,.8l2,-.5l2,.3l2,-1.6l2,1.2l2,-.6l2,-2.5l2,1l2,.2l2,.1l2,-.5l2,.9l2,.1l2,-.8l2,1.3l2,-.8l2,1l2,1.6l2,.2l2,-2l2,.9l2,.5l2,-1l2,1.4l2,-1.2l2,-2.2l2,-1.5l2,.9l2,.6l2,-1.4l2,3.1l2,.8l2,-1.8l2,-1.9l2,-1l2,-.3l2,1.5l2,.6l2,.9l2,-4.2l2,2.2l2,-2.3l2,0l2,0l2,0l2,0l2,0l2,.4l2,1.2l2,-1.6l2,3.2l2,-1.6l2,.5l2,-.7l2,1.8l2,-2.8l2,.4l2,.6l2,-1l2,3.2l2,-1.1l2,1.2l2,-.4l2,-3l2,1.6l2,1.7l2,2.3l2,.9l2,.3l2,-1.9l2,1.3l2,-.1l2,-.2l2,-.7l2,.1l2,-.2l2,-1.2l2,1.1l2,-1.1l2,.6l2,1.2l2,-3.4l2,1.4l2,-.1l2,-1.2l2,1.9l2,1.2l2,.8l2,-1.7l2,-.1l2,-.1l2,-1.7l1.1,1.8" stroke="#85d13d"/><path d="M90.2,391.2l2,.5l2,-.5l2,0l2,0l2,0l2,1l2,-1l2,2.5l2,-.5l2,-.3l2,-.7l2,.9l2,-.5l2,1.3l2,.3l2,.2l2,2.1l2,-2.7l2,-.1l2,-.7l2,1.3l2,1.5l2,-.3l2,-.1l2,.6l2,-.5l2,.3l2,-1.9l2,1.1l2,-.8l2,2.2l2,-.1l2,.4l2,-.1l2,-1.1l2,-.9l2,1l2,.6l2,0l2,1.2l2,.7l2,.1l2,-1.3l2,0l2,.6l2,.5l2,-.3l2,.6l2,.1l2,-.1l2,-.2l2,-.5l2,.8l2,-.1l2,.2l2,.3l2,-.8l2,1l2,-1.3l2,.7l2,-3.1l2,-.2l2,2.5l2,-2.4l2,2.8l2,-1.2l2,-3.4l2,.7l2,-1.3l2,.4l2,1.4l2,.1l2,2.4l2,-2.6l2,2.7l2,-1.2l2,.1l2,1.2l2,-1.3l2,2.6l2,-2.8l2,.6l2,-1l2,-1.3l2,-.2l2,-.1l2,1.5l2,.3l2,-1.7l2,2.1l2,-4l2,.3l2,.9l2,-2l2,1.6l2,-.5l2,1.4l2,-1.2l2,-.3l2,.8l2,-1.8l2,1.1l2,1.8l2,-1.8l2,2.5l2,-.3l2,.2l2,.4l2,-.4l2,1.2l2,-.7l2,1.1l2,.5l2,.1l2,-1.1l2,.2l2,1.1l2,-.2l2,-.2l2,-1.3l2,.2l2,-1.9l2,-.5l2,.9l2,-1.7l2,2.7l2,-2.4l2,2.5l2,.8l2,-1.8l2,1.9l2,-.7l2,.1l2,1.6l2,-1.1l2,2.1l2,-.2l2,-1.7l2,1.7l2,-.4l2,-1.1l2,.7l2,.3l2,1.1l2,.7l2,-.5l2,-1l2,.7l2,-1.1l2,1.5l2,-1.2l2,.4l2,.7l2,-1l2,.5l2,-.8l2,-1.2l2,1.2l2,0l2,-.2l2,-.3l2,-.7l2,-.2l2,1.1l2,1.2l2,-1.1l2,1.9l2,-1.5l2,1.4l2,-.5l2,0l2,.4l2,-.1l2,-1.2l2,1.4l2,-1l2,-.4l2,.1l2,-.2l2,-.3l2,-1.9l2,1l2,1.5l2,-3.2l2,1.5l2,-3.2l2,2.5l2,-.3l2,-2l2,.8l2,1.3l2,.9l2,-3.5l2,1.5l2,.4l2,-1.3l2,2.4l2,-1.9l2,2.3l2,-1.2l2,1.6l2,-1.1l2,.3l2,-.2l2,1.4l2,-.5l2,-.6l2,1.5l2,-.5l2,-1.9l2,1.9l2,-.1l2,-.5l2,-.5l2,1l2,.2l2,-1l2,.7l2,-.3l2,-.3l2,-.9l2,-.5l2,.8l2,-.2l2,-1.8l2,1l2,-.5l2,-.3l2,-.1l2,3.2l2,-1.9l2,1.4l2,-1.1l2,-.5l2,-1.3l2,.6l2,1.1l2,.4l2,2l2,-.4l2,-1.2l2,-.9l2,-.9l2,1l2,1.3l2,.3l2,-2l2,1l2,.1l2,-1.3l2,-.3l2,1.3l2,.1l2,1.9l2,-3.2l2,3l2,-1.4l2,-1.5l2,1.7l2,1.5l2,.8l2,1.2l2,0l2,-3l2,.7l2,-.7l2,-.7l2,1.5l2,1.6l2,-.2l2,-2.4l2,.6l2,-.7l2,.7l2,-3.7l2,2.5l2,-.4l2,1.3l2,-.5l2,.2l2,-2.2l2,1l2,-3.8l2,1.3l2,0l2,3.2l2,-.5l2,-.6l2,-2.2l2,3.1l2,-.4l2,-1.2l2,3.2l2,.1l2,-1.7l2,1.5l2,-2.1l2,.4l2,.3l2,.1l2,-1.9l2,3.1l2,-3.2l2,.4l2,-1.4l2,1.5l2,.4l2,-.7l2,-.3l2,1l2,-.9l1.1,1.9" stroke="#33ff5c"/><path d="M90.2,395l2,-.4l2,.2l2,3.2l2,-1.3l2,.8l2,.5l2,.8l2,-2l2,.4l2,.4l2,-1.1l2,1.1l2,-1l2,-.1l2,-2.6l2,.5l2,.1l2,1.7l2,.3l2,-.2l2,-2l2,2.6l2,-1.6l2,.6l2,.9l2,-2l2,.1l2,.9l2,-.4l2,.9l2,.1l2,-1l2,-2.2l2,1.4l2,-1.1l2,0l2,.2l2,1.5l2,-1.4l2,1.5l2,-.8l2,2.3l2,-.6l2,.8l2,-1.1l2,-.2l2,1.2l2,-.6l2,.5l2,.4l2,-.4l2,-.2l2,-.8l2,.3l2,.1l2,.5l2,.7l2,-1.9l2,.2l2,-.6l2,1l2,-.6l2,-.3l2,1.7l2,-.6l2,.4l2,.7l2,1.8l2,-1.8l2,2l2,-.4l2,-2.1l2,.6l2,1l2,-.2l2,0l2,-2.3l2,.2l2,.5l2,-1.2l2,.5l2,1.5l2,-.2l2,-2l2,-.8l2,-.3l2,2.6l2,.2l2,-1.3l2,-.5l2,-.6l2,.2l2,1l2,.4l2,-1.2l2,.7l2,-1l2,-2l2,-2l2,0l2,1.9l2,-1.6l2,1.1l2,.9l2,.6l2,-.3l2,1.5l2,.3l2,.9l2,-1.1l2,.1l2,1.1l2,.7l2,.4l2,.3l2,-1l2,-.8l2,.7l2,-2.1l2,1.8l2,-1.3l2,-1.2l2,1.3l2,-2.1l2,2.8l2,-1.1l2,1.3l2,-.4l2,.7l2,1.2l2,.1l2,1.5l2,.2l2,-1.4l2,.5l2,-1.2l2,.2l2,1.7l2,-1.1l2,-.3l2,-.4l2,-.3l2,.7l2,0l2,-.3l2,1l2,-1.6l2,-.2l2,.4l2,-.9l2,.4l2,1.1l2,1.4l2,-.7l2,-.1l2,-.6l2,.2l2,.4l2,-1.3l2,-.2l2,.7l2,-.7l2,-1.4l2,0l2,.6l2,-.7l2,-.1l2,0l2,.2l2,-1.5l2,.9l2,1.3l2,-.8l2,-.6l2,1.6l2,-1.8l2,1.5l2,-.7l2,-.8l2,1.9l2,-.6l2,-2.5l2,1.7l2,-2.8l2,2.6l2,-.2l2,-2.1l2,1.2l2,.7l2,-.3l2,1.4l2,.4l2,-1.1l2,1.9l2,-1.2l2,2.4l2,1.4l2,-1.4l2,-.9l2,1.1l2,.3l2,.6l2,-.7l2,1l2,-1.5l2,.4l2,-.7l2,-.5l2,.4l2,1l2,-.4l2,-.1l2,-.9l2,.6l2,.6l2,.1l2,1l2,-.3l2,-.5l2,-1.4l2,.1l2,.8l2,0l2,-1.4l2,0l2,-.5l2,-1.2l2,-1.7l2,-.2l2,.2l2,1.9l2,-1.5l2,-2.6l2,2l2,.6l2,-1.7l2,1.7l2,-.6l2,1.6l2,-1l2,1.4l2,.9l2,-1.4l2,1.6l2,-1.2l2,-1.3l2,1.3l2,-1l2,.2l2,-.2l2,-2.4l2,.2l2,-.1l2,-.6l2,1.8l2,2.5l2,-1.3l2,1.7l2,-1.4l2,-1.4l2,1.6l2,4l2,-1.5l2,1.9l2,-4.9l2,3.1l2,-1.7l2,1.6l2,-1.1l2,-.9l2,-1.6l2,-.6l2,.2l2,1.6l2,-1.1l2,2.7l2,-.4l2,-3l2,2l2,1.4l2,-2.2l2,1.3l2,.2l2,.8l2,-2.8l2,1.7l2,3.1l2,-2.2l2,-1.4l2,.9l2,-3.1l2,-.5l2,3.7l2,-2.9l2,2.7l2,-2.4l2,-2.1l2,1.2l2,.7l2,-1.1l2,1.4l2,1.6l2,-.9l2,0l2,.2l2,1.1l2,-.9l2,.3l2,1l2,-.5l2,-.5l1.1,1.3" stroke="#9133ff"/><path d="M90.2,397.6l2,.5l2,.1l2,-.3l2,.1l2,-.2l2,.3l2,0l2,0l2,-.1l2,.4l2,0l2,.1l2,-.7l2,.4l2,-.2l2,.2l2,0l2,0l2,-.5l2,.4l2,-.3l2,0l2,.2l2,.3l2,.1l2,-.4l2,.5l2,.1l2,.1l2,-.2l2,.1l2,.4l2,.4l2,-.4l2,-.2l2,0l2,.5l2,.1l2,-.4l2,-.1l2,.1l2,0l2,.2l2,-.1l2,-.1l2,-.2l2,.2l2,-.2l2,.1l2,-.1l2,.2l2,-.3l2,.1l2,.4l2,-.2l2,-.1l2,0l2,.1l2,-.2l2,-.1l2,-.2l2,-.3l2,.3l2,-.6l2,.3l2,-.4l2,.1l2,-.2l2,.5l2,-.2l2,-.4l2,0l2,.3l2,-.3l2,.4l2,0l2,.1l2,.3l2,-.6l2,.2l2,.2l2,.1l2,.2l2,.3l2,-.1l2,.2l2,.2l2,-.5l2,-.1l2,.6l2,.3l2,-.9l2,0l2,.4l2,.1l2,-.2l2,-.4l2,0l2,.3l2,-.2l2,.3l2,-.1l2,-.2l2,.4l2,-.4l2,0l2,.4l2,-.1l2,.1l2,-.1l2,-.1l2,0l2,.3l2,0l2,-.1l2,-.4l2,.4l2,-.3l2,-.3l2,-.2l2,-.2l2,.2l2,.2l2,-.6l2,-.2l2,.3l2,-.2l2,.8l2,-.4l2,.5l2,-.1l2,.1l2,.2l2,-.1l2,.2l2,-.2l2,.2l2,.1l2,.2l2,0l2,-.1l2,-.1l2,.2l2,.1l2,-.3l2,.2l2,-.4l2,.4l2,0l2,0l2,-.2l2,-.2l2,.2l2,-.2l2,.3l2,0l2,.1l2,0l2,-.1l2,-.1l2,.3l2,-.1l2,-.3l2,0l2,.1l2,.1l2,.1l2,-.3l2,0l2,-.1l2,0l2,0l2,-.3l2,0l2,.2l2,0l2,-.5l2,-.2l2,-.1l2,0l2,.1l2,0l2,.2l2,-.3l2,-.1l2,.8l2,-.5l2,.3l2,-.3l2,.5l2,0l2,.3l2,.1l2,-.1l2,-.2l2,0l2,.3l2,-.2l2,.2l2,-.4l2,.4l2,-.4l2,.5l2,-.2l2,-.4l2,.5l2,.1l2,0l2,.3l2,-.1l2,-.4l2,.2l2,.2l2,0l2,-.1l2,-.1l2,.3l2,.1l2,-.3l2,.1l2,0l2,-.1l2,-.2l2,-.1l2,-.1l2,-.2l2,-.3l2,.1l2,-.3l2,.5l2,-.2l2,-.4l2,-.1l2,0l2,.6l2,-.2l2,-.4l2,-.1l2,.7l2,-.4l2,.4l2,.1l2,-.6l2,.5l2,.2l2,-.3l2,.1l2,-.5l2,.6l2,-.3l2,.3l2,-.6l2,.2l2,0l2,.5l2,0l2,-.7l2,.3l2,.4l2,.1l2,-.2l2,-.1l2,-.1l2,.7l2,-.4l2,.1l2,.1l2,.5l2,-.3l2,-.3l2,.3l2,.2l2,-.4l2,.2l2,-.7l2,.6l2,-.4l2,-.3l2,-.4l2,-.3l2,.6l2,-.6l2,.7l2,-.3l2,-.2l2,-.2l2,.7l2,-.5l2,0l2,.3l2,.3l2,-.5l2,.7l2,-.4l2,-.3l2,.7l2,-.6l2,.4l2,0l2,0l2,-.2l2,-.3l2,.7l2,-.5l2,0l2,.3l2,.1l2,-.3l2,.6l2,-.3l2,.1l1.1,-.3" stroke="#33e8ff"/><path d="M90.2,397.8l2,.3l2,.5l2,-.9l2,-.1l2,-.1l2,.2l2,-.2l2,.1l2,.4l2,-.2l2,.4l2,-.1l2,-.1l2,.6l2,.1l2,-.4l2,-.1l2,.1l2,.3l2,-.2l2,0l2,.5l2,-.1l2,-.1l2,-.1l2,0l2,.3l2,.2l2,-.5l2,.5l2,-.4l2,.5l2,-.2l2,.2l2,-.2l2,-.1l2,0l2,-.2l2,.2l2,-.3l2,.3l2,-.3l2,.1l2,-.1l2,.3l2,0l2,0l2,-.3l2,0l2,.1l2,-.2l2,.1l2,.3l2,0l2,0l2,-.3l2,.1l2,-.4l2,.2l2,.1l2,-.6l2,0l2,.1l2,.1l2,.7l2,-.1l2,.4l2,-.4l2,.3l2,-.4l2,.3l2,.1l2,-.5l2,.2l2,-.4l2,.5l2,-.3l2,.1l2,.2l2,-.5l2,.1l2,-.2l2,.4l2,.4l2,-.1l2,0l2,-.1l2,-.9l2,-.2l2,.7l2,-.5l2,-.2l2,.3l2,-.6l2,.1l2,-.1l2,0l2,.1l2,.4l2,0l2,.3l2,0l2,-.2l2,.4l2,.1l2,-.1l2,-.3l2,.4l2,.1l2,-.4l2,.6l2,-.4l2,0l2,.1l2,.2l2,.1l2,0l2,.5l2,-.1l2,-.2l2,.2l2,-.1l2,-.1l2,.1l2,0l2,-.7l2,-.1l2,-.1l2,.1l2,.3l2,.2l2,-.3l2,-.1l2,.2l2,.2l2,.1l2,-.1l2,-.2l2,.2l2,-.3l2,-.3l2,.3l2,0l2,-.1l2,0l2,0l2,-.3l2,.4l2,-.1l2,.3l2,-.3l2,.1l2,.1l2,.1l2,.1l2,.3l2,-.1l2,.1l2,-.5l2,.2l2,0l2,0l2,0l2,0l2,-.2l2,0l2,.3l2,-.2l2,.5l2,-.1l2,-.4l2,.2l2,-.1l2,.2l2,0l2,-.4l2,-.2l2,-.2l2,.3l2,-.4l2,.2l2,-.5l2,-.1l2,.2l2,-.4l2,0l2,.7l2,.3l2,.1l2,-.7l2,.1l2,.4l2,-.4l2,.2l2,.1l2,.1l2,-.5l2,.1l2,-.2l2,.5l2,.2l2,.4l2,-.3l2,0l2,.3l2,-.1l2,.5l2,-.2l2,-.1l2,.1l2,-.1l2,-.1l2,0l2,.3l2,-.2l2,-.2l2,-.1l2,.2l2,-.2l2,.3l2,0l2,-.3l2,.1l2,-.1l2,-.2l2,.3l2,0l2,-.6l2,-.3l2,-.1l2,-.1l2,.4l2,-.6l2,-.1l2,.1l2,0l2,-.1l2,.2l2,.2l2,.3l2,.6l2,-.2l2,0l2,.2l2,-.1l2,-.3l2,.1l2,.1l2,-.7l2,0l2,.1l2,.2l2,.4l2,-.3l2,.1l2,-.1l2,.4l2,.3l2,.3l2,.1l2,0l2,-1.1l2,.1l2,.5l2,-.8l2,.4l2,-.3l2,.1l2,-.8l2,.2l2,.3l2,.1l2,-.1l2,-.1l2,0l2,-.4l2,0l2,.8l2,0l2,-.5l2,-.2l2,-.1l2,0l2,0l2,0l2,.1l2,-.1l2,0l2,0l2,.4l2,.7l2,-.3l2,.6l2,-.2l2,-.1l2,.6l2,-.1l2,-.4l2,.4l2,-.1l2,-.4l2,.2l2,-.5l2,.4l2,-.1l2,0l2,.1l2,.3l2,-.4l2,.6l2,-.3l1.1,.3" stroke="#8f3dd1"/><path d="M90.2,394.6l2,-.6l2,-1.1l2,1.5l2,-1.2l2,1.5l2,-.2l2,-.3l2,-.4l2,-2l2,0l2,3l2,-1.7l2,1.6l2,-2.1l2,2.3l2,-.3l2,1.7l2,-.9l2,.6l2,2.3l2,-.1l2,-.9l2,1.7l2,.4l2,-2.7l2,-.6l2,2.7l2,-.5l2,-2.2l2,-.8l2,.3l2,.1l2,-1l2,.4l2,.2l2,-.5l2,2.7l2,-1.4l2,-.3l2,1.2l2,-1.2l2,1.8l2,-1.1l2,.5l2,.4l2,-.8l2,-1.2l2,1.2l2,.5l2,-.9l2,-.6l2,1l2,-1.7l2,.6l2,-.3l2,.5l2,-1.2l2,0l2,-2.1l2,-1l2,2.4l2,-2.4l2,1l2,2.5l2,-2.1l2,1l2,1.2l2,.9l2,-.3l2,-1.7l2,3.1l2,-2.8l2,-1.5l2,2.3l2,-.6l2,.9l2,-.7l2,.3l2,-2.5l2,2.2l2,1.4l2,1.2l2,-.1l2,.5l2,-3.7l2,3.4l2,-2.2l2,1.3l2,2l2,1l2,-.5l2,-3.8l2,1.9l2,-1.3l2,3.2l2,0l2,-2.4l2,-1.2l2,-.2l2,-1.9l2,.8l2,.4l2,.6l2,-1l2,.1l2,-.8l2,1.4l2,-.1l2,-.7l2,2l2,-1.1l2,1.5l2,-1.4l2,1.3l2,.2l2,-.2l2,.4l2,-2.5l2,1.5l2,-.7l2,-1.1l2,-2l2,-.2l2,-1.5l2,1.8l2,-.3l2,.8l2,2.2l2,.9l2,-.7l2,1.1l2,.8l2,.4l2,-.9l2,.9l2,-.4l2,.1l2,.1l2,-.8l2,1.8l2,.3l2,-.3l2,0l2,-.1l2,-.6l2,-.4l2,1.3l2,-.6l2,.1l2,-1.4l2,1.3l2,-.1l2,-.1l2,.5l2,-.4l2,1.8l2,-1.3l2,.7l2,-1.4l2,1.8l2,-1.6l2,.1l2,-1.4l2,-.4l2,-.1l2,.1l2,1l2,-1.1l2,-1.2l2,-.4l2,.7l2,-.9l2,.5l2,1l2,-.4l2,-.4l2,-1.7l2,2.5l2,-2l2,2.8l2,-.9l2,-2.7l2,-.7l2,1.6l2,.5l2,-.7l2,-1l2,.7l2,-1.1l2,0l2,-.9l2,.5l2,1.3l2,1.3l2,-.7l2,.2l2,.1l2,2.2l2,0l2,.7l2,-.1l2,-1.3l2,1.9l2,1l2,1.4l2,0l2,-2l2,-1l2,.3l2,1.2l2,.7l2,-.7l2,.7l2,-.3l2,-1.3l2,1l2,-.3l2,-.3l2,.7l2,0l2,-.7l2,-1.3l2,2.1l2,-1.1l2,1.7l2,-1.5l2,1.1l2,-.9l2,-.9l2,-1.8l2,1.7l2,-2.3l2,.5l2,-3.5l2,-1l2,.7l2,2.6l2,.7l2,-1.7l2,.2l2,.6l2,-2.4l2,.4l2,.6l2,0l2,1l2,-.4l2,-2.2l2,3l2,-1l2,2.4l2,-3.2l2,.3l2,-1.7l2,0l2,.8l2,1l2,1.6l2,-.9l2,-.2l2,-2.3l2,2.5l2,2.5l2,-1.8l2,0l2,2.8l2,-.7l2,-2.5l2,2.3l2,.7l2,3.1l2,.4l2,-3.8l2,-.1l2,.2l2,3.2l2,-2.9l2,-2l2,.6l2,-1.3l2,1.8l2,-.5l2,1.5l2,.8l2,-5.2l2,3l2,.8l2,-1.4l2,2.9l2,-2.2l2,2.6l2,-1.2l2,-.3l2,1l2,-2.6l2,1l2,-.5l2,-2.5l2,2.1l2,-3.5l2,1.9l2,-1.9l2,-.2l2,1.8l2,-2l2,1.6l2,1.5l2,-.1l2,.1l2,.7l2,0l1.1,1" stroke="#ff3b33"/><path d="M90.2,395.5l2,.8l2,-.4l2,-.1l2,2.5l2,-3l2,2.3l2,-1.8l2,1.9l2,1.7l2,-2.9l2,2.2l2,.1l2,-1.2l2,-1.2l2,2.8l2,-4.1l2,.3l2,.4l2,1.5l2,-.4l2,-.5l2,-1.5l2,1l2,1.1l2,-.8l2,.6l2,-3l2,1.8l2,.5l2,.3l2,-.9l2,-.8l2,-.1l2,2.3l2,-.8l2,0l2,.6l2,-1l2,.7l2,1.3l2,.3l2,-1.2l2,.6l2,-1.4l2,0l2,.4l2,.8l2,-.4l2,-1.9l2,1.2l2,.3l2,-.5l2,-.4l2,.2l2,.1l2,0l2,.1l2,-.7l2,-.4l2,.4l2,-.2l2,0l2,-1l2,.3l2,-.2l2,-2.2l2,3.6l2,-2l2,.7l2,-.5l2,-1.4l2,3.8l2,-1.3l2,-.3l2,-1.1l2,1.5l2,.5l2,.6l2,-.2l2,-1.3l2,-.5l2,1l2,.9l2,-.1l2,-.1l2,.1l2,0l2,-.5l2,-1l2,1.7l2,-.9l2,.9l2,-2l2,2.1l2,3.3l2,-2.1l2,.8l2,.5l2,-2.4l2,.9l2,1.2l2,-1.8l2,2.4l2,-2.5l2,2.1l2,.5l2,-.7l2,-1.3l2,-1.1l2,1.4l2,-.9l2,1.4l2,.1l2,-1.9l2,1.1l2,-.2l2,.1l2,.2l2,-.3l2,-1.4l2,1.5l2,.5l2,-.5l2,-.3l2,-1.1l2,-.7l2,3l2,-1.6l2,1.4l2,-1.3l2,.3l2,1l2,-.5l2,.3l2,-.3l2,-1.2l2,1.1l2,-.1l2,-.4l2,-1.7l2,.3l2,.9l2,0l2,-.5l2,-.6l2,-.8l2,.2l2,1.4l2,-1.1l2,.9l2,-.6l2,.7l2,-.3l2,-.1l2,.5l2,-.9l2,-.2l2,2.1l2,0l2,.7l2,-.4l2,-.1l2,-.8l2,.6l2,-.2l2,.9l2,-.2l2,-.4l2,-1l2,-.3l2,1.1l2,-1.6l2,-.2l2,.6l2,0l2,1.4l2,-.4l2,-1.7l2,.5l2,1.7l2,-.8l2,-.7l2,.6l2,-.4l2,1.8l2,-1.3l2,1.7l2,1.1l2,-1.5l2,.5l2,-1.2l2,1l2,1.3l2,-2.9l2,-.2l2,2.4l2,1l2,0l2,-2.3l2,.4l2,-1.7l2,1.9l2,-.6l2,.2l2,-1.5l2,-.7l2,.8l2,1.8l2,.2l2,-.8l2,.5l2,-1.1l2,1.8l2,-.5l2,-.4l2,0l2,.3l2,.1l2,.8l2,-.3l2,-.8l2,-.2l2,-.2l2,.9l2,-.8l2,-.8l2,-.7l2,-1.3l2,1l2,-1l2,-1.1l2,-.6l2,1l2,-1.4l2,.1l2,.1l2,-1.3l2,1.7l2,-1.7l2,.9l2,-.1l2,1.6l2,-2.4l2,.2l2,2.2l2,.6l2,-1.6l2,2.3l2,-2.1l2,-.5l2,3.5l2,-1.9l2,.4l2,-1.7l2,1.4l2,1.3l2,0l2,-2l2,-.3l2,.5l2,-.8l2,3l2,-.6l2,-3.9l2,1.2l2,-.7l2,-.5l2,.4l2,-.4l2,2.9l2,-1.2l2,2.5l2,1.8l2,-.3l2,-3.5l2,2.5l2,1.4l2,-1.7l2,3.4l2,-1.2l2,-1.9l2,.5l2,2.4l2,-.3l2,-2.4l2,1.3l2,-.9l2,2.5l2,-1.9l2,.7l2,-1l2,.7l2,-2.7l2,.8l2,2.6l2,-3.8l2,-.3l2,-.6l2,1.4l2,2.8l2,-.5l2,-.5l2,-1.7l2,2.1l2,.1l2,1l2,-.8l2,-2.4l2,2l2,-.9l2,2.2l1.1,-.6" stroke="#ff3333"/><path d="M90.2,393.4l2,.5l2,-.9l2,.5l2,-.9l2,4.1l2,-1.1l2,-.9l2,1l2,1.5l2,-3.4l2,0l2,3.3l2,-.5l2,-.4l2,.5l2,-2.4l2,1.4l2,1.2l2,-1.3l2,-1.1l2,.3l2,-.8l2,1l2,1.6l2,-1.1l2,.7l2,.3l2,.7l2,.9l2,-1.6l2,1.2l2,1l2,-.1l2,-1.6l2,1.4l2,.2l2,-.8l2,.6l2,-2.6l2,1.2l2,-1.6l2,1.2l2,1.2l2,-1.4l2,.7l2,-.3l2,-1l2,.4l2,.2l2,-.6l2,1l2,-.6l2,-.5l2,.3l2,1.1l2,-.1l2,-1.5l2,1.3l2,-2.3l2,-.5l2,1.6l2,-.1l2,-2.5l2,-1.5l2,-1.4l2,.7l2,2.1l2,-2.5l2,1.2l2,-1.5l2,1.1l2,-1.1l2,2.1l2,-.2l2,1.9l2,-1.8l2,0l2,2.9l2,1.8l2,-2.3l2,1.3l2,-2.4l2,-.6l2,.7l2,1.1l2,.3l2,-.4l2,.4l2,0l2,.1l2,.2l2,.6l2,-.4l2,-1.3l2,-.4l2,-.4l2,3.6l2,-1.9l2,-1.1l2,-.4l2,2.3l2,2.3l2,-1.4l2,1l2,.3l2,0l2,.2l2,1.2l2,0l2,-.2l2,-1l2,.1l2,-1.5l2,.8l2,-.2l2,.2l2,-.1l2,-2.3l2,1.3l2,-2.1l2,.6l2,1.6l2,-1.6l2,-2.7l2,0l2,3.8l2,.8l2,.2l2,-.5l2,-2.6l2,.5l2,1.6l2,0l2,.4l2,-.9l2,-1l2,.4l2,1.1l2,-.7l2,1l2,-2l2,-.7l2,1l2,-.5l2,.5l2,.3l2,.8l2,-1.1l2,-1l2,.5l2,.4l2,2.2l2,-2l2,1.8l2,.1l2,-1.2l2,.8l2,1.1l2,0l2,-2.1l2,.9l2,-.6l2,1.6l2,-.8l2,-.5l2,-.1l2,-1.2l2,1.7l2,1.1l2,-1.4l2,1l2,-.5l2,-.8l2,.7l2,.8l2,1l2,.3l2,-2.9l2,-.2l2,1.3l2,2l2,-1.7l2,.8l2,.4l2,-2.2l2,-.4l2,1.1l2,-.6l2,2.5l2,-1.6l2,-2.1l2,1l2,.7l2,.2l2,-.3l2,-2.1l2,-.6l2,1.5l2,.2l2,.7l2,-1l2,.1l2,-.5l2,1.3l2,.9l2,.8l2,.4l2,-1.4l2,-.6l2,-.6l2,.7l2,.9l2,-.5l2,-.2l2,-.5l2,-.3l2,1.1l2,-.9l2,.5l2,-2.1l2,1l2,-1.1l2,-1.2l2,.7l2,.6l2,-2.5l2,1.2l2,-1.5l2,2.7l2,.3l2,-.8l2,1.8l2,-1l2,-3l2,1l2,3.4l2,-3.2l2,-.2l2,-.4l2,1.9l2,-1.2l2,-.3l2,2.9l2,-1.6l2,-2.9l2,1.8l2,2.2l2,-1.6l2,.9l2,1.7l2,-2l2,-1.2l2,2.3l2,.5l2,.9l2,.4l2,-1.8l2,1.6l2,.5l2,.3l2,-1.4l2,1.3l2,-3.1l2,-1l2,3.4l2,-1.6l2,2.1l2,-4.1l2,-.2l2,1.8l2,-2.2l2,1.3l2,1.1l2,-2.9l2,1.8l2,-.7l2,0l2,-.1l2,4.4l2,-1.7l2,-1.6l2,-1.2l2,4l2,-3.3l2,2.7l2,-2.6l2,2.2l2,-3.1l2,-.7l2,2.7l2,-1.7l2,-1.1l2,-1.5l2,2.7l2,.2l2,-1.8l2,2.3l2,-3.1l2,-.6l2,2.3l2,.8l2,1l2,-2l2,-.2l2,1.6l2,-.6l2,1.8l2,-1.1l2,.8l2,2l2,-.8l1.1,-2.3" stroke="#ff3d33"/><path d="M90.2,397.2l2,1.6l2,-2.1l2,1.5l2,-.3l2,-1.4l2,1.3l2,-.8l2,.1l2,-.6l2,2l2,-1.1l2,-2.1l2,1.4l2,-3.9l2,-.1l2,2.2l2,.3l2,-.3l2,-2.3l2,.5l2,3.2l2,.6l2,-2.3l2,1l2,1.1l2,-1.1l2,-1.2l2,.6l2,-.4l2,-2l2,.8l2,1.6l2,-1.5l2,-.6l2,-.9l2,1.2l2,2.4l2,.1l2,-1.2l2,-.1l2,2l2,.3l2,.9l2,-1.7l2,.8l2,-.4l2,.5l2,-1.7l2,.6l2,-.8l2,-1l2,.5l2,.5l2,1.1l2,-.2l2,-.3l2,-.7l2,.9l2,.8l2,-2.5l2,-.9l2,-.2l2,.3l2,1.4l2,-2.1l2,.2l2,-2.4l2,1.3l2,-.8l2,2.8l2,-.9l2,.7l2,-.1l2,.8l2,-.5l2,-.2l2,.9l2,1.6l2,.1l2,-.6l2,-.5l2,1.8l2,-1.5l2,1.6l2,1.1l2,-2.4l2,-2.1l2,-1.4l2,1.1l2,2.5l2,-1.3l2,.7l2,1.4l2,-3.5l2,5l2,.3l2,1.1l2,-3.5l2,.9l2,2.2l2,.2l2,-.5l2,.1l2,-1.8l2,-1.1l2,-.1l2,-.1l2,1.9l2,-3l2,.3l2,3.1l2,-.3l2,-.2l2,-.6l2,.6l2,1.4l2,-1.1l2,.9l2,-1.9l2,1l2,-.9l2,-2l2,1.4l2,-.6l2,-2.6l2,-1.2l2,2.8l2,1.2l2,-.4l2,.2l2,-.1l2,-.2l2,1.7l2,0l2,-.5l2,-1.3l2,1.2l2,1.2l2,-.3l2,-2.5l2,.9l2,0l2,.4l2,-.1l2,-1.8l2,-.7l2,1l2,.9l2,.4l2,-.7l2,-.6l2,.3l2,1.6l2,-.4l2,-.1l2,-.5l2,-1.2l2,2.1l2,.2l2,-2.2l2,.1l2,.3l2,.6l2,-.9l2,.2l2,.6l2,-.3l2,.3l2,1.5l2,.6l2,-1l2,.6l2,.4l2,-.7l2,1.7l2,-1.5l2,-1.9l2,-.2l2,1.9l2,-.5l2,.5l2,-1.6l2,-1.9l2,.3l2,-.1l2,3.7l2,-2.7l2,.4l2,.6l2,2.9l2,1.2l2,0l2,-3.4l2,2.7l2,.3l2,-2l2,.4l2,-.8l2,-1l2,1.5l2,1l2,-.7l2,-.6l2,-1.1l2,.3l2,.8l2,.5l2,0l2,.1l2,-.2l2,1l2,.7l2,-1.3l2,-.2l2,-.5l2,.5l2,.9l2,-1.2l2,.3l2,-1.4l2,-.4l2,.1l2,-.4l2,0l2,.5l2,-2l2,.3l2,.8l2,.6l2,-.9l2,-.2l2,1.9l2,-2.1l2,1.5l2,-.8l2,-1.2l2,-.6l2,-1l2,-.3l2,-1.6l2,.6l2,-.7l2,3.2l2,1.6l2,-.2l2,-1.2l2,.4l2,-.4l2,-.1l2,.8l2,-1.4l2,.2l2,-1.9l2,.1l2,.2l2,-1.3l2,0l2,0l2,.9l2,-.9l2,.8l2,-.8l2,1l2,-.9l2,4.8l2,-1.5l2,.9l2,-3.7l2,4.7l2,.7l2,-2.3l2,-.7l2,-3l2,3.4l2,-1.3l2,-.4l2,1.5l2,-3.2l2,1.4l2,-1.4l2,6.4l2,-1.2l2,-.3l2,-2.8l2,1.4l2,5.7l2,-2.1l2,1.5l2,-1.4l2,-2.2l2,1.3l2,2.3l2,-1.5l2,-.9l2,-1.5l2,.8l2,.3l2,.5l2,-.9l2,-1.3l2,.7l2,1.8l2,1.6l2,-2.3l2,2.2l2,-2.1l2,3l2,-.6l2,-1.6l2,.8l2,-1.2l1.1,.8" stroke="#d13d45"/><path d="M90.2,396.6l2,1.4l2,-1.2l2,2.4l2,.2l2,-.8l2,.3l2,-.7l2,0l2,-1.1l2,1.4l2,-1l2,.5l2,-.9l2,-.3l2,-1.1l2,2.2l2,.2l2,-.5l2,-.6l2,-.1l2,1.3l2,-.7l2,1.1l2,-.8l2,-.1l2,-.3l2,0l2,.1l2,-1.4l2,1l2,-1l2,.4l2,-1.5l2,.5l2,1.8l2,-.8l2,.9l2,-.7l2,.3l2,.8l2,-.7l2,.4l2,.1l2,.5l2,-.2l2,-1.1l2,-.1l2,.4l2,-.2l2,-.4l2,.4l2,-.5l2,.3l2,.8l2,.2l2,-.2l2,-.3l2,-.5l2,.9l2,-1.7l2,.4l2,-.5l2,1.1l2,-2.3l2,-.1l2,-.7l2,1.2l2,-.7l2,1.2l2,.7l2,-1.3l2,1.5l2,-.9l2,1.9l2,-.1l2,-.7l2,1l2,-1.3l2,-.7l2,-.5l2,2.3l2,-1.5l2,-.1l2,1.4l2,-.8l2,-.9l2,-.4l2,2.6l2,.3l2,-.9l2,1.1l2,-.1l2,-.1l2,.6l2,-1.7l2,1.6l2,-1.2l2,-.8l2,0l2,.6l2,-.8l2,.7l2,.2l2,.9l2,-1.7l2,1.5l2,0l2,-.2l2,1.7l2,0l2,-.8l2,0l2,-.6l2,.5l2,.5l2,-.6l2,.3l2,-1.6l2,-.1l2,.4l2,.1l2,-.8l2,.9l2,-.9l2,.6l2,.2l2,-.3l2,.9l2,-.6l2,-.4l2,.2l2,0l2,-.8l2,-.1l2,.4l2,.7l2,-.4l2,-.1l2,0l2,-.2l2,.1l2,.6l2,-.2l2,.4l2,-.6l2,-.6l2,.8l2,0l2,-.2l2,-.6l2,-.6l2,.8l2,-.9l2,-.2l2,.9l2,.5l2,-.1l2,-.6l2,.4l2,-.1l2,.1l2,.6l2,-.3l2,0l2,.5l2,-.8l2,.9l2,-.1l2,-.8l2,.9l2,-.6l2,-.2l2,-.8l2,.7l2,.2l2,.6l2,.4l2,-.1l2,.1l2,-.1l2,-.1l2,-.6l2,1.2l2,-1.6l2,-.5l2,-.4l2,.6l2,0l2,.2l2,.8l2,-1.2l2,.5l2,.8l2,.7l2,1l2,-.3l2,.3l2,-1l2,.4l2,.6l2,-.5l2,-.5l2,-.2l2,.6l2,-.3l2,-1.6l2,.2l2,1.5l2,.3l2,-.3l2,-.7l2,.9l2,-.8l2,.8l2,.6l2,0l2,-.8l2,.5l2,-1l2,.5l2,-.3l2,.3l2,-1.2l2,-.5l2,.6l2,-1l2,-.6l2,.4l2,.9l2,.3l2,-.4l2,-.1l2,-1l2,1.4l2,-1.7l2,1.1l2,-1.6l2,-1l2,-.2l2,.1l2,.7l2,-.3l2,1.9l2,-2.2l2,.6l2,.8l2,-.3l2,1l2,-.4l2,-.6l2,1l2,0l2,-2.3l2,.2l2,-.1l2,.7l2,.6l2,-1.3l2,-.1l2,0l2,1.4l2,-1.4l2,.3l2,-.3l2,2.3l2,-.7l2,-.8l2,2l2,-.6l2,.6l2,-2.3l2,-.2l2,.9l2,-.7l2,1.8l2,-.8l2,-.3l2,1l2,-1l2,-.8l2,1l2,2.1l2,.4l2,-.9l2,1.3l2,-.6l2,-.5l2,.7l2,.4l2,-2l2,.5l2,.7l2,.2l2,-.1l2,.4l2,.5l2,-.1l2,0l2,.2l2,-.8l2,1.8l2,-.2l2,.2l2,-2.2l2,1l2,-.2l2,-.6l2,-.1l2,.8l2,.2l2,-1l1.1,-1.1" stroke="#ffb833"/><path d="M90.2,389.1l2,.5l2,3.3l2,-2l2,-.4l2,.7l2,-1.1l2,2l2,3l2,1.7l2,.7l2,-3.3l2,-.2l2,-.1l2,.8l2,.2l2,1.7l2,-1.1l2,1.3l2,-2.5l2,-.4l2,-.1l2,2.5l2,1.7l2,-.2l2,-1.1l2,.7l2,-1.5l2,1l2,.2l2,-1.7l2,3.2l2,-.3l2,-2.1l2,-1l2,-.2l2,-.7l2,.5l2,-.3l2,-.2l2,.3l2,.6l2,.4l2,-1.1l2,1.2l2,0l2,-.3l2,.6l2,.6l2,-1.2l2,-.1l2,-.9l2,.7l2,.4l2,-.7l2,1l2,0l2,-1.9l2,-.9l2,1.5l2,.3l2,-2.3l2,.3l2,2.2l2,.6l2,-2.1l2,-1.1l2,4.1l2,-.1l2,-.1l2,2.4l2,-1.3l2,.4l2,-2.3l2,.7l2,.8l2,-.8l2,1.3l2,.1l2,-.6l2,-1.7l2,.3l2,-1.5l2,2.1l2,1.6l2,.7l2,-.7l2,-2.8l2,1.6l2,-1.8l2,-1.8l2,-.1l2,1.4l2,-2.7l2,-.4l2,.6l2,-.3l2,-.6l2,-1.8l2,2l2,-1.3l2,-.2l2,.3l2,1.8l2,2.2l2,-.3l2,1.2l2,-.8l2,.1l2,-.9l2,.4l2,-1l2,1.2l2,1l2,-.4l2,1.9l2,-1.3l2,-.1l2,-.8l2,2l2,-.2l2,-1.9l2,3.7l2,-.5l2,-.3l2,.3l2,-1.8l2,-.2l2,2.8l2,1.2l2,-2.4l2,1.3l2,0l2,-.3l2,-.1l2,-1.6l2,1l2,-.5l2,-.9l2,1l2,-1.6l2,2.2l2,-1.9l2,.4l2,0l2,2.7l2,-1.3l2,-.5l2,-.8l2,-.3l2,.1l2,-1.9l2,0l2,.3l2,-.9l2,.7l2,.8l2,-1.9l2,1.8l2,-1.3l2,.9l2,1.6l2,.3l2,.2l2,-.3l2,-1.8l2,2.5l2,-1.2l2,2.2l2,-.7l2,-.9l2,-.4l2,-2.2l2,2.2l2,-.2l2,1.2l2,.6l2,-2l2,.9l2,-.7l2,-.6l2,3.1l2,1.2l2,-1.9l2,-1.1l2,3.2l2,-1.9l2,-2.8l2,.5l2,-.6l2,2l2,-2.1l2,2.9l2,-2.8l2,-2.4l2,1.6l2,.1l2,.6l2,.8l2,-1.4l2,-.7l2,2.3l2,-.4l2,-1.4l2,.6l2,.3l2,.6l2,-1l2,-.3l2,.1l2,.6l2,.7l2,-1.4l2,.4l2,.2l2,1.3l2,-.9l2,-.4l2,1.6l2,.8l2,.1l2,.2l2,-1.2l2,-.7l2,-.5l2,.2l2,-.9l2,.3l2,2.2l2,-1.9l2,.3l2,1l2,-2.1l2,1.5l2,-.6l2,-1l2,4.3l2,-1.9l2,.3l2,.4l2,1l2,-1.4l2,1.6l2,1.3l2,-.9l2,-1.8l2,1.5l2,-4.3l2,2.3l2,-2.2l2,.4l2,-2.4l2,-.9l2,-.4l2,.8l2,-.9l2,-1.5l2,1.2l2,.2l2,-.1l2,2.7l2,-1.6l2,-2.4l2,1.9l2,-1.9l2,3.8l2,1.2l2,-3.1l2,.3l2,-2.2l2,0l2,1.4l2,-1.4l2,1.1l2,-1.1l2,0l2,0l2,0l2,2.5l2,-.3l2,2.2l2,2.6l2,1.3l2,-2.2l2,-2l2,3.2l2,-.7l2,1.4l2,-.6l2,.1l2,1.1l2,-3.4l2,.8l2,-2.3l2,2.8l2,-1.3l2,-.2l2,3.9l2,-.9l2,-3.1l2,2l2,.3l2,1.1l2,-2.4l2,2.2l2,-2.6l2,.5l2,.4l2,-3.5l2,.1l2,.7l2,.6l1.1,-.4" stroke="#3dcc5f"/><path d="M90.2,396.3l2,0l2,-.1l2,-.3l2,.3l2,.5l2,-.3l2,.5l2,.3l2,.8l2,-.5l2,.1l2,-1.4l2,0l2,1.1l2,-.9l2,.9l2,-2l2,1.1l2,-1.4l2,.2l2,-.2l2,.5l2,.7l2,.7l2,-.3l2,-1.3l2,.5l2,1.6l2,-1.1l2,1.6l2,.1l2,-1.6l2,-.3l2,.7l2,-.6l2,1l2,.4l2,-.4l2,.7l2,.3l2,-.7l2,.5l2,0l2,.1l2,.4l2,.7l2,0l2,-.7l2,.1l2,.2l2,-.6l2,-.1l2,.7l2,-.3l2,-.3l2,.7l2,-.7l2,.1l2,-.4l2,.9l2,-.3l2,.8l2,.1l2,-1.2l2,1.2l2,-.5l2,-1.9l2,1.4l2,-1.7l2,1.1l2,-.6l2,-.2l2,.2l2,-.4l2,.1l2,.5l2,0l2,-.3l2,1.3l2,0l2,-.7l2,-.7l2,.4l2,.1l2,.1l2,-1.5l2,0l2,.8l2,-.6l2,-.6l2,-.7l2,.1l2,1l2,-.6l2,-.5l2,.9l2,-.9l2,1.2l2,-.5l2,.4l2,.4l2,-.2l2,.9l2,.3l2,-1l2,-.2l2,.1l2,-.6l2,1.7l2,-.6l2,.4l2,.6l2,-.2l2,-.1l2,.4l2,0l2,.8l2,.4l2,-.5l2,.6l2,-1.4l2,.3l2,-.5l2,-.4l2,1.2l2,0l2,-.9l2,1l2,-.8l2,.8l2,-.9l2,.6l2,.3l2,.4l2,.1l2,-.3l2,.5l2,-1.3l2,-.2l2,.7l2,.3l2,-.8l2,-.2l2,.1l2,-.2l2,-.3l2,-.1l2,.8l2,-.4l2,.4l2,-.1l2,0l2,.2l2,-.5l2,.3l2,0l2,-.6l2,.1l2,.4l2,-.1l2,-1l2,.5l2,-.3l2,-.2l2,.6l2,0l2,0l2,.7l2,-.2l2,-.5l2,0l2,.1l2,-.1l2,0l2,.3l2,.2l2,-.2l2,-1.4l2,-.4l2,.6l2,.1l2,-.6l2,.6l2,1l2,.5l2,-1.2l2,0l2,.9l2,.6l2,-.9l2,.5l2,.9l2,-.1l2,-1.8l2,.8l2,.1l2,-.9l2,1.2l2,-.1l2,-.5l2,.6l2,.3l2,-.8l2,.4l2,1l2,-.8l2,.4l2,.6l2,-.1l2,-1.2l2,.8l2,-.9l2,-.1l2,.6l2,.2l2,.1l2,-.4l2,-.1l2,-.1l2,.3l2,0l2,-.2l2,.1l2,-.1l2,-.2l2,-.4l2,-.9l2,-.8l2,0l2,.3l2,-.3l2,.6l2,-.2l2,-1.3l2,.2l2,.3l2,-.5l2,.3l2,1.5l2,.8l2,-1.5l2,0l2,-.3l2,.2l2,.9l2,-.9l2,-.1l2,.8l2,-1.4l2,.5l2,-.3l2,.2l2,-.4l2,1.9l2,-1.2l2,1l2,-.3l2,.9l2,-1.2l2,.4l2,.7l2,-.5l2,.1l2,-.1l2,-.1l2,-1l2,1.3l2,.5l2,.1l2,-.2l2,.2l2,0l2,-.2l2,1.1l2,-1.1l2,.6l2,-.8l2,.3l2,.5l2,-1l2,.9l2,-1.4l2,.8l2,-.7l2,-1.3l2,-.3l2,2.2l2,-.7l2,.8l2,-1.1l2,.1l2,-.7l2,1.7l2,.4l2,.2l2,-1.2l2,.8l2,-1.2l2,-.6l2,-.5l2,.6l2,.7l2,-.2l2,-.2l2,.4l2,-.4l2,-.5l2,0l2,.5l2,.6l2,1.2l1.1,-1.1" stroke="#3dd15c"/><path d="M90.2,392.2l2,-4l2,1.8l2,-2.6l2,0l2,0l2,0l2,2.5l2,-2.5l2,4.4l2,-2.6l2,2.5l2,-2.2l2,1.3l2,1.2l2,2.2l2,1.1l2,-2.8l2,1.9l2,2.1l2,-.6l2,-2.4l2,-.2l2,-1l2,-.4l2,-1.4l2,4.7l2,-3.5l2,1.8l2,-1.2l2,4l2,.7l2,-1l2,.9l2,-.7l2,2l2,1.2l2,0l2,-2.1l2,-.3l2,.4l2,.7l2,.2l2,-1.8l2,1.8l2,-.3l2,-1l2,.8l2,-1.2l2,.6l2,-1.1l2,-1l2,.1l2,.5l2,1l2,-.4l2,2.1l2,-.5l2,-.9l2,-2.6l2,-1l2,.4l2,.4l2,-.3l2,-3.5l2,.6l2,.8l2,-.4l2,-1.4l2,-.2l2,-1.6l2,1.4l2,-1l2,4.1l2,-1.2l2,1.1l2,-3.4l2,.5l2,1.1l2,-1.7l2,4l2,-2.1l2,3.1l2,-4l2,1.7l2,-3.2l2,.6l2,1.9l2,-3.3l2,3.3l2,-.1l2,-.7l2,-1.4l2,3.7l2,-1.1l2,1.2l2,-3.8l2,2.9l2,5l2,-.1l2,-2.3l2,4.9l2,-2.9l2,-.1l2,.7l2,-3.2l2,3.3l2,.5l2,0l2,-1.8l2,1.4l2,-.4l2,-2.3l2,.6l2,-.1l2,2.4l2,.7l2,.7l2,-.8l2,.5l2,-.8l2,-.5l2,-1.6l2,1l2,.5l2,1l2,-3.3l2,-.5l2,2.1l2,.1l2,-2.1l2,-.4l2,-.9l2,1.9l2,.2l2,.3l2,-.7l2,1.1l2,-1l2,-.9l2,-1.4l2,2.8l2,.2l2,-1.6l2,1.7l2,-.1l2,-.2l2,.5l2,-.4l2,-1.2l2,-2.5l2,1.8l2,.2l2,.3l2,.4l2,-2.1l2,.1l2,0l2,1.4l2,.1l2,-.1l2,2l2,-.9l2,.6l2,1.2l2,0l2,-.7l2,-1l2,.7l2,-1.2l2,.2l2,1.5l2,-1.8l2,.4l2,-.2l2,1.1l2,-.9l2,-2.4l2,1.6l2,1.1l2,1.3l2,-.8l2,2.1l2,-2.3l2,0l2,.5l2,.1l2,-1.6l2,.5l2,3.6l2,-.1l2,-1.4l2,-2.2l2,2.2l2,-3l2,-.5l2,0l2,1.6l2,1.4l2,-2.5l2,3.1l2,-.2l2,-.9l2,-.8l2,.3l2,-.3l2,1.4l2,.9l2,-.5l2,-.9l2,-1.5l2,1.1l2,-.6l2,-.1l2,-.5l2,.7l2,.2l2,1l2,-1.8l2,-.9l2,-1l2,-.4l2,.2l2,-1l2,2.4l2,0l2,.1l2,0l2,-.2l2,-2.2l2,-1.4l2,.6l2,1.1l2,.4l2,-2.6l2,.7l2,1.5l2,-.4l2,.2l2,-2.5l2,.9l2,-1.7l2,5.5l2,-.5l2,-.9l2,-.6l2,1.5l2,1l2,-1.6l2,.1l2,2.3l2,.7l2,-.1l2,.5l2,-2l2,1.7l2,-1.3l2,-3.9l2,2.9l2,-3.2l2,2.5l2,.8l2,-2.3l2,6l2,-.4l2,-6.1l2,3l2,.9l2,-1.2l2,3.6l2,-3.1l2,4.1l2,.1l2,-3.4l2,.8l2,-5.2l2,2.6l2,.1l2,-3.1l2,2.8l2,.1l2,-5.8l2,2.3l2,-1.7l2,2.5l2,-3.1l2,2.4l2,-1.2l2,2.6l2,2.5l2,-3.9l2,1.7l2,2.3l2,-2.2l2,-.1l2,-1.6l2,-.9l2,3.5l2,-.2l2,-.1l2,-2.8l2,.7l2,-1.2l2,.8l2,-.5l2,.3l2,2l2,1.2l2,-1.1l2,2.3l2,.3l2,-.9l1.1,-1" stroke="#3dd164"/><path d="M90.2,398.2l2,-.3l2,-.1l2,-.3l2,.4l2,.2l2,-.1l2,-.3l2,0l2,.5l2,-.5l2,.3l2,0l2,-.5l2,.3l2,-.2l2,.4l2,.2l2,.2l2,-.3l2,.2l2,.1l2,0l2,.1l2,-.1l2,-.2l2,.1l2,.3l2,-.1l2,0l2,-.1l2,-.1l2,.3l2,0l2,.1l2,-.1l2,0l2,.3l2,.2l2,-.1l2,.4l2,0l2,0l2,-.1l2,-.2l2,-.1l2,.1l2,-.1l2,-.1l2,0l2,.3l2,-.2l2,.1l2,0l2,0l2,.1l2,-.1l2,.1l2,-.2l2,-.2l2,.2l2,.1l2,-.3l2,-.3l2,-.1l2,-.1l2,0l2,-.1l2,-.7l2,.6l2,.2l2,-.3l2,.5l2,-.5l2,.3l2,.4l2,-.5l2,.1l2,.3l2,-.4l2,-.2l2,.6l2,-.8l2,0l2,.2l2,-.5l2,0l2,.4l2,-.1l2,-.3l2,.3l2,-.1l2,.4l2,.1l2,.2l2,-.1l2,-.2l2,.2l2,.1l2,-.8l2,.3l2,-.3l2,.5l2,-.1l2,.2l2,.2l2,-.6l2,.5l2,.1l2,-.1l2,-.1l2,.5l2,.2l2,.3l2,-.4l2,.1l2,.1l2,0l2,.1l2,-.5l2,.1l2,-.1l2,.2l2,.1l2,-.1l2,.2l2,-.3l2,.1l2,.2l2,-.3l2,0l2,.2l2,.3l2,-.2l2,.1l2,.3l2,-.3l2,.2l2,-.2l2,-.4l2,-.1l2,.2l2,.2l2,-.2l2,.3l2,-.3l2,.1l2,-.1l2,.2l2,-.1l2,.2l2,0l2,0l2,0l2,-.3l2,.1l2,0l2,0l2,0l2,-.3l2,0l2,-.1l2,-.3l2,.3l2,-.1l2,.4l2,-.2l2,.1l2,0l2,.1l2,-.2l2,-.3l2,0l2,.1l2,0l2,-.2l2,0l2,.3l2,-.1l2,-.5l2,-.3l2,.1l2,.2l2,-.1l2,-.2l2,.4l2,.4l2,.3l2,0l2,-.5l2,0l2,.2l2,0l2,0l2,-.4l2,.7l2,-.2l2,.2l2,0l2,0l2,-.1l2,-.1l2,.4l2,-.4l2,0l2,.4l2,.4l2,0l2,.1l2,0l2,-.4l2,-.1l2,-.1l2,.3l2,-.3l2,.3l2,-.1l2,.2l2,-.1l2,-.1l2,.3l2,-.3l2,-.1l2,.2l2,-.2l2,.2l2,-.3l2,-.1l2,.4l2,-.1l2,0l2,-.2l2,-.3l2,.2l2,-.4l2,-.3l2,.3l2,0l2,-.1l2,.5l2,-.5l2,.7l2,-.3l2,-.2l2,-.4l2,.5l2,-.4l2,.2l2,0l2,-.3l2,-.4l2,.1l2,-.2l2,.3l2,-.3l2,0l2,0l2,0l2,0l2,0l2,0l2,.9l2,-.8l2,-.1l2,0l2,.3l2,0l2,.2l2,-.5l2,.2l2,.1l2,.1l2,.2l2,-.4l2,-.2l2,0l2,0l2,0l2,.3l2,.6l2,.1l2,.6l2,-.1l2,-.9l2,.5l2,0l2,-.9l2,-.1l2,.6l2,-.1l2,.1l2,0l2,.3l2,.5l2,.1l2,-.7l2,.7l2,.1l2,-.1l2,.1l2,-.2l2,.3l2,0l2,-.5l2,0l2,.4l2,-.1l2,-.6l2,0l2,.3l2,.1l2,.1l1.1,-.1" stroke="#3355ff"/><path d="M90.2,399.1l2,.1l2,-.3l2,.1l2,-.1l2,.1l2,.2l2,-.2l2,0l2,.2l2,.1l2,-.2l2,.1l2,0l2,-.3l2,0l2,.1l2,.1l2,-.1l2,0l2,-.2l2,.1l2,0l2,.1l2,-.2l2,0l2,.1l2,0l2,.2l2,-.1l2,.1l2,0l2,0l2,0l2,0l2,0l2,-.2l2,.1l2,.1l2,0l2,0l2,.1l2,0l2,-.1l2,.1l2,0l2,-.1l2,.1l2,-.1l2,.1l2,0l2,.1l2,0l2,0l2,-.1l2,0l2,.1l2,-.1l2,-.1l2,0l2,0l2,-.1l2,0l2,.1l2,0l2,0l2,.1l2,0l2,0l2,-.1l2,.2l2,0l2,0l2,-.1l2,-.1l2,.1l2,0l2,-.1l2,.2l2,-.1l2,-.1l2,.1l2,0l2,.1l2,-.2l2,0l2,0l2,.2l2,-.2l2,.2l2,-.1l2,0l2,0l2,-.1l2,.1l2,-.1l2,.1l2,-.1l2,-.2l2,.3l2,0l2,0l2,-.1l2,-.1l2,0l2,.2l2,0l2,-.2l2,.2l2,-.1l2,.1l2,0l2,-.1l2,.1l2,-.1l2,.1l2,-.1l2,.1l2,-.1l2,0l2,-.1l2,0l2,0l2,0l2,-.1l2,0l2,0l2,.1l2,.1l2,0l2,0l2,.1l2,-.1l2,.2l2,-.1l2,-.1l2,0l2,0l2,0l2,0l2,0l2,0l2,-.1l2,0l2,.1l2,0l2,0l2,0l2,0l2,.2l2,0l2,-.2l2,0l2,.1l2,0l2,0l2,0l2,0l2,-.1l2,.1l2,0l2,-.1l2,.1l2,0l2,-.1l2,.2l2,0l2,0l2,-.1l2,.1l2,0l2,0l2,.1l2,-.2l2,.1l2,-.1l2,.1l2,.1l2,-.2l2,0l2,-.2l2,.2l2,0l2,0l2,-.1l2,.2l2,-.2l2,.2l2,.1l2,0l2,-.2l2,0l2,.1l2,0l2,.1l2,-.2l2,-.1l2,-.1l2,.1l2,.1l2,-.1l2,0l2,-.1l2,0l2,.1l2,.1l2,0l2,0l2,0l2,0l2,0l2,0l2,0l2,0l2,.1l2,-.1l2,0l2,.1l2,-.1l2,-.1l2,.1l2,-.2l2,0l2,0l2,-.1l2,.1l2,0l2,-.1l2,.1l2,-.1l2,.1l2,0l2,0l2,.1l2,-.1l2,-.2l2,.3l2,0l2,-.2l2,.1l2,-.2l2,.1l2,-.1l2,.2l2,.1l2,-.1l2,-.1l2,.1l2,.1l2,-.1l2,.2l2,-.2l2,.1l2,.1l2,.1l2,-.3l2,.2l2,-.3l2,.1l2,-.1l2,.1l2,.1l2,0l2,-.1l2,0l2,.1l2,.1l2,0l2,.1l2,-.3l2,.1l2,.3l2,-.2l2,-.1l2,.2l2,0l2,0l2,-.1l2,.1l2,-.4l2,.2l2,-.1l2,.1l2,0l2,0l2,0l2,.2l2,-.2l2,.1l2,-.1l2,0l2,0l2,.2l2,-.1l2,0l2,-.2l2,0l2,.1l2,0l2,.1l2,-.2l2,-.1l2,.1l2,0l2,.1l2,-.1l2,0l2,-.1l2,.1l2,.2l2,-.1l2,.1l1.1,-.1" stroke="#3d4fd1"/></g><line x1="90.2" y1="400.0" x2="713.3" y2="400.0" stroke="#3f4a66" stroke-width="1.3"/><path d="M90.5,185.7 L91.7,175.3 L92.7,183.5 L94.4,170.1 L95.4,186.5 L96.3,199.1 L97.4,217.7 L98.7,201.4 L99.4,205.1 L100.6,176.0 L101.8,193.2 L102.9,202.1 L104.1,227.4 L105.1,248.2 L106.1,220.0 L107.0,243.8 L108.1,214.0 L109.3,187.2 L110.3,209.5 L111.3,203.6 L112.5,221.4 L114.0,253.5 L115.5,237.8 L116.7,220.0 L118.0,247.5 L118.9,227.4 L120.3,239.3 L122.2,227.4 L123.4,221.4 L124.4,209.5 L125.5,236.3 L126.7,239.3 L127.1,264.9 L128.9,270.1 L130.4,263.4 L131.4,260.4 L132.6,253.0 L133.1,234.1 L134.6,248.2 L136.7,228.9 L137.8,244.5 L139.6,206.6 L141.1,200.6 L142.3,215.5 L143.4,236.3 L144.2,227.4 L145.3,262.7 L146.8,230.4 L147.8,245.3 L148.7,238.6 L150.9,259.7 L152.4,239.3 L153.5,252.7 L154.7,249.7 L155.0,267.9 L155.7,278.3 L157.2,288.7 L157.9,309.5 L159.0,317.7 L160.6,315.5 L161.2,299.1 L162.1,293.2 L163.4,272.3 L164.6,293.2 L165.4,315.5 L166.1,332.6 L167.6,336.3 L169.1,340.1 L170.6,339.3 L171.3,351.2 L172.8,357.2 L174.3,357.9 L175.8,352.7 L177.0,358.7 L177.0,359.5 L178.1,371.4 L180.3,364.0 L181.8,359.5 L183.3,358.8 L184.8,355.8 L186.3,344.7 L187.7,332.7 L188.9,313.4 L189.7,312.2 L190.4,321.6 L191.9,325.3 L193.0,334.2 L194.4,352.1 L195.5,359.5 L196.7,358.8 L198.2,371.4 L199.4,381.9 L200.4,386.0 L201.4,374.4 L202.6,365.5 L204.1,359.5 L205.6,357.3 L206.8,355.8 L208.3,344.7 L210.8,300.6 L211.9,285.7 L212.8,281.3 L213.1,254.2 L214.3,233.4 L215.6,220.0 L216.5,214.0 L217.5,207.3 L218.7,217.7 L219.8,206.6 L220.8,191.7 L222.0,179.8 L223.0,190.9 L224.5,194.7 L225.3,205.1 L226.5,214.0 L227.2,242.3 L227.5,243.8 L228.4,233.4 L229.4,225.9 L230.2,199.1 L231.7,189.4 L232.7,205.1 L233.5,212.5 L234.4,224.4 L235.4,237.8 L236.9,240.1 L237.9,252.7 L239.1,251.2 L240.2,237.8 L241.1,230.4 L242.4,240.8 L243.3,252.7 L244.8,255.7 L245.4,258.9 L246.1,279.8 L246.9,305.1 L248.4,297.6 L249.2,284.2 L250.0,264.9 L250.3,258.7 L251.8,239.3 L253.3,225.9 L254.3,215.5 L255.5,200.6 L256.5,188.7 L257.3,184.5 L258.5,196.1 L259.7,209.5 L260.7,211.0 L261.7,205.8 L262.5,220.0 L263.2,230.4 L264.0,237.8 L264.7,222.9 L265.6,239.3 L266.2,254.2 L266.3,257.4 L267.0,273.1 L268.1,258.9 L268.9,239.3 L269.9,222.9 L270.7,231.9 L271.6,209.5 L272.2,183.5 L273.4,183.5 L274.5,193.2 L275.6,205.1 L276.6,196.1 L277.8,209.5 L278.9,218.5 L279.8,197.6 L280.8,209.5 L282.0,179.8 L283.0,172.3 L283.8,174.6 L284.8,160.4 L285.6,187.2 L286.0,217.0 L287.5,221.4 L288.7,224.4 L290.0,228.1 L291.2,219.2 L292.4,218.5 L293.5,228.1 L294.6,227.4 L295.7,242.1 L296.8,257.0 L298.0,262.9 L299.2,271.1 L300.5,254.8 L301.7,268.9 L303.2,264.4 L304.4,253.3 L305.4,273.4 L306.2,285.3 L307.7,292.7 L308.7,288.2 L310.3,286.8 L311.4,300.2 L312.9,303.9 L313.9,289.0 L314.4,304.9 L315.1,318.3 L316.6,331.7 L318.1,340.6 L319.6,347.3 L321.0,354.0 L322.5,361.4 L324.0,368.9 L325.5,365.9 L326.6,360.0 L327.5,349.5 L328.5,334.7 L329.5,315.3 L330.3,301.9 L331.2,303.4 L332.2,285.3 L333.0,273.4 L334.0,271.9 L334.9,257.0 L335.9,227.2 L336.7,215.3 L337.9,212.3 L338.9,219.8 L339.7,233.2 L340.4,219.0 L341.9,224.2 L342.6,239.1 L343.4,258.5 L344.9,274.8 L345.6,301.9 L346.7,309.4 L347.4,300.2 L348.6,291.2 L349.6,288.2 L351.3,291.2 L352.3,301.6 L352.8,303.4 L353.8,316.8 L355.3,325.7 L357.2,324.2 L358.3,333.2 L359.3,341.4 L360.8,340.6 L362.0,346.6 L363.8,349.5 L364.7,358.5 L365.7,363.2 L366.7,349.5 L367.5,333.2 L368.2,316.8 L369.4,310.8 L370.9,309.4 L372.4,306.4 L373.9,300.4 L374.9,298.6 L376.1,309.4 L377.2,315.3 L378.1,334.7 L379.1,342.1 L380.6,348.8 L381.6,360.0 L382.8,373.4 L384.0,379.3 L385.5,379.3 L386.2,368.9 L387.3,343.6 L388.5,330.2 L389.5,325.7 L390.6,309.4 L391.8,296.0 L392.9,291.8 L394.0,297.4 L395.0,310.8 L396.2,308.6 L397.4,312.3 L398.2,324.2 L399.2,319.8 L400.4,331.7 L401.4,342.1 L402.5,361.4 L403.3,373.4 L404.2,377.8 L405.5,368.9 L406.7,364.4 L407.7,346.6 L408.6,330.2 L409.7,319.8 L410.4,297.4 L410.4,286.8 L411.5,274.8 L412.4,273.1 L413.4,279.3 L414.4,280.8 L415.6,288.2 L416.7,300.2 L417.9,306.4 L418.6,327.2 L419.4,349.5 L420.4,365.9 L421.6,368.9 L422.6,374.8 L423.8,377.8 L425.3,382.3 L426.3,370.4 L427.1,349.5 L427.8,331.7 L429.0,318.3 L429.8,304.9 L429.8,298.7 L430.8,296.4 L432.0,297.2 L433.5,291.2 L434.5,288.2 L435.7,297.2 L437.2,300.9 L438.7,306.1 L439.4,309.4 L440.9,319.8 L442.4,328.7 L443.2,342.1 L444.2,354.0 L445.0,356.2 L446.1,348.1 L446.9,327.2 L447.6,304.9 L447.6,286.8 L448.4,267.4 L449.4,254.0 L450.3,245.1 L451.4,225.7 L452.8,225.0 L454.3,216.8 L455.8,207.9 L457.3,201.2 L458.4,209.4 L459.2,212.3 L460.0,224.2 L460.7,240.6 L461.5,252.5 L462.5,239.1 L463.6,238.4 L464.3,252.5 L465.0,268.9 L466.2,271.1 L467.3,267.4 L468.2,272.6 L469.2,260.0 L470.3,249.5 L471.4,246.6 L472.5,242.1 L473.4,229.0 L474.4,234.7 L475.2,243.6 L476.2,232.0 L477.1,245.1 L478.1,249.5 L479.2,260.0 L480.1,268.9 L480.7,280.8 L481.6,268.9 L483.1,267.4 L484.1,252.5 L484.8,251.0 L485.6,264.4 L486.3,285.3 L487.4,300.2 L487.4,312.3 L488.1,317.5 L489.3,310.8 L490.4,301.9 L490.4,297.2 L491.5,282.3 L492.6,279.3 L493.8,285.3 L495.3,276.3 L496.3,274.1 L497.1,285.3 L497.9,294.2 L499.0,306.1 L499.4,315.3 L500.9,324.2 L502.0,315.3 L503.0,304.9 L503.8,303.4 L504.6,312.3 L505.7,327.2 L506.7,342.1 L508.0,344.3 L509.5,343.6 L510.2,331.7 L511.0,319.8 L512.1,317.5 L513.2,322.7 L514.4,331.7 L515.4,333.9 L516.5,342.1 L517.7,346.6 L518.7,358.5 L519.6,368.9 L520.3,379.3 L521.4,383.8 L522.6,378.6 L523.6,379.3 L524.6,382.3 L525.8,378.6 L527.0,377.8 L528.1,370.4 L529.1,358.5 L530.3,354.8 L531.3,346.6 L532.2,336.1 L533.3,333.2 L534.3,329.4 L535.5,324.2 L536.7,322.0 L537.7,316.8 L538.2,304.9 L538.5,284.2 L539.2,272.3 L540.0,270.8 L540.7,285.7 L541.8,275.3 L542.7,266.3 L543.7,284.9 L544.4,263.4 L545.2,257.4 L546.2,272.3 L547.1,286.4 L548.5,281.2 L549.7,266.3 L550.8,247.0 L551.9,232.8 L553.1,239.5 L554.1,242.5 L555.2,254.4 L556.1,264.8 L557.1,265.6 L557.8,245.5 L558.9,251.4 L559.8,236.6 L560.5,215.7 L561.6,209.8 L562.3,196.4 L563.4,200.8 L564.2,210.5 L565.3,200.8 L566.3,202.3 L567.2,215.7 L567.8,229.1 L568.3,254.4 L568.7,272.3 L569.3,281.2 L570.5,270.8 L571.7,264.8 L573.2,258.9 L574.2,251.4 L575.0,239.5 L576.0,250.0 L577.2,264.1 L578.2,255.9 L579.4,253.7 L580.5,245.5 L581.4,235.1 L582.1,217.2 L582.7,197.9 L583.4,183.0 L584.2,180.7 L585.1,188.9 L585.8,203.8 L586.9,206.0 L587.6,218.7 L588.8,231.4 L589.8,209.8 L590.9,204.6 L592.1,206.8 L592.8,230.6 L593.9,212.7 L594.8,214.2 L595.8,231.4 L596.8,219.4 L598.0,227.6 L599.1,220.2 L600.0,228.4 L601.0,209.8 L601.1,186.8 L601.7,164.4 L602.4,147.3 L603.5,152.5 L604.4,146.6 L605.4,139.1 L606.9,136.4 L607.6,145.1 L608.4,158.5 L609.9,161.4 L610.6,171.9 L611.7,177.8 L612.8,168.9 L613.6,155.5 L614.6,149.5 L615.8,148.8 L616.3,137.6 L617.3,151.0 L618.1,136.1 L619.1,147.3 L620.0,130.2 L621.0,145.1 L622.2,128.7 L623.3,122.0 L624.3,131.7 L625.0,141.4 L625.9,133.9 L626.7,149.5 L627.3,168.9 L628.2,182.3 L629.2,193.5 L630.4,186.8 L631.4,173.4 L632.5,157.0 L633.4,139.1 L634.4,139.9 L635.2,154.0 L636.2,155.5 L637.1,152.5 L638.1,160.0 L638.9,164.4 L639.9,155.5 L641.1,154.0 L641.9,145.1 L642.6,139.1 L643.7,138.4 L644.8,134.7 L645.9,125.7 L647.4,122.7 L648.6,117.5 L649.3,104.9 L650.4,97.4 L651.5,97.1 L652.3,104.9 L653.0,119.8 L653.8,128.7 L654.8,129.4 L655.6,152.5 L656.8,150.3 L657.5,142.1 L658.2,133.2 L659.3,148.1 L660.2,155.5 L661.2,157.0 L662.3,136.9 L663.2,128.7 L664.2,149.5 L664.2,177.6 L665.5,144.1 L666.4,162.7 L667.4,161.3 L668.2,182.1 L669.2,174.7 L670.1,189.5 L670.8,200.0 L671.6,191.0 L672.3,207.4 L672.9,225.3 L673.8,222.3 L675.2,214.8 L676.1,223.8 L677.1,225.3 L677.8,237.2 L677.8,244.9 L678.6,262.7 L679.3,280.6 L680.4,291.0 L681.3,296.2 L682.0,279.1 L682.6,252.3 L683.4,240.2 L684.2,234.2 L685.3,240.2 L686.3,231.2 L687.5,226.8 L688.6,219.3 L689.3,204.4 L690.5,202.6 L692.0,203.7 L693.2,202.2 L693.8,210.4 L694.7,219.3 L696.0,225.3 L696.9,234.2 L697.9,243.1 L699.4,245.4 L700.2,255.3 L700.9,267.2 L701.4,282.1 L702.1,291.0 L703.1,297.7 L704.3,299.2 L705.1,289.5 L706.1,287.3 L706.9,294.0 L707.6,304.4 L708.4,314.8 L709.5,306.7 L710.6,314.1 L711.6,307.4 L712.5,298.5 L713.4,292.5" fill="none" stroke="#000" stroke-width="2.4" stroke-linejoin="round" stroke-linecap="round"/></svg>
<div class="legend"><label class="it"><span class="cb"><svg viewBox="0 0 12 12" width="12" height="12"><path d="M2.3 6.3 L5.0 8.7 L9.5 2.9" fill="none" stroke="#383838" stroke-width="2.3"/></svg></span><span class="tx" style="color:#d92b38;transform:scaleX(0.8954)">BOCORWF1</span></label><label class="it"><span class="cb"><svg viewBox="0 0 12 12" width="12" height="12"><path d="M2.3 6.3 L5.0 8.7 L9.5 2.9" fill="none" stroke="#383838" stroke-width="2.3"/></svg></span><span class="tx" style="color:#ffb52e;transform:scaleX(0.9143)">BODWF1</span></label><label class="it"><span class="cb"><svg viewBox="0 0 12 12" width="12" height="12"><path d="M2.3 6.3 L5.0 8.7 L9.5 2.9" fill="none" stroke="#383838" stroke-width="2.3"/></svg></span><span class="tx" style="color:#3dcc5f;transform:scaleX(0.8558)">CAPTL_WF</span></label><label class="it"><span class="cb"><svg viewBox="0 0 12 12" width="12" height="12"><path d="M2.3 6.3 L5.0 8.7 L9.5 2.9" fill="none" stroke="#383838" stroke-width="2.3"/></svg></span><span class="tx" style="color:#33f3ff;transform:scaleX(0.8937)">CROOKWF2</span></label><label class="it"><span class="cb"><svg viewBox="0 0 12 12" width="12" height="12"><path d="M2.3 6.3 L5.0 8.7 L9.5 2.9" fill="none" stroke="#383838" stroke-width="2.3"/></svg></span><span class="tx" style="color:#7a3ddb;transform:scaleX(0.8655)">CULLRGWF</span></label><label class="it"><span class="cb"><svg viewBox="0 0 12 12" width="12" height="12"><path d="M2.3 6.3 L5.0 8.7 L9.5 2.9" fill="none" stroke="#383838" stroke-width="2.3"/></svg></span><span class="tx" style="color:#ff33c4;transform:scaleX(0.8803)">GULLRWF1</span></label><label class="it"><span class="cb"><svg viewBox="0 0 12 12" width="12" height="12"><path d="M2.3 6.3 L5.0 8.7 L9.5 2.9" fill="none" stroke="#383838" stroke-width="2.3"/></svg></span><span class="tx" style="color:#d9a03d;transform:scaleX(0.9488)">GUNNING1</span></label><label class="it"><span class="cb"><svg viewBox="0 0 12 12" width="12" height="12"><path d="M2.3 6.3 L5.0 8.7 L9.5 2.9" fill="none" stroke="#383838" stroke-width="2.3"/></svg></span><span class="tx" style="color:#7bff33;transform:scaleX(0.8938)">SAPHWF1</span></label><label class="it"><span class="cb"><svg viewBox="0 0 12 12" width="12" height="12"><path d="M2.3 6.3 L5.0 8.7 L9.5 2.9" fill="none" stroke="#383838" stroke-width="2.3"/></svg></span><span class="tx" style="color:#3dc9d1;transform:scaleX(0.8725)">STWF1</span></label><label class="it"><span class="cb"><svg viewBox="0 0 12 12" width="12" height="12"><path d="M2.3 6.3 L5.0 8.7 L9.5 2.9" fill="none" stroke="#383838" stroke-width="2.3"/></svg></span><span class="tx" style="color:#3355ff;transform:scaleX(0.8911)">TARALGA1</span></label><label class="it"><span class="cb"><svg viewBox="0 0 12 12" width="12" height="12"><path d="M2.3 6.3 L5.0 8.7 L9.5 2.9" fill="none" stroke="#383838" stroke-width="2.3"/></svg></span><span class="tx" style="color:#cc3daa;transform:scaleX(0.9579)">WOODLWN1</span></label><label class="it"><span class="cb"><svg viewBox="0 0 12 12" width="12" height="12"><path d="M2.3 6.3 L5.0 8.7 L9.5 2.9" fill="none" stroke="#383838" stroke-width="2.3"/></svg></span><span class="tx" style="color:#ff3b33;transform:scaleX(0.9110)">WRWF1</span></label><label class="it"><span class="cb"><svg viewBox="0 0 12 12" width="12" height="12"><path d="M2.3 6.3 L5.0 8.7 L9.5 2.9" fill="none" stroke="#383838" stroke-width="2.3"/></svg></span><span class="tx" style="color:#7cd94a;transform:scaleX(0.9134)">MEWF1</span></label><label class="it"><span class="cb"><svg viewBox="0 0 12 12" width="12" height="12"><path d="M2.3 6.3 L5.0 8.7 L9.5 2.9" fill="none" stroke="#383838" stroke-width="2.3"/></svg></span><span class="tx" style="color:#33ff58;transform:scaleX(0.8549)">BLUFF1</span></label><label class="it"><span class="cb"><svg viewBox="0 0 12 12" width="12" height="12"><path d="M2.3 6.3 L5.0 8.7 L9.5 2.9" fill="none" stroke="#383838" stroke-width="2.3"/></svg></span><span class="tx" style="color:#3d5fd1;transform:scaleX(0.8813)">CATHROCK</span></label><label class="it"><span class="cb"><svg viewBox="0 0 12 12" width="12" height="12"><path d="M2.3 6.3 L5.0 8.7 L9.5 2.9" fill="none" stroke="#383838" stroke-width="2.3"/></svg></span><span class="tx" style="color:#7433ff;transform:scaleX(0.8759)">CLEMGPWF</span></label><label class="it"><span class="cb"><svg viewBox="0 0 12 12" width="12" height="12"><path d="M2.3 6.3 L5.0 8.7 L9.5 2.9" fill="none" stroke="#383838" stroke-width="2.3"/></svg></span><span class="tx" style="color:#d1463d;transform:scaleX(0.9357)">CNUNDAWF</span></label><label class="it"><span class="cb"><svg viewBox="0 0 12 12" width="12" height="12"><path d="M2.3 6.3 L5.0 8.7 L9.5 2.9" fill="none" stroke="#383838" stroke-width="2.3"/></svg></span><span class="tx" style="color:#ffb833;transform:scaleX(0.9103)">HALLWF1</span></label><label class="it"><span class="cb"><svg viewBox="0 0 12 12" width="12" height="12"><path d="M2.3 6.3 L5.0 8.7 L9.5 2.9" fill="none" stroke="#383838" stroke-width="2.3"/></svg></span><span class="tx" style="color:#3dd15c;transform:scaleX(0.9103)">HALLWF2</span></label><label class="it"><span class="cb"><svg viewBox="0 0 12 12" width="12" height="12"><path d="M2.3 6.3 L5.0 8.7 L9.5 2.9" fill="none" stroke="#383838" stroke-width="2.3"/></svg></span><span class="tx" style="color:#33f0ff;transform:scaleX(0.9298)">HDWF1</span></label><label class="it"><span class="cb"><svg viewBox="0 0 12 12" width="12" height="12"><path d="M2.3 6.3 L5.0 8.7 L9.5 2.9" fill="none" stroke="#383838" stroke-width="2.3"/></svg></span><span class="tx" style="color:#8a3dd1;transform:scaleX(0.9298)">HDWF2</span></label><label class="it"><span class="cb"><svg viewBox="0 0 12 12" width="12" height="12"><path d="M2.3 6.3 L5.0 8.7 L9.5 2.9" fill="none" stroke="#383838" stroke-width="2.3"/></svg></span><span class="tx" style="color:#ff33cf;transform:scaleX(0.9298)">HDWF3</span></label><label class="it"><span class="cb"><svg viewBox="0 0 12 12" width="12" height="12"><path d="M2.3 6.3 L5.0 8.7 L9.5 2.9" fill="none" stroke="#383838" stroke-width="2.3"/></svg></span><span class="tx" style="color:#d1a45a;transform:scaleX(0.8868)">LGAPWF1</span></label><label class="it"><span class="cb"><svg viewBox="0 0 12 12" width="12" height="12"><path d="M2.3 6.3 L5.0 8.7 L9.5 2.9" fill="none" stroke="#383838" stroke-width="2.3"/></svg></span><span class="tx" style="color:#82ff33;transform:scaleX(0.9126)">LKBONNY1</span></label><label class="it"><span class="cb"><svg viewBox="0 0 12 12" width="12" height="12"><path d="M2.3 6.3 L5.0 8.7 L9.5 2.9" fill="none" stroke="#383838" stroke-width="2.3"/></svg></span><span class="tx" style="color:#3dc4d1;transform:scaleX(0.9126)">LKBONNY2</span></label><label class="it"><span class="cb"><svg viewBox="0 0 12 12" width="12" height="12"><path d="M2.3 6.3 L5.0 8.7 L9.5 2.9" fill="none" stroke="#383838" stroke-width="2.3"/></svg></span><span class="tx" style="color:#3347ff;transform:scaleX(0.9126)">LKBONNY3</span></label><label class="it"><span class="cb"><svg viewBox="0 0 12 12" width="12" height="12"><path d="M2.3 6.3 L5.0 8.7 L9.5 2.9" fill="none" stroke="#383838" stroke-width="2.3"/></svg></span><span class="tx" style="color:#d13da0;transform:scaleX(0.9253)">MTMILLAR</span></label><label class="it"><span class="cb"><svg viewBox="0 0 12 12" width="12" height="12"><path d="M2.3 6.3 L5.0 8.7 L9.5 2.9" fill="none" stroke="#383838" stroke-width="2.3"/></svg></span><span class="tx" style="color:#ff3333;transform:scaleX(0.9270)">NBHWF1</span></label><label class="it"><span class="cb"><svg viewBox="0 0 12 12" width="12" height="12"><path d="M2.3 6.3 L5.0 8.7 L9.5 2.9" fill="none" stroke="#383838" stroke-width="2.3"/></svg></span><span class="tx" style="color:#7fd13d;transform:scaleX(0.9402)">SNOWNTH1</span></label><label class="it"><span class="cb"><svg viewBox="0 0 12 12" width="12" height="12"><path d="M2.3 6.3 L5.0 8.7 L9.5 2.9" fill="none" stroke="#383838" stroke-width="2.3"/></svg></span><span class="tx" style="color:#33ff4d;transform:scaleX(0.9120)">SNOWSTH1</span></label><label class="it"><span class="cb"><svg viewBox="0 0 12 12" width="12" height="12"><path d="M2.3 6.3 L5.0 8.7 L9.5 2.9" fill="none" stroke="#383838" stroke-width="2.3"/></svg></span><span class="tx" style="color:#3d55d1;transform:scaleX(0.9419)">SNOWTWN1</span></label><label class="it"><span class="cb"><svg viewBox="0 0 12 12" width="12" height="12"><path d="M2.3 6.3 L5.0 8.7 L9.5 2.9" fill="none" stroke="#383838" stroke-width="2.3"/></svg></span><span class="tx" style="color:#8533ff;transform:scaleX(0.8764)">STARHLWF</span></label><label class="it"><span class="cb"><svg viewBox="0 0 12 12" width="12" height="12"><path d="M2.3 6.3 L5.0 8.7 L9.5 2.9" fill="none" stroke="#383838" stroke-width="2.3"/></svg></span><span class="tx" style="color:#d14a3d;transform:scaleX(0.8754)">WATERLWF</span></label><label class="it"><span class="cb"><svg viewBox="0 0 12 12" width="12" height="12"><path d="M2.3 6.3 L5.0 8.7 L9.5 2.9" fill="none" stroke="#383838" stroke-width="2.3"/></svg></span><span class="tx" style="color:#ffb133;transform:scaleX(0.9156)">WGWF1</span></label><label class="it"><span class="cb"><svg viewBox="0 0 12 12" width="12" height="12"><path d="M2.3 6.3 L5.0 8.7 L9.5 2.9" fill="none" stroke="#383838" stroke-width="2.3"/></svg></span><span class="tx" style="color:#3dd16a;transform:scaleX(0.9026)">WPWF</span></label><label class="it"><span class="cb"><svg viewBox="0 0 12 12" width="12" height="12"><path d="M2.3 6.3 L5.0 8.7 L9.5 2.9" fill="none" stroke="#383838" stroke-width="2.3"/></svg></span><span class="tx" style="color:#33fff0;transform:scaleX(0.8660)">MUSSELR1</span></label><label class="it"><span class="cb"><svg viewBox="0 0 12 12" width="12" height="12"><path d="M2.3 6.3 L5.0 8.7 L9.5 2.9" fill="none" stroke="#383838" stroke-width="2.3"/></svg></span><span class="tx" style="color:#953dd1;transform:scaleX(0.9400)">WOOLNTH1</span></label><label class="it"><span class="cb"><svg viewBox="0 0 12 12" width="12" height="12"><path d="M2.3 6.3 L5.0 8.7 L9.5 2.9" fill="none" stroke="#383838" stroke-width="2.3"/></svg></span><span class="tx" style="color:#ff33b8;transform:scaleX(0.9023)">ARWF1</span></label><label class="it"><span class="cb"><svg viewBox="0 0 12 12" width="12" height="12"><path d="M2.3 6.3 L5.0 8.7 L9.5 2.9" fill="none" stroke="#383838" stroke-width="2.3"/></svg></span><span class="tx" style="color:#d1a43d;transform:scaleX(0.9113)">BALDHWF1</span></label><label class="it"><span class="cb"><svg viewBox="0 0 12 12" width="12" height="12"><path d="M2.3 6.3 L5.0 8.7 L9.5 2.9" fill="none" stroke="#383838" stroke-width="2.3"/></svg></span><span class="tx" style="color:#8dff33;transform:scaleX(0.8997)">CHALLHWF</span></label><label class="it"><span class="cb"><svg viewBox="0 0 12 12" width="12" height="12"><path d="M2.3 6.3 L5.0 8.7 L9.5 2.9" fill="none" stroke="#383838" stroke-width="2.3"/></svg></span><span class="tx" style="color:#3dbfd1;transform:scaleX(0.9011)">CROWLWF1</span></label><label class="it"><span class="cb"><svg viewBox="0 0 12 12" width="12" height="12"><path d="M2.3 6.3 L5.0 8.7 L9.5 2.9" fill="none" stroke="#383838" stroke-width="2.3"/></svg></span><span class="tx" style="color:#3355ff;transform:scaleX(0.9032)">KIATAWF1</span></label><label class="it"><span class="cb"><svg viewBox="0 0 12 12" width="12" height="12"><path d="M2.3 6.3 L5.0 8.7 L9.5 2.9" fill="none" stroke="#383838" stroke-width="2.3"/></svg></span><span class="tx" style="color:#d23aa8;transform:scaleX(0.9244)">MACARTH1</span></label><label class="it"><span class="cb"><svg viewBox="0 0 12 12" width="12" height="12"><path d="M2.3 6.3 L5.0 8.7 L9.5 2.9" fill="none" stroke="#383838" stroke-width="2.3"/></svg></span><span class="tx" style="color:#ff3d33;transform:scaleX(0.8650)">MERCER01</span></label><label class="it"><span class="cb"><svg viewBox="0 0 12 12" width="12" height="12"><path d="M2.3 6.3 L5.0 8.7 L9.5 2.9" fill="none" stroke="#383838" stroke-width="2.3"/></svg></span><span class="tx" style="color:#85d13d;transform:scaleX(0.9403)">MLWF1</span></label><label class="it"><span class="cb"><svg viewBox="0 0 12 12" width="12" height="12"><path d="M2.3 6.3 L5.0 8.7 L9.5 2.9" fill="none" stroke="#383838" stroke-width="2.3"/></svg></span><span class="tx" style="color:#33ff5c;transform:scaleX(0.8945)">MTGELWF1</span></label><label class="it"><span class="cb"><svg viewBox="0 0 12 12" width="12" height="12"><path d="M2.3 6.3 L5.0 8.7 L9.5 2.9" fill="none" stroke="#383838" stroke-width="2.3"/></svg></span><span class="tx" style="color:#3d4fd1;transform:scaleX(0.9508)">MUWAWF1</span></label><label class="it"><span class="cb"><svg viewBox="0 0 12 12" width="12" height="12"><path d="M2.3 6.3 L5.0 8.7 L9.5 2.9" fill="none" stroke="#383838" stroke-width="2.3"/></svg></span><span class="tx" style="color:#9133ff;transform:scaleX(0.9341)">OAKLAND1</span></label><label class="it"><span class="cb"><svg viewBox="0 0 12 12" width="12" height="12"><path d="M2.3 6.3 L5.0 8.7 L9.5 2.9" fill="none" stroke="#383838" stroke-width="2.3"/></svg></span><span class="tx" style="color:#d13d45;transform:scaleX(0.8746)">PORTWF</span></label><label class="it"><span class="cb"><svg viewBox="0 0 12 12" width="12" height="12"><path d="M2.3 6.3 L5.0 8.7 L9.5 2.9" fill="none" stroke="#383838" stroke-width="2.3"/></svg></span><span class="tx" style="color:#ffb833;transform:scaleX(0.8535)">SALTCRK1</span></label><label class="it"><span class="cb"><svg viewBox="0 0 12 12" width="12" height="12"><path d="M2.3 6.3 L5.0 8.7 L9.5 2.9" fill="none" stroke="#383838" stroke-width="2.3"/></svg></span><span class="tx" style="color:#3dd164;transform:scaleX(0.9062)">WAUBRAWF</span></label><label class="it"><span class="cb"><svg viewBox="0 0 12 12" width="12" height="12"><path d="M2.3 6.3 L5.0 8.7 L9.5 2.9" fill="none" stroke="#383838" stroke-width="2.3"/></svg></span><span class="tx" style="color:#33e8ff;transform:scaleX(0.9109)">YAMBUKWF</span></label><label class="it"><span class="cb"><svg viewBox="0 0 12 12" width="12" height="12"><path d="M2.3 6.3 L5.0 8.7 L9.5 2.9" fill="none" stroke="#383838" stroke-width="2.3"/></svg></span><span class="tx" style="color:#8f3dd1;transform:scaleX(0.8665)">YSWF1</span></label><label class="it"><span class="cb"><svg viewBox="0 0 12 12" width="12" height="12"><path d="M2.3 6.3 L5.0 8.7 L9.5 2.9" fill="none" stroke="#383838" stroke-width="2.3"/></svg></span><span class="tx" style="transform:scaleX(0.9882)">Subtotal</span></label><label class="it"><span class="cb"><svg viewBox="0 0 12 12" width="12" height="12"><path d="M2.3 6.3 L5.0 8.7 L9.5 2.9" fill="none" stroke="#383838" stroke-width="2.3"/></svg></span><span class="tx" style="transform:scaleX(0.9803)">Total</span></label></div>
<div class="regions"><label class="it"><span class="cb"><svg viewBox="0 0 12 12" width="12" height="12"><path d="M2.3 6.3 L5.0 8.7 L9.5 2.9" fill="none" stroke="#383838" stroke-width="2.3"/></svg></span><span class="tx" style="transform:scaleX(0.9337)">NSW1</span></label><label class="it"><span class="cb"><svg viewBox="0 0 12 12" width="12" height="12"><path d="M2.3 6.3 L5.0 8.7 L9.5 2.9" fill="none" stroke="#383838" stroke-width="2.3"/></svg></span><span class="tx" style="transform:scaleX(0.9250)">QLD1</span></label><label class="it"><span class="cb"><svg viewBox="0 0 12 12" width="12" height="12"><path d="M2.3 6.3 L5.0 8.7 L9.5 2.9" fill="none" stroke="#383838" stroke-width="2.3"/></svg></span><span class="tx" style="transform:scaleX(0.8896)">SA1</span></label><label class="it"><span class="cb"><svg viewBox="0 0 12 12" width="12" height="12"><path d="M2.3 6.3 L5.0 8.7 L9.5 2.9" fill="none" stroke="#383838" stroke-width="2.3"/></svg></span><span class="tx" style="transform:scaleX(0.8752)">TAS1</span></label><label class="it"><span class="cb"><svg viewBox="0 0 12 12" width="12" height="12"><path d="M2.3 6.3 L5.0 8.7 L9.5 2.9" fill="none" stroke="#383838" stroke-width="2.3"/></svg></span><span class="tx" style="transform:scaleX(0.9018)">VIC1</span></label></div>
</div>
</body></html>
